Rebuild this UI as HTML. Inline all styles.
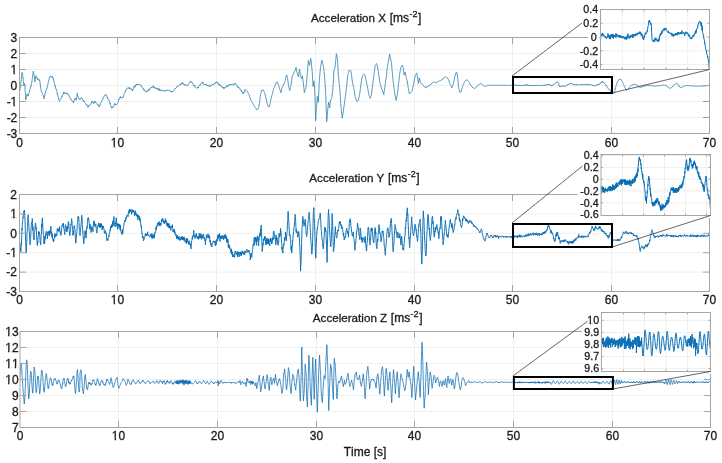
<!DOCTYPE html><html><head><meta charset="utf-8"><style>html,body{margin:0;padding:0;background:#fff}svg{display:block;will-change:transform}.t{stroke:#1a1a1a;stroke-width:0.3px}text{font-kerning:none}</style></head><body><svg width="722" height="463" viewBox="0 0 722 463" font-family="Liberation Sans, sans-serif">
<rect width="722" height="463" fill="#fff"/>
<g transform="translate(0,0)">
<path d="M117.5 37.5V133.5M216.5 37.5V133.5M315.5 37.5V133.5M414.5 37.5V133.5M512.5 37.5V133.5M611.5 37.5V133.5M19.5 53.5H709.5M19.5 69.5H709.5M19.5 85.5H709.5M19.5 101.5H709.5M19.5 117.5H709.5" stroke="#efefef" fill="none"/>
<clipPath id="c0"><rect x="19.5" y="27.5" width="690.0" height="116.0"/></clipPath>
<path clip-path="url(#c0)" d="M19.2 88.2L19.5 89.4 19.9 90.2 20.0 90.3 20.2 88.5 20.6 85.1 20.9 82.3 21.3 79.7 21.6 75.7 22.0 72.4 22.0 72.7 22.3 74.0 22.7 75.3 23.0 76.2 23.0 76.9 23.4 81.6 23.6 84.3 23.7 84.7 24.1 83.7 24.4 83.7 24.6 83.3 24.8 85.5 25.1 89.8 25.5 95.3 25.8 99.9 25.8 99.8 26.2 97.0 26.5 96.1 26.9 94.6 27.0 94.1 27.2 94.0 27.6 95.3 27.9 96.0 28.0 96.2 28.3 96.0 28.6 93.9 29.0 93.1 29.3 92.3 29.6 90.5 29.7 90.6 30.0 89.5 30.4 88.3 30.7 86.6 31.1 86.0 31.1 86.4 31.4 83.4 31.8 82.4 32.1 80.1 32.1 79.6 32.5 78.3 32.8 75.1 33.2 71.5 33.3 71.2 33.5 72.4 33.9 73.7 34.1 75.3 34.2 75.7 34.6 78.8 34.9 81.9 34.9 81.3 35.3 79.5 35.6 76.8 35.8 75.8 36.0 75.6 36.3 76.5 36.7 77.3 37.0 78.5 37.1 78.8 37.4 78.0 37.7 78.8 38.1 79.9 38.3 79.0 38.4 79.7 38.8 79.9 39.1 80.5 39.5 80.2 39.6 79.8 39.8 81.2 40.2 83.8 40.5 87.1 40.8 88.0 40.9 88.6 41.2 90.6 41.6 92.2 41.6 92.3 41.9 92.3 42.3 93.3 42.6 93.6 42.8 94.6 43.0 95.0 43.3 95.8 43.7 97.2 44.0 97.8 44.1 98.7 44.4 97.1 44.7 96.0 45.1 93.7 45.4 93.1 45.7 90.8 45.8 90.6 46.1 90.3 46.5 88.9 46.8 88.3 47.1 88.4 47.2 86.7 47.5 85.3 47.9 84.2 48.2 82.8 48.2 82.3 48.6 81.0 48.9 79.9 49.3 78.3 49.4 77.0 49.6 77.2 50.0 77.0 50.3 76.2 50.7 76.5 50.7 75.9 51.0 76.9 51.4 76.8 51.7 77.0 52.1 76.9 52.4 77.4 52.4 76.6 52.8 77.7 53.1 79.1 53.5 78.8 53.6 80.3 53.8 80.2 54.2 82.9 54.5 83.7 54.9 86.0 54.9 85.8 55.2 85.8 55.6 88.0 55.9 88.9 56.2 89.0 56.3 89.1 56.6 90.7 57.0 91.8 57.3 94.2 57.4 93.8 57.7 95.1 58.0 96.1 58.4 97.5 58.5 98.0 58.7 99.5 59.1 99.8 59.4 101.3 59.5 101.2 59.8 100.5 60.1 100.0 60.5 99.3 60.7 99.0 60.8 98.7 61.2 98.0 61.5 96.8 61.9 96.4 62.2 96.8 62.4 95.4 62.6 94.8 62.9 94.5 63.3 94.1 63.6 92.0 63.7 92.3 64.0 92.4 64.3 92.2 64.7 93.7 64.9 93.5 65.0 93.6 65.4 93.1 65.7 93.6 66.1 93.1 66.4 93.2 66.5 92.7 66.8 92.8 67.1 94.2 67.5 93.6 67.8 94.2 67.9 94.0 68.2 94.3 68.5 94.8 68.9 95.8 69.0 95.6 69.2 96.0 69.6 96.8 69.9 98.0 70.3 98.5 70.6 99.1 70.7 98.8 71.0 98.7 71.3 100.1 71.7 100.5 72.0 100.3 72.3 100.9 72.4 101.1 72.7 101.6 73.1 102.1 73.4 102.0 73.5 103.0 73.8 101.0 74.1 100.9 74.5 99.6 74.8 98.7 74.8 99.1 75.2 99.3 75.5 98.5 75.9 98.7 76.2 100.2 76.2 99.2 76.6 97.9 76.9 96.5 77.3 93.7 77.3 93.1 77.6 95.2 78.0 96.3 78.3 97.5 78.5 98.2 78.7 98.0 79.0 98.2 79.4 99.2 79.7 99.3 79.8 99.1 80.1 99.7 80.4 99.0 80.8 98.6 81.1 97.5 81.1 97.6 81.5 97.7 81.8 98.1 82.2 99.0 82.3 98.7 82.5 99.5 82.9 100.0 83.2 101.2 83.5 100.1 83.6 101.2 83.9 101.2 84.3 101.7 84.6 101.5 84.8 102.2 85.0 102.9 85.3 103.1 85.7 103.7 86.0 104.0 86.4 105.2 86.5 104.8 86.7 104.4 87.1 105.8 87.4 106.0 87.6 105.9 87.8 107.0 88.1 107.4 88.5 106.3 88.8 105.4 89.0 105.3 89.2 106.0 89.5 105.2 89.9 104.8 90.2 104.4 90.6 104.1 90.6 104.4 90.9 103.8 91.3 103.2 91.6 102.1 92.0 102.3 92.3 101.2 92.3 102.1 92.7 101.5 93.0 102.5 93.4 103.1 93.4 102.6 93.7 103.7 94.1 103.2 94.4 102.0 94.8 102.2 94.8 102.0 95.1 101.0 95.5 102.5 95.8 102.7 96.2 103.0 96.4 102.7 96.5 103.1 96.9 103.5 97.2 104.5 97.6 104.5 97.9 104.7 98.1 105.5 98.3 104.8 98.6 105.3 99.0 105.1 99.3 107.1 99.4 107.0 99.7 106.3 100.0 105.2 100.4 103.9 100.6 103.3 100.7 102.9 101.1 102.2 101.4 101.6 101.8 101.5 102.1 100.4 102.3 99.8 102.5 99.2 102.8 98.5 103.2 98.8 103.5 97.6 103.9 96.7 103.9 96.4 104.2 95.7 104.6 95.7 104.9 95.7 105.3 94.6 105.6 94.3 105.6 94.3 106.0 95.1 106.3 95.0 106.7 96.2 107.0 96.6 107.2 97.8 107.4 97.2 107.7 98.3 108.1 99.3 108.4 99.0 108.8 99.4 108.9 100.0 109.1 100.5 109.5 101.0 109.8 102.7 110.1 104.1 110.2 103.4 110.5 104.8 110.9 105.7 111.2 107.6 111.4 107.6 111.6 107.5 111.9 108.2 112.3 106.9 112.6 107.5 113.0 107.3 113.1 106.6 113.3 106.4 113.7 106.5 114.0 105.0 114.4 104.3 114.7 103.4 114.7 104.0 115.1 104.9 115.4 104.8 115.8 104.1 116.1 104.3 116.4 104.6 116.5 104.9 116.8 104.2 117.2 104.0 117.5 103.6 117.7 103.1 117.9 102.7 118.2 101.5 118.6 100.1 118.9 99.3 118.9 99.9 119.3 98.9 119.6 98.3 120.0 97.2 120.3 97.8 120.5 96.5 120.7 96.8 121.0 98.0 121.4 98.1 121.7 97.9 122.1 97.4 122.2 98.0 122.4 97.5 122.8 97.4 123.1 97.4 123.5 95.8 123.8 94.6 123.9 94.4 124.2 94.1 124.5 93.2 124.9 91.9 125.2 91.6 125.5 90.2 125.6 91.2 125.9 90.6 126.3 90.1 126.6 88.9 127.0 88.8 127.2 88.2 127.3 88.1 127.7 88.1 128.0 87.7 128.4 87.6 128.7 88.6 128.8 88.2 129.1 88.3 129.4 88.7 129.8 87.5 130.0 87.9 130.1 88.4 130.5 88.7 130.8 88.6 131.2 89.4 131.3 89.2 131.5 88.7 131.9 89.3 132.2 90.4 132.5 90.6 132.6 89.4 132.9 90.1 133.3 88.9 133.6 88.4 134.0 86.9 134.2 86.4 134.3 86.0 134.7 87.3 135.0 85.8 135.4 86.3 135.7 85.0 136.1 85.1 136.4 84.0 136.6 84.4 136.8 85.0 137.1 84.0 137.5 85.1 137.8 84.7 138.2 84.1 138.5 84.4 138.9 84.4 139.2 84.6 139.6 84.3 139.9 84.2 140.0 84.4 140.3 84.5 140.6 84.8 141.0 85.7 141.3 86.6 141.6 85.9 141.7 86.6 142.0 86.8 142.4 87.2 142.7 88.5 143.1 88.4 143.4 89.8 143.8 89.3 144.1 90.4 144.1 90.1 144.5 90.1 144.8 91.0 145.2 90.8 145.5 91.4 145.9 91.4 146.2 91.1 146.6 91.8 146.6 91.9 146.9 92.1 147.3 91.0 147.6 91.1 148.0 90.1 148.3 90.8 148.7 89.8 149.0 89.2 149.1 89.9 149.4 90.2 149.7 88.6 150.1 88.5 150.4 88.3 150.8 87.8 151.1 88.1 151.5 87.2 151.6 87.1 151.8 87.6 152.2 86.8 152.5 87.2 152.9 86.3 153.2 86.1 153.3 85.8 153.6 87.6 153.9 86.9 154.3 87.5 154.6 87.6 154.9 88.0 155.0 87.9 155.3 88.9 155.7 87.8 156.0 87.7 156.4 88.1 156.7 88.1 157.1 89.2 157.4 89.4 157.4 88.6 157.8 88.6 158.1 89.2 158.5 90.2 158.8 88.4 159.2 90.1 159.5 89.6 159.9 90.7 159.9 89.7 160.2 90.2 160.6 89.7 160.9 90.0 161.3 91.1 161.6 90.9 162.0 90.5 162.3 90.3 162.4 89.9 162.7 90.6 163.0 90.7 163.4 90.7 163.7 90.7 164.1 90.2 164.4 90.7 164.8 90.7 164.9 91.3 165.1 91.5 165.5 90.6 165.8 90.2 166.2 90.5 166.5 90.1 166.9 90.0 167.2 90.2 167.4 89.8 167.6 90.5 167.9 90.3 168.3 90.5 168.6 90.4 169.0 90.2 169.3 90.2 169.7 90.6 169.9 90.5 170.0 91.0 170.4 91.2 170.7 90.9 171.1 91.9 171.4 91.6 171.5 92.1 171.8 92.1 172.1 91.1 172.5 91.8 172.8 91.6 173.2 91.2 173.2 91.0 173.5 90.7 173.9 90.0 174.2 89.8 174.6 89.2 174.9 89.1 174.9 88.5 175.3 88.8 175.6 88.4 176.0 87.9 176.3 87.4 176.7 87.5 177.0 86.2 177.4 86.8 177.4 86.7 177.7 86.4 178.1 86.2 178.4 85.5 178.8 85.3 179.1 85.5 179.5 85.1 179.8 84.7 179.9 83.9 180.2 84.7 180.5 84.9 180.9 84.6 181.2 84.1 181.6 83.2 181.9 84.2 182.3 83.6 182.4 82.4 182.6 83.9 183.0 83.2 183.3 83.4 183.7 83.8 184.0 84.8 184.4 84.2 184.7 84.6 184.8 85.4 185.1 85.4 185.4 84.8 185.8 84.9 186.1 84.6 186.5 85.0 186.8 85.7 187.2 85.8 187.3 85.8 187.5 85.9 187.9 84.6 188.2 84.4 188.6 84.2 188.9 83.7 189.0 83.7 189.3 83.2 189.6 82.5 190.0 82.5 190.3 81.5 190.7 80.9 190.7 81.9 191.0 81.9 191.4 82.4 191.7 81.9 192.1 82.8 192.3 83.0 192.4 83.0 192.8 82.9 193.1 84.3 193.5 85.4 193.8 85.6 194.0 85.5 194.2 85.9 194.5 86.5 194.9 85.2 195.2 86.7 195.6 87.2 195.9 87.6 196.3 88.3 196.5 88.3 196.6 87.9 197.0 87.8 197.3 87.9 197.7 87.3 198.0 87.4 198.1 87.8 198.4 88.0 198.7 86.5 199.1 86.0 199.4 85.6 199.8 85.6 199.8 84.9 200.1 85.3 200.5 83.8 200.8 83.8 201.2 83.5 201.5 83.6 201.9 83.3 202.2 81.8 202.3 82.0 202.6 82.8 202.9 82.7 203.3 82.7 203.6 84.2 204.0 84.3 204.0 84.3 204.3 84.0 204.7 84.8 205.0 84.3 205.4 85.0 205.6 84.2 205.7 84.3 206.1 85.0 206.4 84.8 206.8 85.7 207.1 85.7 207.3 85.3 207.5 85.8 207.8 85.6 208.2 86.2 208.5 85.5 208.9 85.5 209.2 86.3 209.6 86.8 209.8 86.6 209.9 85.7 210.3 85.7 210.6 86.2 211.0 85.3 211.3 84.8 211.7 85.2 212.0 85.2 212.3 84.5 212.4 84.1 212.7 84.0 213.1 84.8 213.4 84.0 213.8 84.1 214.1 84.0 214.5 84.0 214.8 83.4 214.8 83.8 215.2 82.8 215.5 82.7 215.9 82.0 216.2 82.6 216.4 81.9 216.6 81.7 216.9 82.2 217.3 82.7 217.6 83.4 218.0 82.7 218.1 83.1 218.3 83.6 218.7 85.1 219.0 84.6 219.4 84.4 219.7 85.0 220.1 85.8 220.4 85.0 220.6 85.1 220.8 86.0 221.1 86.0 221.5 86.4 221.8 86.2 222.2 87.7 222.2 87.7 222.5 87.4 222.9 87.8 223.2 87.0 223.6 88.5 223.9 88.5 223.9 88.8 224.3 88.6 224.6 87.9 225.0 87.1 225.3 87.8 225.6 87.1 225.7 87.2 226.0 86.8 226.4 86.7 226.7 85.6 227.1 87.0 227.4 86.3 227.8 86.4 228.1 86.6 228.1 85.7 228.5 84.8 228.8 85.1 229.2 84.8 229.5 85.0 229.9 85.2 230.2 84.1 230.5 85.1 230.6 84.2 230.9 85.0 231.3 84.8 231.6 84.6 232.0 84.7 232.3 84.4 232.7 84.4 233.0 83.8 233.0 84.6 233.4 85.3 233.7 85.1 234.1 84.7 234.4 84.2 234.8 83.4 235.0 84.2 235.1 83.6 235.5 84.0 235.8 84.2 236.2 84.7 236.4 84.7 236.5 85.0 236.9 85.0 237.2 85.8 237.6 87.4 237.9 86.7 238.0 86.8 238.3 87.3 238.6 87.7 239.0 87.2 239.3 87.8 239.7 88.6 239.7 88.4 240.0 88.9 240.4 90.1 240.7 89.8 241.1 90.7 241.4 91.0 241.4 92.0 241.8 90.9 242.1 92.0 242.5 92.5 242.8 93.6 243.0 93.8 243.2 94.0 243.5 92.3 243.9 92.9 244.2 92.0 244.6 91.4 244.7 91.8 244.9 89.8 245.0 89.3 245.3 89.7 245.6 89.8 246.0 90.2 246.3 90.6 246.7 90.8 246.9 91.2 247.0 91.0 247.4 91.5 247.7 92.2 248.1 92.8 248.4 93.4 248.8 94.3 248.9 94.4 249.1 94.8 249.5 96.3 249.8 97.2 250.2 98.3 250.5 99.3 250.8 100.4 250.9 100.3 251.2 101.0 251.6 101.4 251.9 102.0 252.3 102.5 252.6 102.7 252.8 103.2 253.0 103.5 253.3 104.3 253.7 104.8 254.0 105.9 254.4 106.4 254.7 106.9 254.7 106.8 255.1 107.5 255.4 108.1 255.8 108.5 256.1 109.2 256.5 109.6 256.7 110.1 256.8 109.7 257.2 109.4 257.5 109.2 257.9 109.0 258.2 108.0 258.6 107.7 258.6 107.6 258.9 106.2 259.3 103.9 259.6 102.2 259.6 102.1 260.0 99.1 260.3 96.3 260.6 94.4 260.7 93.7 261.0 92.3 261.4 90.9 261.5 90.2 261.7 90.1 262.1 89.9 262.4 90.1 262.8 90.3 263.1 90.3 263.5 90.2 263.5 90.0 263.8 91.1 264.2 91.7 264.5 92.5 264.8 93.4 264.9 93.8 265.2 95.1 265.6 96.8 265.9 98.1 266.3 99.8 266.4 100.2 266.6 101.1 267.0 102.8 267.3 103.8 267.7 104.9 267.9 106.1 268.0 106.2 268.4 106.6 268.7 106.6 269.1 106.7 269.3 107.1 269.4 106.6 269.8 104.9 270.1 103.3 270.3 102.3 270.5 101.6 270.8 99.8 271.2 98.5 271.5 97.2 271.8 95.5 271.9 95.4 272.2 94.2 272.6 93.2 272.9 91.6 273.3 90.4 273.6 89.3 273.8 88.7 274.0 88.1 274.3 87.4 274.7 86.4 275.0 85.6 275.4 84.7 275.7 83.6 275.7 83.8 276.1 83.4 276.4 82.6 276.8 82.3 277.1 81.9 277.1 81.7 277.5 82.6 277.8 83.2 278.2 84.3 278.5 85.1 278.5 85.2 278.9 86.1 279.2 87.5 279.6 88.6 279.9 89.8 280.0 90.4 280.3 90.6 280.6 91.8 281.0 92.4 281.0 92.7 281.3 90.9 281.7 89.0 282.0 87.7 282.0 87.7 282.4 86.9 282.7 86.3 283.1 85.5 283.4 84.6 283.5 84.9 283.8 84.3 284.1 83.5 284.5 82.7 284.8 82.1 284.9 81.7 285.2 80.3 285.5 78.6 285.8 77.1 285.9 76.7 286.2 76.4 286.6 75.4 286.8 74.8 286.9 75.7 287.3 77.2 287.6 78.8 287.8 79.8 288.0 81.4 288.3 84.2 288.7 86.8 288.8 87.7 289.0 88.5 289.4 89.3 289.7 90.5 289.7 90.6 290.1 89.1 290.4 87.6 290.8 86.2 291.1 84.7 291.1 84.5 291.5 81.8 291.8 79.2 292.1 77.0 292.2 76.9 292.5 76.0 292.9 75.1 293.2 74.4 293.6 73.1 293.6 73.2 293.9 72.5 294.3 72.1 294.6 71.5 295.0 70.3 295.2 70.0 295.3 69.8 295.7 68.5 296.0 67.3 296.0 67.5 296.4 69.3 296.7 71.1 297.1 72.7 297.1 73.2 297.4 73.5 297.8 75.0 298.1 75.7 298.5 77.0 298.5 76.9 298.8 74.2 299.2 71.6 299.5 69.0 299.5 69.3 299.9 70.9 300.2 72.9 300.4 74.1 300.6 74.8 300.9 76.4 301.3 78.3 301.4 78.9 301.6 78.3 302.0 77.3 302.3 76.3 302.4 75.9 302.7 77.9 303.0 80.4 303.3 82.8 303.4 82.8 303.7 86.6 304.1 89.8 304.3 92.6 304.4 92.1 304.8 91.2 305.1 90.2 305.3 89.5 305.5 89.2 305.8 87.6 306.2 86.4 306.3 85.8 306.5 82.6 306.9 78.4 307.2 74.3 307.6 70.0 307.6 69.2 307.9 65.9 308.3 61.8 308.4 60.4 308.6 60.9 309.0 62.8 309.3 64.1 309.6 65.2 309.7 64.7 310.0 62.8 310.4 60.5 310.7 58.4 310.7 58.3 311.1 60.9 311.4 64.1 311.8 67.5 312.1 70.0 312.1 70.4 312.5 76.1 312.8 82.3 313.1 86.6 313.2 86.1 313.5 84.1 313.9 82.2 314.0 80.9 314.2 83.5 314.6 88.9 314.9 94.8 315.0 96.4 315.3 106.7 315.6 120.7 315.6 120.8 316.0 114.6 316.3 109.1 316.4 108.2 316.7 104.6 317.0 100.4 317.3 96.4 317.4 96.2 317.7 98.6 318.1 101.0 318.3 102.4 318.4 100.1 318.8 92.5 319.1 84.9 319.3 81.0 319.5 78.8 319.8 74.7 320.2 70.9 320.5 67.4 320.5 66.9 320.9 65.1 321.2 63.3 321.6 61.6 321.8 60.1 321.9 60.8 322.3 61.6 322.6 62.9 322.8 63.6 323.0 64.5 323.3 66.2 323.7 68.7 323.8 69.3 324.0 71.5 324.4 74.9 324.7 78.6 324.7 78.7 325.1 84.2 325.4 89.2 325.7 94.3 325.8 95.7 326.1 105.5 326.5 115.4 326.7 121.7 326.8 120.2 327.2 116.2 327.5 111.5 327.7 110.0 327.9 108.3 328.2 105.6 328.6 102.8 328.6 102.1 328.9 103.8 329.3 106.1 329.6 108.1 329.6 107.9 330.0 105.5 330.3 102.8 330.6 100.1 330.7 100.2 331.0 99.7 331.4 98.7 331.7 97.9 331.9 97.3 332.1 96.2 332.4 93.1 332.8 89.9 332.9 88.7 333.1 84.9 333.5 78.6 333.8 72.2 333.9 71.1 334.2 70.1 334.5 69.2 334.8 68.4 334.9 68.2 335.2 65.2 335.6 62.1 335.6 61.4 335.9 58.6 336.3 55.1 336.4 53.7 336.6 54.5 337.0 56.6 337.3 58.1 337.4 58.4 337.7 63.1 338.0 69.1 338.3 75.0 338.4 75.0 338.7 78.7 339.1 81.9 339.3 84.4 339.4 85.6 339.8 89.6 340.1 94.1 340.3 96.6 340.5 98.8 340.8 103.4 341.2 108.3 341.3 110.3 341.5 112.0 341.9 114.7 342.2 117.7 342.2 118.2 342.6 116.1 342.9 113.8 343.2 112.0 343.3 111.7 343.6 109.0 344.0 106.5 344.3 104.1 344.6 102.1 344.7 101.6 345.0 99.0 345.4 96.7 345.7 93.6 346.1 91.1 346.1 90.5 346.4 88.0 346.8 84.8 347.1 81.3 347.5 78.0 347.7 75.7 347.8 75.3 348.2 74.0 348.5 72.5 348.9 70.8 349.0 70.1 349.2 70.2 349.6 70.5 349.9 70.5 350.3 70.7 350.6 70.7 351.0 70.9 351.0 71.4 351.3 73.3 351.7 76.3 352.0 79.1 352.4 81.8 352.4 81.7 352.7 83.4 353.1 84.9 353.4 86.4 353.8 87.7 353.9 88.6 354.1 89.8 354.5 92.1 354.8 94.4 355.2 96.7 355.3 97.5 355.5 97.9 355.9 99.0 356.2 99.9 356.6 100.8 356.8 101.5 356.9 101.2 357.3 101.0 357.6 100.9 358.0 100.3 358.3 100.4 358.4 100.2 358.7 98.9 359.0 96.9 359.4 95.3 359.7 93.7 359.7 93.6 360.1 91.2 360.4 88.3 360.8 85.5 361.1 82.7 361.1 82.8 361.5 80.8 361.8 79.0 362.2 77.2 362.3 76.0 362.5 75.5 362.9 75.2 363.2 74.7 363.6 74.3 363.9 74.2 363.9 74.1 364.3 74.2 364.6 74.8 364.9 75.2 365.0 75.4 365.3 76.8 365.7 78.4 366.0 79.9 366.2 80.9 366.4 81.7 366.7 83.4 367.1 85.2 367.4 86.9 367.4 86.9 367.8 88.5 368.1 90.7 368.5 92.8 368.8 94.4 368.8 94.7 369.2 95.6 369.5 96.5 369.9 97.8 370.1 98.4 370.2 98.1 370.6 97.4 370.9 96.5 371.3 95.5 371.3 95.1 371.6 92.8 372.0 90.1 372.3 87.2 372.6 84.8 372.7 84.8 373.0 81.8 373.4 79.0 373.7 76.7 374.0 74.0 374.1 73.5 374.4 71.0 374.8 68.5 375.1 65.7 375.2 65.4 375.5 64.9 375.8 64.4 376.2 64.2 376.5 63.9 376.5 63.6 376.9 64.6 377.2 65.5 377.5 66.7 377.6 66.5 377.9 69.1 378.3 71.3 378.6 73.6 378.7 74.1 379.0 76.3 379.3 79.0 379.7 81.5 379.8 82.7 380.0 83.3 380.4 84.6 380.7 85.8 381.0 86.9 381.1 86.9 381.4 88.0 381.8 89.0 382.1 89.8 382.4 90.3 382.5 90.6 382.8 91.6 383.2 93.1 383.5 93.7 383.7 94.6 383.9 93.7 384.2 91.5 384.6 89.1 384.9 86.7 384.9 86.6 385.3 84.1 385.6 81.6 386.0 79.0 386.3 76.9 386.3 76.8 386.7 73.3 387.0 70.6 387.4 67.4 387.6 65.3 387.7 65.0 388.1 63.1 388.4 61.5 388.8 59.3 388.8 59.6 389.1 57.1 389.5 54.8 389.6 54.0 389.8 54.7 390.2 56.6 390.5 58.4 390.5 58.7 390.9 60.1 391.2 61.9 391.5 63.1 391.6 64.1 391.9 68.3 392.3 72.1 392.6 76.1 392.7 76.7 393.0 79.5 393.3 82.8 393.7 85.5 394.0 88.6 394.0 88.7 394.4 90.7 394.7 93.5 395.0 95.2 395.1 95.6 395.4 97.1 395.8 98.7 396.1 100.1 396.2 100.3 396.5 98.8 396.8 96.9 397.2 95.4 397.3 94.3 397.5 92.9 397.9 90.0 398.2 87.2 398.5 84.5 398.6 84.0 398.9 80.5 399.3 77.3 399.5 75.1 399.6 74.6 400.0 72.1 400.3 70.2 400.7 68.4 400.8 67.2 401.0 67.0 401.4 66.8 401.7 66.1 402.1 65.5 402.4 65.1 402.4 65.4 402.8 66.7 403.1 67.7 403.2 68.1 403.5 70.2 403.8 72.7 404.1 74.9 404.2 75.1 404.5 74.0 404.9 72.6 405.1 72.0 405.2 72.6 405.6 74.2 405.9 75.7 406.1 76.9 406.3 77.7 406.6 79.3 407.0 80.2 407.3 82.2 407.3 81.9 407.7 84.3 408.0 86.5 408.2 87.8 408.4 88.4 408.7 90.3 409.1 92.7 409.2 93.4 409.4 93.0 409.8 93.5 410.1 92.9 410.5 92.9 410.6 92.4 410.8 92.4 411.2 92.0 411.5 91.6 411.9 90.9 412.1 90.4 412.2 90.2 412.6 88.4 412.9 86.9 413.3 85.7 413.5 84.6 413.6 84.0 414.0 81.9 414.3 80.1 414.5 79.1 414.7 78.1 415.0 76.9 415.4 75.2 415.4 75.0 415.7 74.7 416.1 73.9 416.4 73.6 416.8 72.9 416.8 73.1 417.1 75.3 417.5 77.1 417.6 78.0 417.8 79.6 418.2 82.2 418.3 83.6 418.5 83.0 418.9 81.0 419.2 78.7 419.3 77.8 419.6 79.0 419.9 80.2 420.3 81.8 420.3 81.9 420.6 82.5 421.0 83.2 421.3 83.7 421.3 83.7 421.7 83.8 422.0 84.2 422.4 84.3 422.6 84.7 422.7 84.7 423.1 85.3 423.4 85.8 423.8 85.9 424.1 86.5 424.2 86.5 424.5 87.0 424.8 87.3 425.2 87.4 425.5 87.5 425.7 87.9 425.9 87.3 426.2 87.5 426.6 87.0 426.9 86.4 427.1 87.1 427.3 86.8 427.6 86.3 428.0 86.3 428.3 86.0 428.7 85.9 429.0 85.5 429.0 85.6 429.4 85.5 429.7 85.3 430.1 85.2 430.4 84.7 430.4 85.1 430.8 84.3 431.1 84.1 431.5 83.4 431.8 83.1 432.2 83.2 432.3 82.6 432.5 82.8 432.9 82.5 433.2 82.1 433.6 82.0 433.9 81.7 433.9 81.7 434.3 82.1 434.6 82.3 435.0 82.3 435.3 82.4 435.7 82.7 435.8 82.8 436.0 82.9 436.4 82.9 436.7 82.5 437.1 82.2 437.4 82.0 437.8 81.7 437.8 81.7 438.1 81.5 438.5 81.4 438.8 81.2 439.2 81.2 439.5 80.9 439.7 80.8 439.9 80.6 440.2 80.9 440.6 80.5 440.9 80.5 441.3 80.2 441.6 80.1 441.7 79.8 442.0 79.7 442.3 79.6 442.7 78.7 443.0 78.7 443.4 78.4 443.6 78.0 443.7 78.0 444.1 77.9 444.4 77.4 444.8 77.4 445.1 77.0 445.5 76.9 445.6 76.9 445.8 77.0 446.2 77.3 446.5 77.5 446.9 77.4 447.2 78.1 447.5 78.1 447.6 78.1 447.9 78.6 448.3 79.3 448.6 80.1 449.0 80.7 449.1 80.6 449.3 81.6 449.7 83.0 450.0 83.2 450.4 84.7 450.4 84.8 450.7 85.3 451.1 86.3 451.4 86.6 451.8 87.6 451.8 87.9 452.1 86.8 452.5 85.9 452.8 85.1 453.2 84.2 453.3 84.0 453.5 82.8 453.9 81.4 454.2 79.3 454.6 77.8 454.7 76.9 454.9 75.9 455.3 75.1 455.6 73.8 455.9 73.0 456.0 73.2 456.3 72.5 456.7 72.1 456.8 72.3 457.0 73.2 457.4 75.9 457.7 78.1 457.8 78.8 458.1 81.2 458.4 84.9 458.8 88.4 458.8 88.6 459.1 89.7 459.5 91.0 459.8 92.0 459.8 92.4 460.2 92.0 460.5 91.6 460.9 91.6 461.1 91.6 461.2 91.4 461.6 90.0 461.9 88.7 462.3 87.5 462.5 86.4 462.6 86.2 463.0 85.6 463.3 84.6 463.7 83.8 464.0 83.1 464.0 82.9 464.4 82.2 464.7 81.8 465.0 80.9 465.1 80.8 465.4 80.7 465.8 80.4 466.1 80.0 466.5 80.0 466.6 79.8 466.8 79.7 467.2 80.3 467.5 80.5 467.9 80.7 467.9 80.6 468.2 81.2 468.6 81.7 468.9 82.2 469.3 82.6 469.3 82.9 469.6 83.2 470.0 84.0 470.3 84.9 470.7 85.2 470.9 85.6 471.0 86.0 471.4 86.1 471.7 86.5 472.1 86.9 472.4 87.4 472.8 87.3 472.8 87.5 473.1 87.6 473.5 87.8 473.8 88.0 474.2 88.2 474.5 88.5 474.7 88.5 474.9 88.5 475.2 88.2 475.6 87.7 475.9 87.5 476.3 87.4 476.6 86.8 476.7 86.6 477.0 86.4 477.3 85.9 477.7 85.7 478.0 85.4 478.3 84.8 478.4 84.9 478.7 84.9 479.1 84.4 479.4 84.4 479.8 84.0 480.1 83.9 480.5 83.7 480.8 83.8 480.8 83.5 481.2 83.7 481.5 83.9 481.9 84.2 482.2 84.5 482.5 84.6 482.6 84.8 482.9 84.9 483.3 85.3 483.6 85.4 484.0 85.7 484.1 85.6 484.3 85.8 484.7 86.0 485.0 86.2 485.4 86.1 485.7 86.6 485.8 86.5 486.1 86.4 486.4 86.1 486.8 85.9 487.1 85.7 487.5 85.3 487.5 85.3 487.8 85.4 488.2 85.4 488.5 85.3 488.9 85.3 489.2 85.2 489.6 85.3 489.9 85.4 490.0 85.1 490.3 85.4 490.6 85.4 491.0 85.3 491.3 85.4 491.7 85.2 492.0 85.2 492.4 85.2 492.7 85.3 493.1 85.4 493.3 85.4 493.4 85.4 493.8 85.2 494.1 85.4 494.5 85.2 494.8 85.3 495.2 85.3 495.5 85.2 495.9 85.1 496.2 85.2 496.6 85.2 496.6 85.3 496.9 85.3 497.3 85.1 497.6 85.2 498.0 85.2 498.3 85.3 498.7 85.0 499.0 85.4 499.4 85.2 499.7 85.2 499.9 85.3 500.1 85.4 500.4 85.3 500.8 85.4 501.1 85.3 501.5 85.4 501.8 85.4 502.2 85.2 502.5 85.4 502.9 85.3 503.2 85.3 503.3 85.2 503.6 85.2 503.9 85.3 504.3 85.1 504.6 85.4 505.0 85.3 505.3 85.3 505.7 85.1 506.0 85.3 506.4 85.4 506.7 85.3 507.1 85.4 507.4 85.1 507.8 85.5 508.1 85.3 508.2 85.5 508.5 85.2 508.8 85.5 509.2 85.3 509.5 85.4 509.9 85.2 510.2 85.2 510.6 85.5 510.9 85.2 511.3 85.2 511.6 85.2 512.0 85.1 512.3 85.5 512.7 85.6 513.0 85.0 513.4 84.7 513.4 85.4 513.7 85.4 514.1 85.3 514.4 85.3 514.6 84.8 514.8 85.0 515.1 84.7 515.5 84.8 515.8 85.4 515.9 85.0 516.2 85.8 516.5 85.4 516.9 85.3 517.1 85.7 517.2 86.0 517.6 85.7 517.8 85.4 517.9 85.7 518.3 85.8 518.4 85.2 518.6 85.1 519.0 85.5 519.3 85.2 519.3 84.9 519.7 85.2 520.0 85.2 520.3 85.5 520.4 85.5 520.7 85.8 521.1 85.7 521.4 85.1 521.5 85.6 521.8 85.7 522.1 85.5 522.5 85.6 522.8 85.2 522.8 85.1 523.2 85.6 523.5 85.0 523.9 84.8 524.0 85.5 524.2 85.1 524.6 85.2 524.9 84.9 525.3 84.9 525.3 84.9 525.6 85.1 526.0 85.2 526.3 84.6 526.6 85.3 526.7 84.8 527.0 84.9 527.4 85.3 527.7 85.2 527.8 84.8 528.1 85.7 528.4 85.0 528.8 85.4 529.1 85.4 529.1 85.7 529.5 85.3 529.8 85.7 530.2 85.2 530.3 85.7 530.5 85.3 530.9 85.4 531.2 86.0 531.6 85.6 531.6 85.5 531.9 86.1 532.3 85.6 532.6 85.3 532.8 85.7 533.0 85.2 533.3 85.8 533.7 85.9 534.0 85.5 534.1 85.4 534.4 85.6 534.7 85.6 535.1 85.3 535.3 85.7 535.4 85.1 535.8 85.4 536.1 85.4 536.5 85.4 536.6 85.6 536.8 85.2 537.2 85.6 537.5 85.4 537.9 85.3 537.9 85.1 538.2 85.1 538.6 85.5 538.9 85.2 539.1 85.4 539.3 85.7 539.6 85.6 540.0 85.8 540.3 85.3 540.4 85.1 540.7 85.6 541.0 85.4 541.4 85.6 541.6 85.3 541.7 85.6 542.1 85.5 542.4 85.4 542.8 85.3 542.9 85.3 543.1 85.2 543.5 85.2 543.8 85.3 544.1 84.9 544.2 85.5 544.5 85.0 544.9 85.2 545.2 84.9 545.4 84.8 545.6 85.4 545.9 84.8 546.3 84.5 546.6 84.6 546.6 84.7 547.0 85.3 547.3 84.8 547.7 84.9 547.9 84.4 548.0 84.7 548.4 84.7 548.5 85.0 548.7 84.4 549.1 84.8 549.2 84.8 549.4 84.5 549.8 84.9 549.8 84.8 550.1 84.4 550.4 85.3 550.5 85.3 550.8 85.3 551.0 85.2 551.2 85.9 551.5 85.9 551.7 86.1 551.9 86.1 552.2 85.3 552.3 85.5 552.6 85.0 552.9 84.7 552.9 84.7 553.3 84.6 553.6 84.8 553.6 84.6 554.0 84.5 554.2 84.4 554.3 84.5 554.7 84.1 554.8 84.1 555.0 83.9 555.4 83.2 555.4 83.2 555.7 82.7 556.1 82.8 556.1 82.6 556.4 82.2 556.8 81.8 556.9 82.3 557.1 81.8 557.5 81.9 557.7 82.0 557.8 82.1 558.2 82.7 558.5 82.6 558.6 83.1 558.9 83.9 559.2 86.1 559.3 86.1 559.6 86.8 559.9 86.4 559.9 86.5 560.3 86.7 560.5 86.8 560.6 86.2 561.0 86.3 561.2 86.0 561.3 86.3 561.7 86.1 562.0 85.9 562.0 85.8 562.4 85.9 562.7 85.9 563.0 86.2 563.1 86.5 563.4 85.7 563.8 86.2 564.0 86.2 564.1 86.4 564.5 86.1 564.8 86.4 564.9 86.2 565.2 86.5 565.5 86.1 565.8 85.8 565.9 85.9 566.2 85.4 566.6 84.8 566.6 85.3 566.9 85.1 567.3 84.8 567.4 84.9 567.6 84.9 568.0 84.2 568.3 84.2 568.3 84.8 568.7 84.6 569.0 84.0 569.3 83.8 569.4 83.9 569.7 83.8 570.1 83.4 570.3 83.7 570.4 83.4 570.8 83.3 571.1 83.8 571.2 83.3 571.5 83.6 571.8 83.9 572.1 84.0 572.2 83.8 572.5 84.0 572.9 83.9 573.1 84.7 573.2 84.4 573.6 84.1 573.9 84.5 574.1 84.7 574.3 84.7 574.6 85.1 575.0 85.0 575.0 84.6 575.3 84.7 575.7 84.4 576.0 84.8 576.2 84.7 576.4 85.4 576.7 84.8 577.1 84.2 577.4 84.6 577.5 84.8 577.8 84.5 578.1 84.7 578.5 84.9 578.7 85.1 578.8 85.0 579.2 84.8 579.5 85.2 579.9 84.8 580.0 84.8 580.2 84.6 580.6 84.7 580.9 85.0 581.3 84.4 581.3 84.8 581.6 85.0 582.0 84.7 582.3 84.8 582.5 84.4 582.7 85.0 583.0 85.0 583.4 84.7 583.7 84.2 583.8 84.4 584.1 84.9 584.4 85.0 584.8 84.6 585.0 84.9 585.1 84.4 585.5 84.5 585.8 84.5 586.2 84.6 586.3 84.2 586.5 84.8 586.9 84.9 587.2 84.3 587.5 84.3 587.6 84.7 587.9 84.5 588.3 84.1 588.6 84.9 588.8 84.7 589.0 84.6 589.3 85.2 589.7 84.7 590.0 84.4 590.0 84.6 590.4 84.4 590.7 84.5 591.1 84.8 591.3 84.6 591.4 84.6 591.8 85.2 592.1 85.1 592.2 85.1 592.5 85.1 592.8 85.3 593.2 85.7 593.2 85.3 593.5 85.9 593.9 85.3 594.2 85.6 594.2 85.3 594.6 85.7 594.9 85.9 595.1 86.2 595.3 85.6 595.6 85.6 595.9 85.4 596.0 85.3 596.3 85.0 596.7 85.2 596.9 84.6 597.0 85.0 597.4 84.9 597.7 84.7 598.1 84.5 598.2 84.4 598.4 85.1 598.8 84.2 599.1 84.8 599.2 84.5 599.5 84.1 599.8 83.5 600.1 83.8 600.2 83.9 600.5 83.0 600.9 82.8 601.0 83.0 601.2 82.7 601.6 82.8 601.7 82.0 601.9 82.2 602.3 81.5 602.3 82.3 602.6 81.8 603.0 81.6 603.0 82.1 603.3 82.3 603.7 83.0 603.9 82.5 604.0 82.7 604.4 83.1 604.5 83.5 604.7 83.4 605.1 84.1 605.1 84.0 605.4 84.3 605.8 84.9 606.0 85.2 606.1 85.1 606.5 86.2 606.8 86.1 607.0 87.1 607.2 87.2 607.5 87.4 607.9 87.7 608.0 88.0 608.2 88.5 608.6 89.1 608.9 89.4 608.9 89.6 609.3 89.5 609.6 90.0 609.8 89.7 610.0 90.5 610.3 90.7 610.4 90.6 610.7 91.6 610.9 92.0 611.0 91.8 611.3 92.9 611.4 92.6 611.6 92.6 611.7 92.8 612.1 92.7 612.4 93.0 612.8 93.2 612.8 93.3 613.1 93.0 613.5 92.7 613.8 92.1 614.2 92.1 614.4 91.5 614.5 91.4 614.9 90.3 615.2 89.0 615.6 87.6 615.9 86.4 616.1 85.7 616.3 85.3 616.6 84.4 617.0 83.1 617.3 82.2 617.7 81.2 617.8 80.9 618.0 80.6 618.4 80.4 618.7 79.9 619.1 79.6 619.4 79.2 619.4 79.4 619.8 79.0 620.1 79.5 620.5 79.4 620.8 79.5 621.1 79.5 621.2 79.5 621.5 80.3 621.9 80.9 622.2 81.6 622.6 82.0 622.7 82.6 622.9 82.9 623.3 83.7 623.6 84.5 624.0 85.4 624.3 86.2 624.4 86.6 624.7 87.1 625.0 87.8 625.4 88.3 625.7 89.2 626.1 89.8 626.1 90.0 626.4 90.1 626.8 89.9 627.1 89.7 627.5 89.5 627.7 89.4 627.8 89.3 628.2 89.1 628.5 88.5 628.9 88.2 629.2 87.6 629.4 87.5 629.6 87.5 629.9 86.9 630.3 86.5 630.6 86.1 631.0 86.0 631.3 85.4 631.7 85.1 631.9 84.8 632.0 84.7 632.4 84.9 632.7 85.0 633.1 84.4 633.4 84.6 633.8 84.4 634.1 84.1 634.4 84.1 634.5 84.1 634.8 84.2 635.2 84.7 635.5 84.3 635.9 84.7 636.2 84.9 636.5 84.9 636.6 85.0 636.9 85.4 637.3 85.6 637.6 85.9 638.0 86.2 638.3 86.2 638.5 86.8 638.7 86.9 639.0 86.9 639.4 87.0 639.7 86.8 640.1 87.1 640.4 87.1 640.8 87.3 641.0 87.6 641.1 87.3 641.5 87.2 641.8 86.8 642.2 86.9 642.5 86.7 642.7 86.5 642.9 86.5 643.2 86.7 643.6 86.2 643.9 86.1 644.3 86.0 644.6 86.1 645.0 86.1 645.2 85.8 645.3 85.7 645.7 85.7 646.0 85.8 646.4 85.6 646.7 85.8 647.1 85.8 647.4 85.6 647.8 85.6 648.1 85.6 648.5 85.6 648.5 85.3 648.8 85.6 649.2 85.5 649.5 85.5 649.9 85.6 650.2 85.6 650.6 85.5 650.9 85.5 651.3 85.6 651.6 85.9 651.8 86.0 652.0 85.9 652.3 86.0 652.7 85.8 653.0 85.9 653.4 86.0 653.7 85.8 654.1 85.9 654.4 86.1 654.8 86.0 655.1 86.0 655.2 86.2 655.5 86.1 655.8 86.2 656.2 86.0 656.5 85.9 656.9 86.0 657.2 85.9 657.6 85.8 657.9 85.8 658.3 85.9 658.5 85.9 658.6 85.9 659.0 85.5 659.3 85.6 659.7 85.6 660.0 85.6 660.4 85.5 660.7 85.4 661.1 85.5 661.4 85.4 661.8 85.2 661.8 85.5 662.1 85.4 662.5 85.1 662.8 85.3 663.2 85.0 663.5 85.2 663.9 85.0 664.2 84.9 664.3 84.9 664.6 85.0 664.9 85.3 665.3 85.4 665.6 85.6 666.0 85.7 666.3 85.5 666.7 86.1 666.8 85.9 667.0 86.3 667.4 86.7 667.7 86.9 668.1 87.1 668.4 87.4 668.5 87.4 668.8 87.5 669.1 87.7 669.5 87.8 669.8 88.3 670.1 88.3 670.2 88.4 670.5 88.1 670.9 87.9 671.2 87.7 671.6 87.6 671.8 87.5 671.9 87.3 672.3 86.9 672.6 86.5 673.0 86.5 673.3 85.9 673.4 85.8 673.7 85.7 674.0 85.4 674.4 84.9 674.7 84.5 675.1 84.5 675.1 84.2 675.4 84.0 675.8 83.8 676.1 83.5 676.5 83.3 676.8 83.3 676.8 83.4 677.2 83.5 677.5 83.6 677.9 83.8 678.1 84.1 678.2 84.2 678.6 85.2 678.9 86.0 679.3 87.0 679.3 86.7 679.6 86.8 680.0 87.1 680.3 87.0 680.7 87.7 680.9 87.9 681.0 88.0 681.4 87.8 681.7 87.5 682.1 87.3 682.4 87.1 682.6 87.1 682.8 86.7 683.1 86.6 683.5 86.3 683.8 86.5 684.2 86.3 684.2 86.2 684.5 85.9 684.9 86.0 685.2 85.8 685.6 85.8 685.9 85.7 686.3 85.6 686.6 85.4 686.7 85.6 687.0 85.5 687.3 85.5 687.7 85.5 688.0 85.5 688.4 85.7 688.7 85.6 689.1 85.7 689.4 85.7 689.8 85.6 690.1 85.9 690.1 85.7 690.5 85.9 690.8 85.9 691.2 85.7 691.5 85.8 691.9 85.9 692.2 85.9 692.6 85.9 692.9 86.2 693.3 86.1 693.4 86.2 693.6 86.1 694.0 86.2 694.3 86.1 694.7 86.2 695.0 86.3 695.4 86.2 695.7 86.2 696.1 86.1 696.4 86.3 696.7 86.3 696.8 86.3 697.1 86.2 697.5 86.3 697.8 86.5 698.2 86.2 698.5 86.2 698.9 86.2 699.2 85.9 699.6 86.2 699.9 86.0 700.0 86.3 700.3 86.1 700.6 86.0 701.0 86.0 701.3 86.1 701.7 86.0 702.0 86.0 702.4 85.8 702.7 86.0 703.1 86.1 703.4 86.2 703.4 86.0 703.8 86.0 704.1 86.1 704.5 86.0 704.8 86.1 705.2 86.0 705.5 85.8 705.9 85.9 706.2 85.8 706.6 85.8 706.7 85.8 706.9 85.6 707.3 85.4 707.6 85.5 708.0 85.3 708.3 85.5 708.3 85.5 708.7 85.3 709.0 85.7 709.4 85.7 709.7 85.7 710.1 85.9 710.3 86.0 710.4 85.6 710.8 85.9 711.1 85.8 711.5 85.8 711.8 85.9 712.0 85.7" stroke="#2f80ae" stroke-width="0.8" fill="none" stroke-linejoin="round"/>
<rect x="19.5" y="37.5" width="690.0" height="96.0" stroke="#a5a5a5" fill="none"/>
<path d="M117.5 133.5v-6.5M117.5 37.5v6.5M216.5 133.5v-6.5M216.5 37.5v6.5M315.5 133.5v-6.5M315.5 37.5v6.5M414.5 133.5v-6.5M414.5 37.5v6.5M512.5 133.5v-6.5M512.5 37.5v6.5M611.5 133.5v-6.5M611.5 37.5v6.5M19.5 53.5h6.5M709.5 53.5h-6.5M19.5 69.5h6.5M709.5 69.5h-6.5M19.5 85.5h6.5M709.5 85.5h-6.5M19.5 101.5h6.5M709.5 101.5h-6.5M19.5 117.5h6.5M709.5 117.5h-6.5" stroke="#a5a5a5" fill="none"/>
<text class="t" x="17.3" y="41.8" font-size="12" text-anchor="end" fill="#1a1a1a">3</text>
<text class="t" x="17.3" y="57.8" font-size="12" text-anchor="end" fill="#1a1a1a">2</text>
<text class="t" x="17.3" y="73.8" font-size="12" text-anchor="end" fill="#1a1a1a">1</text>
<text class="t" x="17.3" y="89.8" font-size="12" text-anchor="end" fill="#1a1a1a">0</text>
<text class="t" x="17.3" y="105.8" font-size="12" text-anchor="end" fill="#1a1a1a">-1</text>
<text class="t" x="17.3" y="121.8" font-size="12" text-anchor="end" fill="#1a1a1a">-2</text>
<text class="t" x="17.3" y="137.8" font-size="12" text-anchor="end" fill="#1a1a1a">-3</text>
<text class="t" x="19.5" y="146.5" font-size="12" text-anchor="middle" fill="#1a1a1a">0</text>
<text class="t" x="117.5" y="146.5" font-size="12" text-anchor="middle" fill="#1a1a1a">10</text>
<text class="t" x="216.5" y="146.5" font-size="12" text-anchor="middle" fill="#1a1a1a">20</text>
<text class="t" x="315.5" y="146.5" font-size="12" text-anchor="middle" fill="#1a1a1a">30</text>
<text class="t" x="414.5" y="146.5" font-size="12" text-anchor="middle" fill="#1a1a1a">40</text>
<text class="t" x="512.5" y="146.5" font-size="12" text-anchor="middle" fill="#1a1a1a">50</text>
<text class="t" x="611.5" y="146.5" font-size="12" text-anchor="middle" fill="#1a1a1a">60</text>
<text class="t" x="709.5" y="146.5" font-size="12" text-anchor="middle" fill="#1a1a1a">70</text>
<text class="t" x="311.0" y="21.8" font-size="11.65" fill="#1a1a1a">Acceleration X <tspan dx="0.4" font-size="12">[ms</tspan><tspan dx="0.4" dy="-4.6" font-size="9">-2</tspan><tspan dx="0.6" dy="4.6" font-size="12">]</tspan></text>
<g transform="translate(0,0)">
<rect x="513" y="77" width="99" height="16" stroke="#000" stroke-width="2" fill="none"/>
<rect x="600.5" y="9.5" width="110.0" height="62.5" fill="#fff"/>
<text x="598.2" y="13.3" font-size="10.7" text-anchor="end" fill="#fff" stroke="#fff" stroke-width="6">0.4</text>
<text class="t" x="598.2" y="13.3" font-size="10.7" text-anchor="end" fill="#1a1a1a">0.4</text>
<text x="598.2" y="27.05" font-size="10.7" text-anchor="end" fill="#fff" stroke="#fff" stroke-width="6">0.2</text>
<text class="t" x="598.2" y="27.05" font-size="10.7" text-anchor="end" fill="#1a1a1a">0.2</text>
<text x="596.8000000000001" y="40.8" font-size="10.7" text-anchor="end" fill="#fff" stroke="#fff" stroke-width="6">0</text>
<text class="t" x="596.8000000000001" y="40.8" font-size="10.7" text-anchor="end" fill="#1a1a1a">0</text>
<text x="598.2" y="54.55" font-size="10.7" text-anchor="end" fill="#fff" stroke="#fff" stroke-width="6">-0.2</text>
<text class="t" x="598.2" y="54.55" font-size="10.7" text-anchor="end" fill="#1a1a1a">-0.2</text>
<text x="598.2" y="68.3" font-size="10.7" text-anchor="end" fill="#fff" stroke="#fff" stroke-width="6">-0.4</text>
<text class="t" x="598.2" y="68.3" font-size="10.7" text-anchor="end" fill="#1a1a1a">-0.4</text>
<path d="M622.3 9.5V69.5M644.1 9.5V69.5M665.9 9.5V69.5M687.7 9.5V69.5M600.5 23.25H709.5M600.5 37.0H709.5M600.5 50.75H709.5M600.5 64.5H709.5" stroke="#efefef" fill="none"/>
<clipPath id="ci0"><rect x="600.5" y="9.5" width="109.0" height="60.0"/></clipPath>
<path clip-path="url(#ci0)" d="M600.4 35.7L600.7 35.2 601.0 35.0 601.3 35.4 601.5 33.8 601.6 34.2 601.9 35.9 602.2 35.1 602.5 35.5 602.8 32.9 602.8 34.1 603.1 34.5 603.4 35.3 603.7 34.7 604.0 36.5 604.2 35.6 604.3 35.7 604.6 36.0 604.9 37.1 605.2 36.1 605.5 38.1 605.6 37.5 605.8 37.3 606.1 37.5 606.3 38.3 606.4 38.7 606.7 38.1 607.0 36.8 607.0 37.3 607.3 36.3 607.6 37.3 607.9 35.7 608.0 33.4 608.2 37.3 608.5 36.3 608.8 35.2 609.1 36.5 609.1 35.8 609.4 39.1 609.7 37.4 610.0 35.2 610.3 37.6 610.4 36.6 610.6 39.1 610.9 35.7 611.2 34.2 611.5 36.6 611.8 36.0 611.8 35.9 612.1 33.9 612.4 36.7 612.7 38.0 613.0 34.0 613.2 37.4 613.3 35.4 613.6 38.5 613.9 36.4 614.2 35.6 614.5 36.9 614.6 36.2 614.8 35.0 615.1 36.3 615.4 34.9 615.7 33.5 616.0 37.6 616.0 35.0 616.3 34.8 616.6 35.9 616.9 33.8 617.2 34.1 617.4 35.1 617.5 35.1 617.8 35.9 618.1 37.2 618.4 35.6 618.7 36.8 618.7 37.0 619.0 35.2 619.3 36.7 619.6 35.5 619.9 37.8 620.1 37.3 620.2 36.8 620.5 35.3 620.8 37.0 621.1 36.1 621.4 37.8 621.5 36.9 621.7 36.1 622.0 38.1 622.3 37.8 622.6 36.4 622.9 38.3 622.9 36.7 623.2 36.8 623.5 37.3 623.8 36.5 624.1 36.9 624.3 37.3 624.4 39.1 624.7 39.1 625.0 37.1 625.3 39.1 625.6 37.3 625.7 37.7 625.9 38.2 626.2 37.5 626.5 39.8 626.8 37.4 627.0 35.7 627.1 38.5 627.4 36.5 627.7 36.6 628.0 33.6 628.3 37.9 628.4 37.7 628.6 37.6 628.9 37.8 629.2 38.5 629.5 36.6 629.8 37.7 629.8 35.8 630.1 36.2 630.4 37.7 630.7 36.9 631.0 34.9 631.2 36.7 631.3 36.1 631.6 35.4 631.9 36.7 632.2 35.7 632.5 34.4 632.6 34.8 632.8 38.0 633.1 34.3 633.4 36.1 633.7 36.4 633.9 36.4 634.0 34.3 634.3 35.1 634.6 35.5 634.9 36.1 635.2 34.3 635.3 33.7 635.5 36.0 635.8 36.0 636.1 35.0 636.4 33.8 636.7 34.7 636.7 34.4 637.0 35.1 637.3 32.8 637.6 34.2 637.9 33.9 638.1 32.8 638.2 34.2 638.5 33.8 638.8 33.1 639.1 33.9 639.4 31.7 639.5 33.1 639.7 33.6 640.0 33.3 640.2 33.9 640.3 31.9 640.6 31.9 640.9 33.8 640.9 34.0 641.2 35.8 641.5 34.7 641.6 33.5 641.8 35.4 642.1 34.5 642.2 34.3 642.4 38.2 642.7 36.8 642.9 37.7 643.0 37.6 643.3 39.4 643.6 38.8 643.6 39.8 643.9 37.0 644.2 35.7 644.3 37.6 644.5 37.1 644.8 35.1 645.0 33.8 645.1 33.7 645.4 32.6 645.7 34.3 645.7 33.5 646.0 33.2 646.3 33.0 646.4 33.6 646.6 32.8 646.9 32.5 647.1 30.5 647.2 31.5 647.5 31.3 647.8 27.0 647.8 27.2 648.1 26.5 648.4 24.7 648.5 23.8 648.7 21.3 649.0 22.4 649.3 20.1 649.4 20.0 649.6 21.4 649.9 21.0 650.2 22.4 650.3 24.7 650.5 23.1 650.8 23.9 651.1 23.3 651.2 24.0 651.4 26.1 651.7 32.8 652.0 38.5 652.0 39.9 652.3 40.6 652.6 40.1 652.7 39.9 652.9 40.0 653.2 41.6 653.4 41.2 653.5 42.0 653.8 41.8 654.1 40.2 654.1 41.1 654.4 38.8 654.7 41.7 655.0 40.3 655.0 38.9 655.3 38.1 655.6 39.6 655.9 37.7 656.1 38.8 656.2 40.2 656.5 39.9 656.8 39.6 657.1 41.2 657.3 39.6 657.4 40.8 657.7 40.3 658.0 40.2 658.2 41.6 658.3 40.2 658.6 42.0 658.9 38.9 659.2 40.3 659.2 37.4 659.5 38.1 659.8 35.5 660.0 34.4 660.1 35.7 660.4 35.6 660.7 33.2 661.0 34.7 661.0 32.9 661.3 33.3 661.6 33.1 661.9 32.9 662.0 30.6 662.2 33.4 662.5 32.1 662.8 30.8 663.1 29.9 663.1 29.3 663.4 29.2 663.7 30.6 664.0 29.4 664.2 28.4 664.3 28.9 664.6 30.5 664.9 28.4 665.1 27.9 665.2 29.7 665.5 29.3 665.8 29.4 666.1 29.2 666.1 28.4 666.4 29.2 666.7 30.2 667.0 30.9 667.2 31.8 667.3 32.1 667.6 32.1 667.9 32.5 668.2 31.8 668.3 30.9 668.5 32.5 668.8 32.3 669.1 32.8 669.3 33.3 669.4 32.5 669.7 32.6 670.0 33.5 670.3 33.7 670.6 33.0 670.7 34.0 670.9 33.4 671.2 32.8 671.5 33.8 671.8 35.6 672.0 33.4 672.1 35.0 672.4 35.4 672.7 35.8 673.0 33.9 673.3 36.6 673.4 35.1 673.6 34.7 673.9 34.6 674.2 35.3 674.5 34.7 674.8 34.4 674.8 35.7 675.1 33.8 675.4 33.4 675.7 34.9 676.0 34.7 676.2 35.0 676.3 33.0 676.6 34.9 676.9 34.2 677.2 35.3 677.5 32.5 677.6 33.8 677.8 33.3 678.1 32.1 678.4 32.8 678.7 34.4 679.0 32.9 679.0 32.7 679.3 34.0 679.6 34.0 679.9 33.9 680.2 32.2 680.3 32.8 680.5 33.8 680.8 32.3 681.1 32.2 681.4 33.6 681.7 34.3 681.7 31.8 682.0 30.6 682.3 31.7 682.6 32.1 682.9 33.0 683.1 33.7 683.2 33.0 683.5 32.6 683.8 33.5 684.1 32.6 684.4 33.5 684.5 33.0 684.7 35.9 685.0 34.2 685.3 32.6 685.6 32.4 685.9 32.8 685.9 31.7 686.2 32.6 686.5 32.7 686.8 34.2 687.1 33.1 687.3 32.9 687.4 32.4 687.7 32.8 688.0 34.0 688.2 34.1 688.3 35.3 688.6 34.3 688.9 36.4 689.2 36.2 689.3 36.3 689.5 34.7 689.8 35.7 690.1 37.9 690.4 38.9 690.4 37.9 690.7 38.6 691.0 37.7 691.3 38.0 691.4 37.8 691.6 39.1 691.9 38.1 692.2 37.1 692.4 36.7 692.5 37.4 692.8 36.6 693.1 35.0 693.4 36.7 693.5 35.2 693.7 34.8 694.0 35.8 694.3 35.1 694.6 33.8 694.9 34.1 694.9 32.6 695.2 32.6 695.5 30.8 695.8 33.6 696.0 30.5 696.1 32.5 696.4 30.1 696.7 28.9 696.9 28.6 697.0 28.9 697.3 28.2 697.6 28.1 697.9 25.8 697.9 26.1 698.2 23.9 698.5 24.1 698.7 22.7 698.8 22.1 699.1 21.8 699.4 21.2 699.4 21.3 699.7 22.0 700.0 21.7 700.1 21.9 700.3 23.5 700.6 21.9 700.9 23.5 701.1 26.0 701.2 22.4 701.5 25.1 701.8 27.2 701.8 25.2 702.1 30.4 702.4 27.2 702.5 31.4 702.7 32.6 703.0 33.7 703.3 34.4 703.4 36.0 703.6 35.6 703.9 39.0 704.2 39.1 704.5 41.8 704.5 43.5 704.8 42.6 705.1 44.8 705.4 46.8 705.6 46.9 705.7 49.2 706.0 50.2 706.3 50.2 706.6 53.2 706.6 52.9 706.9 53.8 707.2 55.4 707.5 55.6 707.6 57.5 707.8 56.7 708.1 59.4 708.3 59.4 708.4 60.9 708.7 62.1 708.8 63.5 709.0 64.4 709.2 69.4 709.3 69.5 709.5 69.5" stroke="#0b6fb5" stroke-width="1" fill="none" stroke-linejoin="round"/>
<rect x="600.5" y="9.5" width="109.0" height="60.0" stroke="#a5a5a5" fill="none"/>
<path d="M622.3 69.5v-2M622.3 9.5v2M644.1 69.5v-2M644.1 9.5v2M665.9 69.5v-2M665.9 9.5v2M687.7 69.5v-2M687.7 9.5v2M600.5 23.25h2M709.5 23.25h-2M600.5 37.0h2M709.5 37.0h-2M600.5 50.75h2M709.5 50.75h-2M600.5 64.5h2M709.5 64.5h-2" stroke="#a5a5a5" fill="none"/>
<path d="M512 76L582 23M612 93L709.5 69.5" stroke="#222" stroke-width="0.7" fill="none"/>
</g></g>
<g transform="translate(0,0)">
<path d="M117.5 194.5V291.5M216.5 194.5V291.5M315.5 194.5V291.5M414.5 194.5V291.5M512.5 194.5V291.5M611.5 194.5V291.5M19.5 213.9H709.5M19.5 233.3H709.5M19.5 252.7H709.5M19.5 272.1H709.5" stroke="#efefef" fill="none"/>
<clipPath id="c1"><rect x="19.5" y="184.5" width="690.0" height="117.0"/></clipPath>
<path clip-path="url(#c1)" d="M19.6 243.2L19.9 244.8 20.2 246.7 20.3 247.4 20.5 247.6 20.8 251.2 20.9 251.8 21.1 246.0 21.4 242.2 21.5 245.2 21.7 236.0 22.0 228.5 22.0 230.2 22.3 224.5 22.6 222.1 22.7 220.6 22.9 217.1 23.2 217.9 23.4 213.4 23.5 213.5 23.8 211.0 24.0 211.6 24.1 211.1 24.4 211.8 24.5 210.1 24.7 215.8 25.0 219.2 25.1 222.7 25.3 230.7 25.6 240.0 25.7 242.7 25.9 246.9 26.2 252.9 26.2 252.5 26.5 246.1 26.8 242.0 26.8 241.4 27.1 231.3 27.4 229.2 27.4 226.5 27.7 222.4 27.9 219.0 28.0 216.2 28.3 214.7 28.3 220.1 28.6 222.0 28.9 223.5 28.9 226.1 29.2 231.2 29.5 234.1 29.5 234.1 29.8 240.4 30.0 244.8 30.1 243.6 30.4 240.9 30.6 239.3 30.7 237.5 31.0 228.5 31.1 228.5 31.3 225.4 31.6 222.2 31.7 222.3 31.9 221.7 32.2 220.8 32.3 218.6 32.5 223.5 32.8 230.5 32.8 226.4 33.1 230.6 33.4 236.9 33.4 237.5 33.7 239.0 34.0 238.2 34.0 239.9 34.3 234.6 34.5 232.7 34.6 232.1 34.9 229.0 35.1 227.2 35.2 225.0 35.5 222.9 35.6 223.4 35.8 224.5 36.1 229.1 36.2 227.5 36.4 230.7 36.7 238.2 36.8 237.7 37.0 241.6 37.3 245.0 37.3 245.5 37.6 241.9 37.9 243.0 37.9 236.8 38.2 236.6 38.4 236.0 38.5 231.6 38.8 231.4 39.0 231.3 39.1 233.4 39.4 232.2 39.6 234.5 39.7 236.5 40.0 240.2 40.1 241.3 40.3 243.0 40.6 243.5 40.7 244.8 40.9 239.1 41.2 234.7 41.3 234.8 41.5 229.9 41.8 224.0 41.8 227.3 42.1 221.5 42.4 217.9 42.4 221.5 42.7 223.2 42.9 228.4 43.0 229.2 43.3 233.9 43.5 234.7 43.6 235.2 43.9 239.3 44.1 243.9 44.2 239.1 44.5 243.6 44.6 244.1 44.8 239.9 45.1 236.0 45.2 239.3 45.4 234.7 45.7 235.4 45.7 233.8 46.0 232.5 46.3 231.3 46.3 232.5 46.6 234.5 46.9 235.3 46.9 235.5 47.2 235.8 47.4 238.8 47.5 237.5 47.8 232.2 48.0 231.8 48.1 233.6 48.4 231.1 48.6 231.8 48.7 231.8 49.0 234.0 49.1 236.0 49.3 235.6 49.6 232.2 49.7 234.8 49.9 230.6 50.2 233.2 50.2 231.9 50.5 229.8 50.8 229.0 50.8 226.2 51.1 230.9 51.4 233.0 51.4 234.1 51.7 231.7 51.9 236.4 52.0 234.3 52.3 238.2 52.5 234.3 52.6 238.5 52.9 239.5 53.1 240.8 53.2 240.5 53.5 239.0 53.6 241.9 53.8 240.7 54.1 238.7 54.2 238.8 54.4 238.2 54.7 234.6 54.7 233.3 55.0 234.2 55.3 237.1 55.3 236.9 55.6 234.8 55.9 234.3 55.9 236.5 56.2 235.6 56.4 235.2 56.5 234.1 56.8 235.5 57.0 232.1 57.1 230.9 57.4 228.6 57.5 229.3 57.7 231.2 58.0 230.1 58.1 228.6 58.3 229.9 58.6 230.9 58.7 229.8 58.9 231.6 59.2 229.0 59.2 230.5 59.5 226.5 59.8 228.8 59.8 231.4 60.1 232.3 60.4 231.7 60.4 232.6 60.7 234.2 60.9 235.4 61.0 234.8 61.3 233.2 61.5 232.2 61.6 229.7 61.9 226.7 62.0 225.2 62.2 225.9 62.5 226.2 62.6 224.2 62.8 224.4 63.1 224.8 63.2 223.0 63.4 224.0 63.7 227.3 63.7 226.7 64.0 229.6 64.3 229.6 64.3 231.4 64.6 233.8 64.8 234.7 64.9 231.2 65.2 228.4 65.4 226.3 65.5 224.7 65.8 226.8 66.0 227.1 66.1 226.4 66.4 231.7 66.5 228.3 66.7 229.7 67.0 231.7 67.1 230.5 67.3 229.2 67.6 226.4 67.7 229.0 67.9 225.8 68.2 223.3 68.2 222.2 68.5 221.5 68.8 224.5 68.8 223.9 69.1 229.6 69.3 230.5 69.4 233.0 69.7 234.2 69.9 235.8 70.0 233.4 70.3 231.2 70.5 231.1 70.6 229.4 70.9 224.3 71.0 224.2 71.2 224.9 71.5 219.2 71.6 218.6 71.8 220.5 72.1 221.3 72.1 225.0 72.4 226.4 72.7 229.6 72.7 232.5 73.0 235.4 73.3 233.4 73.3 234.7 73.6 230.8 73.8 229.4 73.9 228.4 74.2 225.5 74.4 226.7 74.5 226.4 74.8 228.4 75.0 229.4 75.1 232.5 75.4 238.0 75.5 239.8 75.7 243.2 76.0 242.5 76.1 241.5 76.3 237.3 76.6 234.8 76.6 234.0 76.9 231.7 77.2 228.2 77.2 223.9 77.5 222.8 77.8 220.0 77.8 218.9 78.1 216.5 78.3 218.4 78.4 216.4 78.7 217.3 78.9 219.0 79.0 222.3 79.3 227.9 79.4 229.9 79.6 230.5 79.9 233.3 80.0 235.6 80.2 232.4 80.5 230.5 80.6 228.2 80.8 227.0 81.1 224.2 81.1 223.7 81.4 221.1 81.7 215.9 81.7 215.3 82.0 218.4 82.3 222.5 82.3 224.5 82.6 227.0 82.8 232.2 82.9 231.8 83.2 238.1 83.4 239.5 83.5 239.3 83.8 243.7 83.9 242.0 84.1 240.4 84.4 237.0 84.5 237.8 84.7 235.5 85.0 231.8 85.1 230.6 85.3 234.3 85.6 233.0 85.6 231.6 85.9 236.5 86.2 238.1 86.2 236.0 86.5 229.6 86.7 228.2 86.8 229.2 87.1 226.0 87.3 227.3 87.4 221.5 87.7 221.7 87.9 218.5 88.0 220.1 88.3 217.5 88.4 219.0 88.6 219.3 88.9 220.4 89.0 220.8 89.2 223.3 89.5 225.9 89.6 229.1 89.8 229.0 90.1 226.2 90.1 224.2 90.4 226.7 90.7 227.4 90.7 230.2 91.0 230.4 91.2 232.5 91.3 230.2 91.6 227.5 91.8 227.0 91.9 226.4 92.2 229.1 92.4 229.2 92.5 228.5 92.8 228.2 92.9 231.6 93.1 226.9 93.4 224.5 93.5 225.0 93.7 222.1 94.0 220.7 94.1 223.1 94.3 225.3 94.6 222.2 94.6 224.5 94.9 225.5 95.2 227.0 95.2 226.4 95.5 224.5 95.7 224.9 95.8 223.9 96.1 226.3 96.3 228.5 96.4 229.7 96.7 230.2 96.9 233.0 97.0 230.7 97.3 229.3 97.4 229.3 97.6 227.2 97.9 225.9 98.0 225.8 98.2 226.6 98.5 223.1 98.5 222.8 98.8 224.8 99.1 225.6 99.1 223.7 99.4 226.5 99.7 223.7 99.7 224.8 100.0 227.8 100.0 226.1 100.3 224.5 100.6 227.8 100.9 223.2 101.1 224.5 101.2 226.2 101.5 224.0 101.8 226.0 102.1 227.6 102.1 230.0 102.4 225.9 102.7 227.2 103.0 228.4 103.1 227.2 103.3 225.9 103.6 228.0 103.9 228.5 104.2 230.5 104.2 232.1 104.5 233.3 104.8 232.4 105.1 232.6 105.3 230.5 105.4 232.0 105.7 233.2 106.0 232.7 106.3 234.4 106.3 233.6 106.6 237.8 106.9 240.5 107.2 238.8 107.3 239.0 107.5 238.9 107.8 240.6 108.0 239.0 108.1 238.3 108.4 236.7 108.7 236.7 108.7 235.5 109.0 236.4 109.3 233.2 109.5 233.4 109.6 232.2 109.9 232.1 110.1 229.7 110.2 230.7 110.5 226.6 110.7 228.1 110.8 227.1 111.1 226.4 111.2 225.8 111.4 227.9 111.7 224.6 111.9 227.3 112.0 224.9 112.3 226.6 112.6 221.2 112.6 223.9 112.9 222.5 113.2 225.7 113.3 220.8 113.5 221.0 113.8 218.8 114.0 216.5 114.1 219.7 114.4 224.2 114.6 224.8 114.7 226.1 115.0 225.6 115.2 226.8 115.3 224.5 115.6 223.0 115.7 224.0 115.9 221.0 116.2 218.8 116.3 217.8 116.5 220.5 116.8 226.1 116.8 223.6 117.1 224.3 117.4 226.6 117.6 226.9 117.7 229.3 118.0 223.5 118.3 225.8 118.3 226.3 118.6 224.1 118.9 224.2 119.0 225.9 119.2 227.5 119.5 224.5 119.7 224.2 119.8 228.3 120.1 229.7 120.4 228.0 120.4 225.3 120.7 230.9 121.0 230.5 121.1 232.5 121.3 232.5 121.6 232.8 121.8 232.3 121.9 234.7 122.2 234.3 122.5 229.6 122.5 231.5 122.8 233.3 123.1 230.1 123.2 228.5 123.4 228.5 123.7 226.5 123.9 225.1 124.0 224.0 124.3 222.5 124.6 221.5 124.6 222.1 124.9 219.9 125.2 219.9 125.3 219.8 125.5 221.4 125.8 219.1 126.0 217.5 126.1 219.0 126.4 217.2 126.7 217.3 126.7 215.8 127.0 216.0 127.3 215.5 127.4 215.2 127.6 214.9 127.9 216.8 128.1 216.5 128.2 213.9 128.5 211.6 128.8 210.6 128.8 213.0 129.1 213.4 129.4 213.2 129.5 209.3 129.7 211.8 130.0 209.5 130.2 210.5 130.3 211.2 130.6 210.7 130.9 211.6 130.9 209.4 131.2 211.8 131.5 211.1 131.6 214.2 131.8 212.8 132.1 212.7 132.3 211.7 132.4 209.7 132.7 211.2 133.0 210.1 133.0 211.1 133.3 212.0 133.6 210.4 133.7 211.7 133.9 212.2 134.2 211.9 134.4 214.9 134.5 215.7 134.8 213.5 135.1 213.7 135.1 210.6 135.4 214.5 135.7 213.7 135.8 212.1 136.0 214.9 136.3 215.8 136.5 214.8 136.6 214.5 136.9 214.1 137.2 216.8 137.2 214.6 137.5 216.5 137.8 219.9 137.9 217.0 138.1 217.2 138.4 216.6 138.6 215.2 138.7 216.8 139.0 217.7 139.3 216.2 139.3 217.9 139.6 219.9 139.9 221.2 140.0 217.8 140.2 219.6 140.5 220.4 140.7 224.4 140.8 224.1 141.1 227.1 141.4 227.2 141.4 226.1 141.7 230.9 142.0 233.4 142.1 233.1 142.3 235.7 142.6 237.9 142.8 238.2 142.9 236.3 143.2 236.5 143.5 240.2 143.5 241.0 143.8 239.9 144.1 239.3 144.2 238.5 144.4 238.7 144.7 237.3 144.9 236.7 145.0 234.7 145.3 235.0 145.6 235.3 145.6 233.4 145.9 233.4 146.2 234.2 146.3 235.7 146.5 234.4 146.8 235.7 147.1 233.5 147.4 233.0 147.7 231.7 147.7 232.5 148.0 235.4 148.3 234.5 148.6 234.9 148.9 235.8 149.1 235.6 149.2 235.9 149.5 236.2 149.8 237.2 150.1 236.4 150.4 236.0 150.5 235.8 150.7 234.2 151.0 235.4 151.3 234.8 151.6 237.5 151.9 233.3 152.0 235.1 152.2 238.7 152.5 236.2 152.8 235.2 153.1 236.9 153.1 238.2 153.4 235.0 153.7 236.1 154.0 235.2 154.1 234.1 154.3 238.1 154.6 233.8 154.8 232.6 154.9 232.8 155.2 233.3 155.5 232.1 155.5 232.4 155.8 230.3 156.1 227.1 156.2 229.7 156.4 228.0 156.7 226.9 156.9 225.7 157.0 226.7 157.3 224.9 157.6 225.5 157.6 223.1 157.9 224.5 158.2 224.5 158.3 222.4 158.5 222.8 158.8 222.9 159.0 225.2 159.1 221.5 159.4 225.2 159.7 223.9 159.7 224.9 160.0 226.2 160.3 223.3 160.4 223.9 160.6 223.0 160.9 225.2 161.1 224.0 161.2 223.6 161.5 219.2 161.8 219.5 161.8 221.8 162.1 219.4 162.4 219.2 162.5 220.1 162.7 218.4 163.0 221.0 163.2 220.7 163.3 221.7 163.6 221.1 163.9 223.3 163.9 220.8 164.2 223.0 164.5 223.0 164.6 223.7 164.8 223.2 165.1 223.1 165.3 218.6 165.4 222.5 165.7 221.0 166.0 221.7 166.0 221.5 166.3 220.6 166.6 222.4 166.7 224.0 166.9 225.8 167.2 223.5 167.4 222.8 167.5 225.9 167.8 223.2 168.1 227.2 168.1 225.0 168.4 223.9 168.7 226.3 168.8 227.5 169.0 223.4 169.3 227.7 169.5 225.6 169.6 228.3 169.9 226.8 170.2 225.9 170.2 228.2 170.5 228.5 170.8 230.4 170.9 229.3 171.1 228.2 171.4 226.8 171.6 226.2 171.7 226.7 172.0 226.0 172.3 227.8 172.3 224.7 172.6 228.7 172.9 229.1 173.0 232.1 173.2 230.9 173.5 229.8 173.7 231.7 173.8 229.4 174.1 230.2 174.4 229.2 174.4 233.3 174.7 233.1 175.0 231.6 175.1 233.9 175.3 235.4 175.6 235.3 175.8 235.2 175.9 234.1 176.2 235.6 176.5 237.4 176.5 238.8 176.8 235.9 177.1 235.3 177.2 238.2 177.4 235.5 177.7 238.2 177.9 237.0 178.0 238.1 178.3 239.6 178.6 238.1 178.6 238.5 178.9 236.4 179.2 236.2 179.3 238.8 179.5 239.5 179.8 239.4 180.0 240.6 180.1 237.6 180.4 238.0 180.7 239.8 180.7 238.7 181.0 238.3 181.3 236.9 181.4 238.8 181.6 237.0 181.9 239.4 182.1 236.4 182.2 239.6 182.5 236.7 182.8 240.0 182.8 237.7 183.1 238.7 183.4 240.3 183.5 237.5 183.7 238.7 184.0 238.9 184.2 236.8 184.3 240.0 184.6 240.4 184.9 238.8 185.2 242.3 185.5 241.0 185.7 241.1 185.8 241.8 186.1 239.9 186.4 243.8 186.7 238.2 187.0 241.5 187.1 241.8 187.3 238.3 187.6 238.8 187.9 242.4 188.2 241.4 188.5 242.6 188.5 244.4 188.8 242.7 189.1 242.4 189.4 240.7 189.7 244.4 190.0 243.4 190.3 245.3 190.3 245.5 190.6 244.1 190.9 249.0 191.0 248.3 191.2 246.0 191.5 241.0 191.7 240.7 191.8 240.4 192.1 239.3 192.4 236.5 192.4 239.1 192.7 237.1 193.0 236.6 193.1 235.3 193.3 236.6 193.6 235.0 193.7 230.3 193.9 233.4 194.2 235.2 194.3 236.1 194.5 235.7 194.8 237.1 194.8 237.2 195.1 238.6 195.4 236.2 195.5 235.8 195.7 234.8 196.0 236.1 196.2 234.7 196.3 233.3 196.6 237.0 196.9 236.0 196.9 237.6 197.2 237.9 197.5 238.8 197.6 238.7 197.8 237.0 198.1 237.1 198.3 236.4 198.4 239.3 198.7 236.9 199.0 237.8 199.0 234.3 199.3 233.2 199.6 238.2 199.7 236.7 199.9 238.0 200.2 237.8 200.4 238.2 200.5 237.4 200.8 233.5 201.1 237.0 201.1 234.8 201.4 235.5 201.7 239.3 201.8 238.3 202.0 237.3 202.3 235.7 202.6 237.7 202.6 238.0 202.9 236.3 203.2 234.0 203.3 235.2 203.5 234.7 203.8 237.1 204.0 238.4 204.1 239.1 204.4 237.5 204.7 239.5 204.7 240.5 205.0 239.5 205.3 240.9 205.4 244.6 205.6 240.4 205.9 240.4 206.1 237.8 206.2 237.8 206.5 234.8 206.8 235.8 206.8 238.0 207.1 237.9 207.4 236.2 207.5 235.9 207.7 234.5 208.0 233.9 208.2 234.1 208.3 235.6 208.6 234.6 208.9 238.3 208.9 235.5 209.2 235.6 209.5 238.1 209.6 236.5 209.8 238.3 210.1 242.3 210.3 240.0 210.4 241.5 210.7 243.5 211.0 245.1 211.0 243.4 211.3 247.0 211.6 246.5 211.7 246.1 211.9 246.8 212.2 243.2 212.4 243.1 212.5 243.5 212.8 243.5 213.1 241.3 213.1 241.7 213.4 241.8 213.7 241.7 213.8 240.8 214.0 241.9 214.3 241.0 214.5 241.6 214.6 242.6 214.9 243.1 215.2 243.5 215.2 245.7 215.5 242.4 215.8 240.7 215.9 242.6 216.1 245.0 216.4 241.4 216.6 242.5 216.7 239.7 217.0 238.6 217.3 238.8 217.3 239.2 217.6 241.0 217.9 235.4 218.0 238.9 218.2 234.6 218.5 235.6 218.7 237.5 218.8 237.2 219.1 236.7 219.4 233.7 219.4 236.5 219.7 234.8 220.0 241.4 220.1 237.9 220.3 238.1 220.6 236.2 220.8 237.0 220.9 235.8 221.2 239.0 221.5 237.4 221.5 238.7 221.8 236.4 222.1 236.4 222.2 238.2 222.4 235.7 222.7 235.1 222.9 238.6 223.0 236.9 223.3 237.5 223.6 239.7 223.6 236.6 223.9 238.6 224.2 235.6 224.3 238.1 224.5 237.6 224.8 235.1 225.0 235.5 225.1 234.4 225.4 236.7 225.7 237.8 225.7 234.8 226.0 239.1 226.3 237.3 226.4 238.4 226.6 236.6 226.9 242.6 227.1 238.9 227.2 239.8 227.5 239.6 227.8 242.7 227.8 239.0 228.1 242.8 228.4 247.6 228.5 244.6 228.7 245.3 229.0 247.4 229.2 244.8 229.3 246.1 229.6 248.3 229.9 247.5 229.9 248.7 230.2 248.4 230.5 250.4 230.6 250.4 230.8 252.4 231.1 253.0 231.3 252.1 231.4 248.9 231.7 254.3 232.0 253.9 232.0 251.8 232.3 251.7 232.6 253.3 232.7 256.8 232.9 254.1 233.2 254.5 233.4 255.5 233.5 257.0 233.8 255.6 234.1 255.9 234.1 255.3 234.4 257.4 234.7 255.8 234.8 253.0 235.0 251.1 235.3 251.8 235.5 252.8 235.6 251.4 235.9 254.2 236.2 253.3 236.2 253.3 236.5 254.2 236.8 254.2 237.0 252.5 237.1 253.6 237.4 256.8 237.7 251.3 237.7 252.7 238.0 254.6 238.3 252.9 238.4 252.5 238.6 252.3 238.9 255.4 239.1 256.9 239.2 256.6 239.5 254.6 239.8 255.8 239.8 252.1 240.1 254.0 240.4 251.8 240.5 253.2 240.7 254.3 241.0 254.9 241.2 253.1 241.3 256.1 241.6 253.4 241.9 252.3 241.9 252.9 242.2 250.8 242.5 253.0 242.6 253.5 242.8 252.8 243.1 253.4 243.3 252.4 243.4 253.3 243.7 251.7 244.0 254.6 244.0 253.6 244.3 253.3 244.6 253.7 244.7 254.9 244.9 250.8 245.2 250.8 245.4 252.2 245.5 252.6 245.8 252.6 246.1 252.9 246.1 252.8 246.4 251.4 246.7 250.8 246.8 249.2 247.0 250.0 247.3 251.1 247.5 252.2 247.6 252.2 247.9 251.9 248.2 251.6 248.2 252.2 248.5 250.4 248.8 250.4 248.9 250.9 249.1 250.4 249.4 251.3 249.6 253.8 249.7 253.8 250.0 254.1 250.3 254.9 250.3 260.0 250.6 254.3 250.9 255.6 251.0 255.9 251.2 253.0 251.5 254.5 251.7 257.5 251.8 255.3 252.1 253.4 252.4 251.7 252.4 250.4 252.7 249.4 253.0 244.8 253.1 244.5 253.3 244.3 253.6 245.6 253.8 243.6 253.9 243.9 254.2 237.6 254.5 242.3 254.5 245.1 254.8 241.9 255.1 238.1 255.2 237.0 255.4 239.2 255.7 237.4 255.9 241.2 256.0 239.3 256.3 243.4 256.6 245.3 256.6 238.3 256.9 241.6 257.2 238.1 257.3 235.9 257.5 237.4 257.8 237.5 258.0 240.4 258.1 237.0 258.4 242.8 258.7 245.9 258.7 242.8 259.0 240.3 259.3 237.8 259.4 234.6 259.6 235.6 259.9 233.6 260.1 232.8 260.2 236.4 260.5 231.9 260.8 229.2 260.8 231.6 261.1 225.4 261.2 225.2 261.4 231.1 261.7 235.0 261.7 238.8 262.0 244.2 262.2 251.5 262.3 251.4 262.6 248.0 262.9 243.3 262.9 245.2 263.2 244.0 263.5 239.0 263.6 240.8 263.8 240.8 264.1 238.0 264.3 239.7 264.4 239.8 264.7 236.2 265.0 238.8 265.0 236.9 265.3 241.2 265.6 240.4 265.7 244.7 265.9 243.6 266.2 244.7 266.4 242.2 266.5 238.6 266.8 243.6 267.1 238.1 267.1 241.2 267.4 240.1 267.7 241.5 267.8 243.9 268.0 241.4 268.3 244.0 268.5 238.8 268.6 243.6 268.9 243.1 269.2 244.9 269.2 244.7 269.5 244.8 269.8 245.9 269.9 239.3 270.1 241.9 270.4 238.5 270.7 241.0 270.7 238.2 271.0 241.3 271.3 240.6 271.4 242.8 271.6 243.8 271.9 242.0 272.1 243.2 272.2 238.6 272.5 240.3 272.8 240.4 272.8 237.4 273.1 239.8 273.4 232.1 273.5 231.8 273.7 231.0 274.0 231.6 274.2 232.2 274.3 233.4 274.6 235.8 274.9 239.0 275.2 238.3 275.5 238.4 275.7 239.0 275.8 244.9 276.1 235.0 276.4 237.8 276.5 241.1 276.7 239.7 277.0 237.4 277.3 240.1 277.3 240.5 277.6 243.1 277.9 241.5 278.1 245.4 278.2 244.4 278.5 242.8 278.8 241.1 278.9 237.0 279.1 233.5 279.4 235.8 279.7 237.2 279.7 235.4 280.0 233.5 280.3 235.6 280.5 228.1 280.6 231.7 280.9 230.8 281.2 235.0 281.3 236.3 281.5 242.9 281.8 243.6 282.1 249.5 282.1 246.8 282.4 252.0 282.7 251.2 282.9 253.0 283.0 249.2 283.3 247.7 283.6 247.5 283.8 243.9 283.9 244.7 284.2 242.3 284.5 238.9 284.6 237.2 284.8 240.0 285.1 237.9 285.4 237.6 285.4 232.3 285.7 235.7 286.0 236.0 286.2 239.8 286.3 241.1 286.6 237.1 286.9 233.2 287.0 232.5 287.2 230.3 287.5 222.9 287.8 219.9 287.8 218.7 288.1 211.3 288.3 213.9 288.4 219.2 288.7 220.2 288.8 222.4 289.0 225.7 289.3 230.9 289.4 235.4 289.6 234.1 289.9 235.6 290.2 235.0 290.2 239.7 290.5 239.6 290.8 242.9 291.0 249.9 291.1 250.4 291.4 246.1 291.7 252.9 291.9 251.7 292.0 247.9 292.3 247.2 292.6 240.7 292.7 241.8 292.9 238.5 293.2 234.5 293.5 234.6 293.5 231.7 293.8 228.8 294.1 226.4 294.3 226.3 294.4 224.0 294.7 221.8 295.0 216.4 295.1 214.3 295.3 216.9 295.6 220.2 295.6 220.6 295.9 226.2 296.2 232.3 296.2 229.4 296.5 230.8 296.8 233.0 297.0 232.0 297.1 231.6 297.4 233.5 297.7 237.2 297.8 237.1 298.0 236.5 298.3 234.2 298.6 232.5 298.7 231.5 298.9 232.3 299.2 237.2 299.5 240.1 299.5 242.8 299.8 247.4 300.1 252.9 300.1 254.7 300.4 263.8 300.6 271.2 300.7 267.0 301.0 262.8 301.1 260.6 301.3 252.5 301.6 245.0 301.6 242.4 301.9 233.2 302.0 228.7 302.2 226.5 302.5 219.7 302.7 218.9 302.8 216.4 303.1 218.9 303.3 220.0 303.4 221.2 303.7 224.1 304.0 225.5 304.0 226.3 304.3 224.8 304.6 223.0 304.6 223.3 304.9 220.6 305.2 219.2 305.3 219.6 305.5 222.9 305.8 228.8 305.9 230.4 306.1 233.4 306.4 235.3 306.6 235.5 306.7 236.5 307.0 234.2 307.2 233.6 307.3 230.8 307.6 227.1 307.9 224.2 307.9 222.7 308.2 220.2 308.5 218.7 308.5 218.5 308.8 215.4 309.1 213.3 309.2 212.2 309.4 216.4 309.7 219.1 309.8 219.8 310.0 223.5 310.3 230.9 310.5 232.6 310.6 235.9 310.9 241.7 311.1 242.8 311.2 244.3 311.5 250.7 311.8 253.5 311.8 254.2 312.1 251.4 312.4 248.6 312.4 247.6 312.7 238.2 312.9 232.1 313.0 225.5 313.3 213.5 313.4 212.2 313.6 212.2 313.9 207.6 313.9 211.1 314.2 217.8 314.4 218.8 314.5 223.4 314.8 231.7 314.8 231.8 315.1 242.2 315.3 247.7 315.4 250.8 315.7 257.4 315.8 258.2 316.0 252.8 316.3 244.4 316.3 244.5 316.6 236.6 316.9 231.9 316.9 232.2 317.2 228.4 317.5 229.1 317.6 226.4 317.8 225.4 318.1 224.4 318.2 221.1 318.4 220.8 318.7 219.2 318.9 219.4 319.0 219.4 319.3 218.2 319.5 217.4 319.6 216.7 319.9 216.2 320.2 213.7 320.2 213.0 320.5 218.8 320.8 221.3 320.8 221.4 321.1 228.3 321.4 230.7 321.5 231.6 321.7 235.8 322.0 238.4 322.1 238.3 322.3 240.4 322.6 242.5 322.8 245.7 322.9 244.8 323.2 249.0 323.4 248.2 323.5 245.7 323.8 242.6 324.1 237.1 324.1 237.1 324.4 233.2 324.7 229.4 324.7 227.1 325.0 229.6 325.3 229.0 325.4 227.9 325.6 231.4 325.9 230.3 326.0 233.2 326.2 237.9 326.5 245.5 326.7 249.8 326.8 254.6 327.1 260.8 327.1 262.4 327.4 246.8 327.6 237.9 327.7 235.8 328.0 222.5 328.1 217.8 328.3 213.7 328.6 209.5 328.6 211.4 328.9 216.2 329.1 217.9 329.2 219.4 329.5 229.2 329.6 229.2 329.8 234.2 330.1 238.4 330.2 238.5 330.4 243.4 330.7 246.7 330.9 246.1 331.0 242.4 331.3 239.2 331.5 232.0 331.6 231.2 331.9 223.1 332.2 213.5 332.2 216.3 332.5 221.2 332.8 226.7 332.8 227.0 333.1 241.2 333.4 251.7 333.5 250.9 333.7 250.4 334.0 248.0 334.1 247.7 334.3 245.8 334.6 238.1 334.7 235.5 334.9 234.1 335.2 230.1 335.4 226.6 335.5 231.4 335.8 232.9 336.0 235.1 336.1 236.6 336.4 237.2 336.7 238.1 336.7 238.2 337.0 236.8 337.3 232.1 337.3 232.6 337.6 229.9 337.9 230.2 338.0 230.0 338.2 231.2 338.5 229.3 338.8 228.2 338.8 226.4 339.1 224.4 339.4 222.0 339.6 223.6 339.7 222.1 340.0 221.2 340.3 222.7 340.4 222.0 340.6 223.4 340.9 226.1 341.2 224.7 341.2 225.7 341.5 227.2 341.8 228.5 342.0 226.6 342.1 228.7 342.4 227.6 342.7 229.6 342.8 231.9 343.0 232.2 343.3 234.8 343.6 236.1 343.6 233.4 343.9 236.6 344.2 240.0 344.5 238.7 344.5 238.7 344.8 237.4 345.1 236.6 345.3 237.4 345.4 237.8 345.7 235.8 346.0 231.6 346.1 231.1 346.3 231.2 346.6 228.4 346.9 228.2 346.9 230.6 347.2 231.9 347.5 231.0 347.7 233.3 347.8 232.4 348.1 234.3 348.4 233.5 348.5 237.2 348.7 231.8 349.0 229.4 349.3 223.7 349.3 223.4 349.6 220.5 349.9 221.9 350.1 218.7 350.2 219.3 350.5 219.7 350.8 225.1 350.9 226.0 351.1 226.8 351.4 229.9 351.7 232.5 351.7 233.2 352.0 233.5 352.3 236.2 352.6 235.1 352.6 235.0 352.9 234.2 353.2 231.9 353.4 233.3 353.5 236.9 353.8 238.7 354.1 239.0 354.2 241.4 354.4 241.7 354.7 245.6 355.0 250.3 355.0 249.0 355.3 244.2 355.6 244.0 355.8 243.1 355.9 239.9 356.2 237.9 356.5 232.8 356.6 231.4 356.8 231.6 357.1 228.8 357.4 225.1 357.4 223.1 357.7 224.3 358.0 225.3 358.2 227.3 358.3 227.8 358.6 229.0 358.9 234.9 359.0 234.9 359.2 235.6 359.5 235.4 359.8 239.6 360.0 238.0 360.1 231.3 360.2 227.9 360.4 229.4 360.7 230.8 360.8 232.4 361.0 234.7 361.3 236.6 361.5 240.0 361.6 237.5 361.9 240.5 362.1 242.6 362.2 240.8 362.5 241.2 362.8 239.6 362.8 237.4 363.1 239.6 363.4 238.2 363.4 238.5 363.7 238.8 364.0 239.5 364.1 241.1 364.3 241.8 364.6 242.5 364.7 242.1 364.9 236.4 365.2 236.9 365.4 236.8 365.5 243.1 365.8 245.0 366.0 246.5 366.1 246.1 366.4 250.9 366.7 251.0 366.7 249.6 367.0 242.9 367.3 241.0 367.3 241.1 367.6 236.3 367.9 230.8 367.9 228.6 368.2 227.4 368.5 228.2 368.6 227.5 368.8 230.4 369.1 235.4 369.2 235.4 369.4 237.8 369.7 242.3 369.9 243.6 370.0 245.1 370.3 239.5 370.5 239.5 370.6 239.9 370.9 233.4 371.2 228.4 371.2 231.4 371.5 229.9 371.8 227.8 371.8 230.2 372.1 228.7 372.4 229.9 372.5 231.5 372.7 235.4 373.0 239.1 373.1 240.8 373.3 240.5 373.6 242.7 373.8 243.0 373.9 241.7 374.2 236.8 374.4 234.2 374.5 233.3 374.8 229.4 375.1 228.7 375.1 227.6 375.4 229.0 375.7 234.4 375.7 232.3 376.0 239.9 376.3 244.8 376.4 246.7 376.6 248.0 376.9 248.5 377.0 248.7 377.2 243.4 377.5 238.9 377.7 239.9 377.8 241.2 378.1 235.5 378.3 233.6 378.4 230.2 378.7 229.9 379.0 224.6 379.0 225.5 379.3 228.6 379.6 228.1 379.6 231.8 379.9 233.6 380.2 232.9 380.3 233.0 380.5 234.8 380.8 238.3 380.9 241.9 381.1 241.2 381.4 240.2 381.5 239.7 381.7 237.1 382.0 234.4 382.2 231.0 382.3 231.8 382.6 232.5 382.8 232.3 382.9 230.8 383.2 232.7 383.5 236.5 383.5 237.3 383.8 237.4 384.1 243.2 384.1 243.2 384.4 247.4 384.7 248.6 384.8 250.6 385.0 250.8 385.3 255.3 385.4 253.5 385.6 250.0 385.9 246.2 386.1 245.5 386.2 243.8 386.5 238.2 386.7 237.2 386.8 233.6 387.1 231.7 387.4 228.5 387.4 228.3 387.7 228.8 388.0 227.8 388.0 229.2 388.3 231.3 388.6 232.8 388.7 232.4 388.9 237.4 389.2 236.9 389.3 236.4 389.5 236.1 389.8 232.3 390.0 231.1 390.1 228.8 390.4 223.4 390.6 221.1 390.7 221.8 391.0 219.6 391.3 218.3 391.3 219.3 391.6 223.3 391.9 228.8 391.9 229.7 392.2 234.1 392.5 240.6 392.6 241.5 392.8 246.7 393.1 250.1 393.2 251.8 393.4 246.5 393.7 245.4 393.8 244.9 394.0 242.0 394.3 235.4 394.5 231.9 394.6 232.9 394.9 227.8 395.1 224.5 395.2 225.6 395.5 226.6 395.8 228.6 395.8 228.7 396.1 230.3 396.4 233.2 396.4 233.4 396.7 233.5 397.0 236.1 397.1 237.8 397.3 233.8 397.6 233.9 397.7 232.0 397.9 232.2 398.2 234.3 398.4 235.5 398.5 236.7 398.8 237.2 399.0 238.2 399.1 236.5 399.4 237.3 399.7 235.4 399.7 233.6 400.0 236.1 400.3 237.8 400.3 237.6 400.6 240.5 400.9 244.9 401.0 240.9 401.2 241.8 401.5 238.1 401.6 236.1 401.8 238.4 402.1 241.3 402.3 242.6 402.4 245.8 402.7 245.4 402.9 249.5 403.0 248.2 403.3 249.5 403.6 250.4 403.6 249.5 403.9 246.9 404.2 244.6 404.2 242.5 404.5 240.0 404.8 236.0 404.9 235.8 405.1 235.0 405.4 226.9 405.5 228.8 405.7 227.8 406.0 220.6 406.1 220.2 406.3 221.2 406.6 216.6 406.8 212.8 406.9 213.6 407.2 209.1 407.3 207.8 407.5 212.1 407.8 215.4 407.8 214.5 408.1 221.7 408.4 228.8 408.4 228.0 408.7 235.1 409.0 238.7 409.1 237.6 409.3 243.1 409.6 246.7 409.7 247.7 409.9 243.7 410.2 237.3 410.4 237.7 410.5 233.0 410.8 230.4 411.0 226.3 411.1 224.1 411.4 223.3 411.7 216.8 411.7 219.0 412.0 223.3 412.3 224.8 412.3 226.4 412.6 229.2 412.9 231.7 412.9 234.0 413.2 234.1 413.5 236.0 413.6 234.7 413.8 234.3 414.1 233.2 414.2 232.4 414.4 229.3 414.7 226.8 414.9 227.2 415.0 224.2 415.3 225.9 415.5 226.4 415.6 226.4 415.9 229.2 416.2 230.5 416.2 229.3 416.5 234.7 416.8 236.5 416.8 236.0 417.1 237.9 417.4 241.4 417.5 241.5 417.7 239.4 418.0 237.3 418.1 233.2 418.3 232.5 418.6 229.7 418.8 224.7 418.9 225.5 419.2 223.4 419.4 222.7 419.5 221.2 419.8 221.0 420.1 220.1 420.1 219.0 420.4 225.3 420.7 230.4 420.7 229.9 421.0 239.5 421.3 254.0 421.4 253.9 421.6 258.8 421.9 264.1 421.9 260.6 422.2 253.1 422.3 249.9 422.5 241.3 422.8 226.6 422.8 225.5 423.1 216.4 423.3 210.9 423.4 211.7 423.7 218.1 424.0 218.1 424.0 220.5 424.3 230.4 424.6 238.6 424.6 238.1 424.9 243.5 425.2 249.5 425.2 250.8 425.5 252.9 425.8 253.9 425.9 256.1 426.1 252.0 426.4 248.0 426.5 242.3 426.7 239.1 427.0 231.8 427.2 228.7 427.3 226.2 427.6 219.9 427.8 215.0 427.9 214.4 428.2 215.9 428.5 219.6 428.5 218.4 428.8 224.0 429.1 229.4 429.1 228.0 429.4 229.1 429.7 236.1 429.8 236.6 430.0 237.6 430.3 240.5 430.4 240.0 430.6 237.7 430.9 235.2 431.1 233.3 431.2 231.0 431.5 225.2 431.7 222.4 431.8 220.5 432.1 217.2 432.4 217.3 432.4 216.2 432.7 218.6 433.0 223.9 433.0 221.5 433.3 225.6 433.6 230.3 433.7 230.9 433.9 233.4 434.2 237.1 434.3 236.6 434.5 236.3 434.8 230.9 435.0 232.1 435.1 227.8 435.4 227.4 435.6 230.6 435.7 228.4 436.0 228.2 436.3 228.7 436.3 226.8 436.6 227.7 436.9 224.5 436.9 227.2 437.2 227.6 437.5 229.3 437.6 229.8 437.8 229.1 438.1 232.6 438.2 231.8 438.4 232.0 438.7 234.0 438.8 238.7 439.0 236.0 439.3 232.8 439.5 230.7 439.6 229.6 439.9 229.7 440.1 227.5 440.2 228.4 440.5 222.3 440.8 216.5 440.8 219.7 441.1 217.3 441.4 216.5 441.4 219.0 441.7 222.8 442.0 227.7 442.3 231.7 442.5 234.2 442.6 236.2 442.9 240.7 443.1 244.7 443.2 243.4 443.5 240.8 443.7 240.4 443.8 238.2 444.1 234.5 444.2 234.8 444.4 231.6 444.7 229.7 444.8 228.4 445.0 225.8 445.3 222.0 445.3 220.4 445.6 223.6 445.9 225.1 445.9 226.7 446.2 229.2 446.5 232.3 446.5 234.3 446.8 235.9 447.0 235.7 447.1 236.6 447.4 236.4 447.6 234.6 447.7 236.7 448.0 237.7 448.1 237.5 448.3 235.0 448.6 231.6 448.7 231.2 448.9 229.2 449.2 227.1 449.3 227.0 449.5 224.6 449.8 223.8 449.8 223.9 450.1 220.1 450.4 219.3 450.4 219.9 450.7 222.2 451.0 222.9 451.0 223.4 451.3 224.9 451.5 227.6 451.6 226.3 451.9 223.5 452.1 223.3 452.2 223.5 452.5 228.5 452.6 227.8 452.8 230.1 453.1 232.5 453.2 232.5 453.4 231.4 453.7 231.1 453.8 229.9 454.0 229.2 454.3 227.5 454.3 225.9 454.6 226.2 454.9 224.0 454.9 224.1 455.2 220.0 455.4 219.6 455.5 219.5 455.8 217.7 456.0 219.4 456.1 218.1 456.4 215.4 456.6 214.9 456.7 214.8 457.0 214.1 457.1 213.2 457.3 212.9 457.6 212.4 457.7 209.6 457.9 211.2 458.2 212.5 458.3 213.0 458.5 214.4 458.8 215.2 458.8 214.0 459.1 216.4 459.4 219.5 459.4 218.7 459.7 220.4 459.9 221.4 460.0 219.6 460.3 222.8 460.5 223.6 460.6 224.7 460.9 225.8 461.1 226.5 461.2 226.2 461.5 227.6 461.6 227.4 461.8 225.9 462.1 225.2 462.2 224.4 462.4 221.0 462.7 218.8 462.7 220.7 463.0 218.0 463.3 217.6 463.3 217.6 463.6 215.9 463.9 215.9 463.9 216.5 464.2 216.6 464.4 217.8 464.5 217.9 464.8 218.5 465.0 217.8 465.1 218.0 465.4 218.4 465.6 218.1 465.7 220.8 466.0 219.1 466.1 220.6 466.3 220.9 466.6 219.2 466.7 220.8 466.9 221.4 467.2 220.5 467.4 221.3 467.5 220.2 467.8 222.5 468.1 222.7 468.1 223.0 468.4 223.5 468.7 222.2 468.8 222.7 469.0 221.9 469.3 220.7 469.5 221.8 469.6 221.8 469.9 220.8 470.2 222.4 470.2 221.8 470.5 221.6 470.8 220.7 470.9 221.1 471.1 221.7 471.4 222.0 471.6 222.5 471.7 221.8 472.0 224.0 472.3 223.4 472.3 222.9 472.6 223.8 472.9 224.1 473.0 224.8 473.2 224.4 473.5 225.2 473.7 224.9 473.8 226.4 474.1 226.0 474.4 226.9 474.4 225.6 474.7 226.6 475.0 226.2 475.1 226.9 475.3 227.2 475.6 226.5 475.8 226.9 475.9 227.0 476.2 227.1 476.5 227.8 476.5 227.7 476.8 227.8 477.1 228.8 477.2 229.0 477.4 228.4 477.7 229.1 477.9 229.5 478.0 229.5 478.3 229.6 478.6 230.6 478.6 230.6 478.9 231.1 479.2 231.3 479.3 232.5 479.5 232.6 479.8 231.9 480.0 232.2 480.1 232.5 480.4 230.7 480.7 230.4 480.7 230.2 481.0 229.6 481.3 229.5 481.4 228.8 481.6 229.9 481.9 230.1 482.1 232.6 482.2 232.8 482.5 234.2 482.8 235.2 482.8 235.6 483.1 236.9 483.4 238.0 483.5 238.3 483.7 238.1 484.0 239.6 484.2 239.8 484.3 239.6 484.6 239.9 484.9 240.9 484.9 241.2 485.2 238.9 485.5 239.1 485.6 238.6 485.8 236.9 486.1 235.7 486.3 235.1 486.4 235.3 486.7 234.1 487.0 233.2 487.0 233.9 487.3 233.1 487.6 234.4 487.7 234.9 487.9 235.1 488.2 236.2 488.4 236.7 488.5 237.0 488.8 237.4 489.1 237.5 489.1 237.8 489.4 237.6 489.7 237.9 489.8 237.9 490.0 237.0 490.3 235.9 490.5 235.5 490.6 235.6 490.9 236.0 491.2 235.3 491.2 235.1 491.5 235.0 491.8 236.1 492.0 235.9 492.1 236.1 492.4 236.8 492.7 238.0 492.7 237.1 493.0 237.7 493.3 237.4 493.4 236.8 493.6 236.8 493.9 235.9 494.1 235.4 494.2 235.7 494.5 235.4 494.8 236.0 494.8 235.9 495.1 236.4 495.4 236.9 495.5 235.1 495.7 236.9 496.0 236.3 496.2 237.3 496.3 236.6 496.6 236.8 496.9 237.1 496.9 235.7 497.2 236.4 497.5 236.2 497.6 235.4 497.8 236.7 498.1 236.7 498.3 236.6 498.4 236.6 498.7 238.5 499.0 237.0 499.0 236.4 499.3 236.7 499.6 236.8 499.9 236.7 500.2 236.8 500.4 236.3 500.5 237.0 500.8 236.4 501.1 235.9 501.4 236.0 501.7 236.1 501.8 236.6 502.0 236.5 502.3 236.2 502.6 236.4 502.9 236.6 503.2 237.4 503.2 236.2 503.5 236.8 503.8 237.0 504.1 236.3 504.4 236.8 504.6 236.9 504.7 236.5 505.0 237.0 505.3 237.1 505.6 237.1 505.9 236.4 506.0 236.6 506.2 237.6 506.5 236.1 506.8 236.8 507.1 237.1 507.4 236.9 507.4 237.1 507.7 236.8 508.0 237.0 508.3 237.2 508.6 236.4 508.8 236.6 508.9 236.5 509.2 236.4 509.5 236.6 509.8 236.2 510.1 237.1 510.2 237.6 510.4 237.6 510.7 237.4 511.0 236.4 511.3 237.5 511.6 236.5 511.6 236.8 511.9 237.6 512.2 235.9 512.5 237.4 512.8 236.9 513.1 236.6 513.4 236.0 513.7 237.0 513.7 236.3 514.0 237.5 514.3 237.6 514.6 235.7 514.9 236.4 515.0 236.5 515.2 235.9 515.5 236.0 515.8 236.9 516.1 236.7 516.4 235.7 516.4 236.5 516.7 237.3 517.0 235.9 517.3 236.1 517.6 238.0 517.7 237.8 517.9 235.5 518.2 235.7 518.5 237.0 518.8 235.8 519.0 236.4 519.1 236.3 519.4 237.0 519.7 234.7 520.0 234.9 520.3 235.6 520.3 237.3 520.6 236.4 520.9 235.2 521.2 236.8 521.5 236.9 521.7 236.1 521.8 236.1 522.1 236.6 522.4 237.2 522.7 236.4 523.0 236.7 523.0 236.3 523.3 236.0 523.6 235.5 523.9 236.3 524.2 235.9 524.3 235.9 524.5 236.7 524.8 236.4 525.1 236.6 525.4 234.7 525.7 236.3 525.7 235.4 526.0 235.1 526.3 235.0 526.6 236.4 526.9 236.0 527.0 234.8 527.2 234.4 527.5 235.2 527.8 234.7 528.1 236.2 528.3 233.8 528.4 233.5 528.7 234.6 529.0 234.7 529.3 234.6 529.6 235.0 529.7 236.0 529.9 234.1 530.2 233.9 530.5 233.0 530.8 234.4 531.0 234.8 531.1 234.0 531.4 235.0 531.7 234.1 532.0 235.2 532.3 234.2 532.3 233.2 532.6 233.5 532.9 232.8 533.2 232.7 533.5 234.2 533.7 234.6 533.8 235.4 534.1 234.0 534.4 233.9 534.7 233.2 535.0 234.8 535.0 234.4 535.3 233.7 535.6 234.7 535.9 234.6 536.2 232.8 536.3 234.8 536.5 234.3 536.8 233.9 537.1 233.9 537.4 235.5 537.6 235.4 537.7 235.6 538.0 233.4 538.3 233.8 538.6 234.9 538.9 233.4 539.0 233.8 539.2 233.0 539.5 235.7 539.8 235.2 540.1 234.8 540.3 234.6 540.4 234.1 540.7 234.1 541.0 234.8 541.3 233.7 541.6 235.1 541.6 233.8 541.9 233.4 542.2 235.0 542.5 233.8 542.8 234.2 543.0 233.4 543.1 232.0 543.4 233.9 543.7 232.3 544.0 234.0 544.3 231.9 544.3 231.6 544.6 233.0 544.9 232.9 545.2 232.4 545.5 231.2 545.6 232.8 545.8 230.8 546.1 231.2 546.3 230.8 546.4 230.8 546.7 231.1 547.0 229.5 547.0 230.2 547.3 229.2 547.6 226.3 547.6 226.7 547.9 226.7 548.2 225.9 548.3 226.4 548.5 224.9 548.8 226.9 549.0 227.0 549.1 226.7 549.4 226.6 549.6 228.1 549.7 228.0 550.0 229.7 550.3 229.9 550.3 230.6 550.6 230.6 550.9 232.9 551.0 230.1 551.2 231.5 551.5 233.0 551.6 231.7 551.8 233.6 552.1 232.6 552.3 233.8 552.4 233.3 552.7 234.3 553.0 235.3 553.0 235.3 553.3 236.2 553.6 239.1 553.6 237.5 553.9 237.9 554.2 240.3 554.3 240.4 554.5 241.0 554.8 241.8 555.0 239.8 555.1 240.6 555.4 239.5 555.6 238.0 555.7 237.6 556.0 233.9 556.3 234.7 556.3 236.3 556.6 232.6 556.9 232.4 556.9 233.0 557.2 233.4 557.5 234.4 557.6 231.9 557.8 234.2 558.1 236.1 558.3 235.1 558.4 236.6 558.7 239.1 558.9 239.4 559.0 239.0 559.3 237.0 559.6 239.3 559.6 239.7 559.9 240.1 560.1 241.0 560.2 243.4 560.5 241.1 560.8 240.7 561.1 241.8 561.2 241.5 561.4 241.4 561.7 241.4 562.0 241.9 562.1 241.4 562.3 240.3 562.6 241.0 562.9 241.4 563.1 240.7 563.2 241.8 563.5 241.4 563.8 239.9 564.1 240.8 564.1 242.0 564.4 241.6 564.7 240.4 565.0 241.0 565.2 239.8 565.3 239.3 565.6 240.9 565.9 240.9 566.1 241.2 566.2 240.8 566.5 241.3 566.8 240.9 567.1 241.8 567.1 242.2 567.4 241.9 567.7 242.9 567.9 241.1 568.0 242.0 568.3 244.0 568.5 244.4 568.6 243.2 568.9 242.7 569.2 241.7 569.2 242.9 569.5 243.1 569.8 241.4 570.1 242.8 570.1 242.8 570.4 242.7 570.7 241.5 571.0 242.7 571.0 241.1 571.3 243.4 571.6 242.3 571.9 241.3 572.1 243.2 572.2 243.0 572.5 241.5 572.8 243.5 573.1 241.0 573.2 241.9 573.4 242.4 573.7 239.6 574.0 241.8 574.1 241.0 574.3 240.8 574.6 239.8 574.9 240.6 575.0 239.5 575.2 239.3 575.5 239.4 575.8 238.4 575.8 240.5 576.1 238.1 576.4 238.2 576.7 238.2 576.8 238.4 577.0 238.6 577.3 238.2 577.4 237.3 577.6 236.9 577.9 236.8 578.1 237.2 578.2 237.0 578.5 235.9 578.8 234.5 578.8 237.7 579.1 236.9 579.4 236.5 579.4 236.6 579.7 236.2 580.0 236.2 580.1 236.8 580.3 237.0 580.6 236.9 580.8 236.4 580.9 237.2 581.2 237.8 581.4 236.9 581.5 237.2 581.8 235.6 582.1 236.9 582.1 236.9 582.4 236.2 582.7 235.9 583.0 237.6 583.0 236.6 583.3 237.5 583.6 236.7 583.9 237.4 584.1 236.7 584.2 235.8 584.5 236.7 584.8 236.5 585.1 237.1 585.2 236.3 585.4 236.2 585.7 237.1 586.0 237.2 586.1 236.9 586.3 237.0 586.6 236.5 586.9 236.6 587.0 236.6 587.2 236.2 587.5 235.7 587.8 235.6 588.1 237.2 588.1 235.3 588.4 234.8 588.7 234.4 589.0 234.3 589.1 234.4 589.3 233.1 589.6 232.0 589.9 233.2 590.1 231.6 590.2 232.5 590.5 231.6 590.7 231.8 590.8 231.9 591.1 230.1 591.4 228.6 591.4 228.1 591.7 227.8 592.0 227.7 592.1 226.1 592.3 227.4 592.5 227.1 592.6 228.2 592.9 228.5 593.0 229.1 593.2 229.0 593.5 229.8 593.7 229.1 593.8 230.3 594.1 231.1 594.4 229.7 594.5 229.8 594.7 228.1 595.0 229.2 595.0 227.4 595.3 227.9 595.6 226.6 595.7 225.7 595.9 227.7 596.2 227.5 596.3 227.8 596.5 228.2 596.8 228.2 597.1 228.3 597.1 228.9 597.4 228.7 597.7 229.5 597.8 229.0 598.0 228.1 598.3 228.2 598.5 228.2 598.6 228.5 598.9 229.1 599.1 226.8 599.2 228.1 599.5 226.2 599.8 226.8 599.8 227.3 600.1 226.4 600.4 227.1 600.5 228.7 600.7 228.9 601.0 229.1 601.3 228.8 601.4 231.1 601.6 229.6 601.9 229.3 602.2 231.5 602.5 230.9 602.5 230.2 602.8 231.7 603.1 231.2 603.4 231.9 603.4 231.6 603.7 231.0 604.0 232.8 604.3 232.4 604.3 231.6 604.6 232.1 604.9 233.8 605.1 233.0 605.2 233.4 605.5 234.2 605.8 234.1 606.1 233.1 606.1 234.7 606.4 235.1 606.7 235.2 607.0 235.9 607.0 235.0 607.3 235.7 607.6 236.6 607.8 235.4 607.9 237.2 608.2 237.9 608.4 237.6 608.5 238.3 608.8 237.1 609.1 235.4 609.1 236.9 609.4 235.3 609.6 234.7 609.7 234.4 610.0 234.6 610.3 233.4 610.3 232.5 610.6 233.1 610.8 233.1 610.9 232.4 611.2 234.2 611.4 234.9 611.5 235.8 611.8 238.3 611.9 239.5 612.1 240.1 612.4 240.0 612.7 240.2 612.7 240.3 613.0 240.5 613.3 239.7 613.6 240.3 613.9 240.2 614.2 240.1 614.3 239.9 614.5 239.9 614.8 240.1 615.1 239.6 615.4 240.7 615.7 240.4 615.9 240.5 616.0 240.7 616.3 240.8 616.6 240.0 616.9 240.2 617.2 239.3 617.5 238.9 617.5 239.1 617.8 240.9 618.1 239.0 618.4 240.2 618.7 240.6 619.0 239.5 619.1 240.6 619.3 240.6 619.6 239.9 619.9 240.6 620.2 239.5 620.5 238.6 620.7 239.2 620.8 238.4 621.1 237.3 621.4 236.7 621.7 238.1 622.0 235.9 622.3 235.7 622.3 235.3 622.6 235.0 622.9 234.0 623.2 233.2 623.5 232.0 623.6 231.8 623.8 232.0 624.1 232.5 624.4 233.4 624.7 232.8 624.7 233.2 625.0 232.5 625.3 232.3 625.6 231.7 625.9 232.5 626.2 231.3 626.3 232.4 626.5 233.6 626.8 233.0 627.1 233.6 627.4 232.9 627.7 232.5 627.9 233.1 628.0 233.1 628.3 233.9 628.6 234.2 628.9 232.6 629.2 232.7 629.5 232.8 629.5 232.7 629.8 232.3 630.1 233.1 630.4 233.3 630.7 233.4 631.0 232.7 631.1 233.3 631.3 232.5 631.6 234.1 631.9 233.2 632.2 233.8 632.5 233.8 632.7 233.8 632.8 233.6 633.1 233.4 633.4 235.5 633.7 234.8 634.0 235.0 634.2 236.1 634.3 234.9 634.6 235.4 634.9 235.3 635.2 236.1 635.5 235.8 635.8 235.9 635.8 235.6 636.1 236.1 636.4 236.8 636.7 235.2 637.0 236.5 637.0 236.5 637.3 237.3 637.6 237.1 637.9 239.3 637.9 238.5 638.2 240.1 638.5 241.1 638.7 241.2 638.8 242.6 639.1 243.6 639.4 245.9 639.5 246.7 639.7 248.3 640.0 250.2 640.1 250.8 640.3 251.3 640.6 249.2 640.8 247.8 640.9 247.7 641.2 247.0 641.5 246.5 641.7 245.7 641.8 245.8 642.1 247.7 642.4 247.3 642.7 247.5 642.7 247.6 643.0 247.8 643.3 248.9 643.6 248.6 643.8 249.1 643.9 246.6 644.2 248.0 644.5 248.0 644.8 248.1 644.9 246.9 645.1 245.6 645.4 246.3 645.7 245.2 645.9 244.3 646.0 245.1 646.3 246.2 646.6 246.5 646.9 246.4 647.0 245.5 647.2 247.1 647.5 244.7 647.8 244.8 648.1 243.7 648.1 245.2 648.4 244.2 648.7 243.9 649.0 243.0 649.1 242.9 649.3 242.2 649.6 240.1 649.9 241.1 649.9 240.5 650.2 238.0 650.5 236.4 650.7 235.9 650.8 235.7 651.1 233.6 651.3 232.6 651.4 231.7 651.7 230.1 651.9 229.8 652.0 230.3 652.3 230.5 652.6 231.0 652.6 231.6 652.9 232.6 653.2 233.5 653.2 233.8 653.5 234.7 653.8 235.7 653.8 236.0 654.1 235.4 654.4 237.6 654.6 236.6 654.7 237.7 655.0 237.0 655.3 237.4 655.6 236.6 655.8 236.0 655.9 237.1 656.2 236.5 656.5 236.4 656.8 236.3 657.1 236.7 657.3 236.5 657.4 236.2 657.7 235.3 658.0 236.0 658.3 236.4 658.6 237.4 658.9 236.7 658.9 236.5 659.2 237.0 659.5 236.2 659.8 236.1 660.1 236.0 660.4 235.0 660.5 236.3 660.7 236.0 661.0 235.7 661.3 235.3 661.6 236.1 661.9 236.8 662.1 235.7 662.2 235.4 662.5 236.1 662.8 234.9 663.1 234.4 663.4 235.3 663.7 235.0 663.7 235.3 664.0 235.2 664.3 235.9 664.6 235.7 664.9 235.6 665.2 235.8 665.3 236.4 665.5 236.5 665.8 236.4 666.1 236.3 666.4 234.0 666.7 235.2 666.9 235.6 667.0 235.8 667.3 234.8 667.6 236.4 667.9 235.7 668.2 235.1 668.5 235.5 668.5 235.2 668.8 235.1 669.1 236.0 669.4 235.5 669.7 235.1 670.0 235.7 670.1 236.0 670.3 235.4 670.6 236.6 670.9 235.3 671.2 236.8 671.5 236.3 671.7 235.2 671.8 235.8 672.1 236.5 672.4 235.8 672.7 235.3 673.0 236.1 673.3 237.2 673.3 235.2 673.6 236.3 673.9 235.9 674.2 235.8 674.5 235.6 674.8 235.6 674.9 236.3 675.1 236.2 675.4 235.5 675.7 237.0 676.0 235.6 676.3 236.8 676.5 236.6 676.6 237.1 676.9 236.6 677.2 236.9 677.5 236.2 677.8 236.7 678.1 236.3 678.1 237.2 678.4 235.6 678.7 236.6 679.0 236.1 679.3 235.9 679.6 235.4 679.6 236.0 679.9 235.0 680.2 235.1 680.5 236.3 680.8 235.1 681.1 236.8 681.2 235.9 681.4 236.2 681.7 236.0 682.0 236.1 682.3 235.7 682.6 235.6 682.8 235.7 682.9 236.3 683.2 236.3 683.5 236.3 683.8 235.7 684.1 235.4 684.4 234.5 684.4 235.8 684.7 236.0 685.0 235.3 685.3 236.1 685.6 236.4 685.9 235.8 686.0 236.3 686.2 236.0 686.5 234.9 686.8 235.7 687.1 235.7 687.4 236.3 687.6 235.6 687.7 235.8 688.0 235.5 688.3 235.9 688.6 235.9 688.9 236.3 689.2 236.2 689.2 235.8 689.5 235.9 689.8 235.9 690.1 236.0 690.4 236.8 690.7 234.7 690.8 236.0 691.0 236.2 691.3 236.6 691.6 235.3 691.9 236.0 692.2 236.3 692.4 235.5 692.5 234.7 692.8 235.6 693.1 235.2 693.4 236.3 693.7 235.6 694.0 237.0 694.0 236.1 694.3 235.6 694.6 235.7 694.9 235.3 695.2 236.0 695.5 236.6 695.6 235.6 695.8 236.3 696.1 235.3 696.4 236.1 696.7 237.2 697.0 235.3 697.2 236.7 697.3 236.7 697.6 234.9 697.9 235.1 698.2 235.3 698.5 236.3 698.8 235.5 698.8 235.7 699.1 236.2 699.4 235.9 699.7 236.1 700.0 235.8 700.3 236.7 700.4 235.6 700.6 236.9 700.9 235.8 701.2 235.5 701.5 236.2 701.8 236.0 701.9 234.7 702.1 235.9 702.4 235.1 702.7 235.5 703.0 236.4 703.3 235.6 703.5 236.3 703.6 235.8 703.9 237.0 704.2 235.9 704.5 235.2 704.8 235.2 705.1 235.2 705.1 235.8 705.4 235.8 705.7 236.4 706.0 236.0 706.3 236.1 706.6 236.2 706.7 236.0 706.9 236.2 707.2 236.4 707.5 236.3 707.8 235.5 708.1 234.8 708.3 235.3 708.4 235.9 708.7 234.4 709.0 235.5 709.3 236.0 709.6 235.5 709.9 235.2 710.2 236.8 710.5 236.6 710.8 235.7 711.1 236.6 711.4 236.6 711.5 235.3" stroke="#0b6fb5" stroke-width="0.95" fill="none" stroke-linejoin="round"/>
<rect x="19.5" y="194.5" width="690.0" height="97.0" stroke="#a5a5a5" fill="none"/>
<path d="M117.5 291.5v-6.5M117.5 194.5v6.5M216.5 291.5v-6.5M216.5 194.5v6.5M315.5 291.5v-6.5M315.5 194.5v6.5M414.5 291.5v-6.5M414.5 194.5v6.5M512.5 291.5v-6.5M512.5 194.5v6.5M611.5 291.5v-6.5M611.5 194.5v6.5M19.5 213.9h6.5M709.5 213.9h-6.5M19.5 233.3h6.5M709.5 233.3h-6.5M19.5 252.7h6.5M709.5 252.7h-6.5M19.5 272.1h6.5M709.5 272.1h-6.5" stroke="#a5a5a5" fill="none"/>
<text class="t" x="17.0" y="198.8" font-size="12" text-anchor="end" fill="#1a1a1a">2</text>
<text class="t" x="17.0" y="218.20000000000002" font-size="12" text-anchor="end" fill="#1a1a1a">1</text>
<text class="t" x="17.0" y="237.60000000000002" font-size="12" text-anchor="end" fill="#1a1a1a">0</text>
<text class="t" x="17.0" y="257.0" font-size="12" text-anchor="end" fill="#1a1a1a">-1</text>
<text class="t" x="17.0" y="276.40000000000003" font-size="12" text-anchor="end" fill="#1a1a1a">-2</text>
<text class="t" x="17.0" y="295.8" font-size="12" text-anchor="end" fill="#1a1a1a">-3</text>
<text class="t" x="19.5" y="303.8" font-size="12" text-anchor="middle" fill="#1a1a1a">0</text>
<text class="t" x="117.5" y="303.8" font-size="12" text-anchor="middle" fill="#1a1a1a">10</text>
<text class="t" x="216.5" y="303.8" font-size="12" text-anchor="middle" fill="#1a1a1a">20</text>
<text class="t" x="315.5" y="303.8" font-size="12" text-anchor="middle" fill="#1a1a1a">30</text>
<text class="t" x="414.5" y="303.8" font-size="12" text-anchor="middle" fill="#1a1a1a">40</text>
<text class="t" x="512.5" y="303.8" font-size="12" text-anchor="middle" fill="#1a1a1a">50</text>
<text class="t" x="611.5" y="303.8" font-size="12" text-anchor="middle" fill="#1a1a1a">60</text>
<text class="t" x="709.5" y="303.8" font-size="12" text-anchor="middle" fill="#1a1a1a">70</text>
<text class="t" x="309.3" y="182.0" font-size="11.65" fill="#1a1a1a">Acceleration Y <tspan dx="0.4" font-size="12">[ms</tspan><tspan dx="0.4" dy="-4.6" font-size="9">-2</tspan><tspan dx="0.6" dy="4.6" font-size="12">]</tspan></text>
<g transform="translate(0,0)">
<rect x="513" y="224" width="99" height="23" stroke="#000" stroke-width="2" fill="none"/>
<rect x="601.0" y="154.5" width="110.5" height="63.5" fill="#fff"/>
<text x="598.7" y="159.44" font-size="10.7" text-anchor="end" fill="#fff" stroke="#fff" stroke-width="6">0.4</text>
<text class="t" x="598.7" y="159.44" font-size="10.7" text-anchor="end" fill="#1a1a1a">0.4</text>
<text x="598.7" y="171.22" font-size="10.7" text-anchor="end" fill="#fff" stroke="#fff" stroke-width="6">0.2</text>
<text class="t" x="598.7" y="171.22" font-size="10.7" text-anchor="end" fill="#1a1a1a">0.2</text>
<text x="598.7" y="183.0" font-size="10.7" text-anchor="end" fill="#fff" stroke="#fff" stroke-width="6">0</text>
<text class="t" x="598.7" y="183.0" font-size="10.7" text-anchor="end" fill="#1a1a1a">0</text>
<text x="598.7" y="194.78" font-size="10.7" text-anchor="end" fill="#fff" stroke="#fff" stroke-width="6">-0.2</text>
<text class="t" x="598.7" y="194.78" font-size="10.7" text-anchor="end" fill="#1a1a1a">-0.2</text>
<text x="598.7" y="206.56" font-size="10.7" text-anchor="end" fill="#fff" stroke="#fff" stroke-width="6">-0.4</text>
<text class="t" x="598.7" y="206.56" font-size="10.7" text-anchor="end" fill="#1a1a1a">-0.4</text>
<text x="598.7" y="218.34" font-size="10.7" text-anchor="end" fill="#fff" stroke="#fff" stroke-width="6">-0.6</text>
<text class="t" x="598.7" y="218.34" font-size="10.7" text-anchor="end" fill="#1a1a1a">-0.6</text>
<path d="M622.5 154.5V215.5M643.5 154.5V215.5M664.5 154.5V215.5M685.5 154.5V215.5M706.5 154.5V215.5M601.0 155.64H710.5M601.0 167.42H710.5M601.0 179.2H710.5M601.0 190.98H710.5M601.0 202.76H710.5" stroke="#efefef" fill="none"/>
<clipPath id="ci1"><rect x="601.0" y="154.5" width="109.5" height="61.0"/></clipPath>
<path clip-path="url(#ci1)" d="M600.9 190.0L601.0 193.7 601.2 190.1 601.3 188.4 601.5 190.6 601.6 191.1 601.8 190.9 601.9 186.6 602.1 189.8 602.2 186.3 602.3 192.2 602.4 189.5 602.5 188.8 602.7 190.5 602.8 190.3 603.0 187.9 603.1 192.1 603.3 189.3 603.4 187.1 603.6 191.9 603.7 192.1 603.7 191.7 603.9 190.7 604.0 188.6 604.2 191.4 604.3 192.8 604.5 191.3 604.6 192.5 604.8 189.0 604.9 191.7 605.1 191.6 605.1 188.1 605.2 187.8 605.4 189.1 605.5 190.3 605.7 190.8 605.8 189.7 606.0 189.9 606.1 189.8 606.3 190.1 606.4 190.8 606.6 190.6 606.6 189.8 606.7 190.2 606.9 189.1 607.0 190.9 607.2 188.9 607.3 192.1 607.5 189.5 607.6 189.9 607.8 188.4 607.9 188.9 608.0 189.7 608.1 189.4 608.2 188.4 608.4 187.6 608.5 189.4 608.7 189.5 608.8 190.1 609.0 191.1 609.1 188.7 609.3 186.2 609.4 188.9 609.4 186.4 609.6 187.1 609.7 190.5 609.9 189.8 610.0 187.9 610.2 187.8 610.3 188.6 610.5 186.0 610.6 189.3 610.8 187.9 610.8 191.2 610.9 186.8 611.1 189.9 611.2 187.4 611.4 189.9 611.5 187.0 611.7 189.5 611.8 187.8 612.0 187.2 612.1 188.2 612.3 189.1 612.3 189.0 612.4 190.7 612.6 189.5 612.7 184.3 612.9 187.5 613.0 185.1 613.2 187.4 613.3 188.8 613.5 185.8 613.6 186.0 613.7 187.9 613.8 187.2 613.9 190.0 614.1 188.0 614.2 188.2 614.4 190.0 614.5 186.6 614.7 187.2 614.8 185.7 615.0 187.5 615.1 188.5 615.1 189.0 615.3 186.8 615.4 185.6 615.6 185.4 615.7 184.3 615.9 186.4 616.0 188.1 616.2 182.4 616.3 182.6 616.5 187.8 616.5 183.2 616.6 186.0 616.8 183.5 616.9 186.4 617.1 186.2 617.2 185.2 617.4 186.0 617.5 184.7 617.7 185.3 617.8 187.0 618.0 185.8 618.0 183.2 618.1 182.8 618.3 183.5 618.4 183.4 618.6 183.7 618.7 182.5 618.9 184.2 619.0 183.2 619.2 183.5 619.3 182.8 619.4 183.7 619.5 180.9 619.6 185.0 619.8 183.1 619.9 183.2 620.1 183.3 620.2 184.0 620.4 183.4 620.5 182.5 620.7 181.8 620.8 179.6 620.8 182.4 621.0 181.5 621.1 181.4 621.3 185.4 621.4 179.0 621.6 181.7 621.7 183.4 621.9 183.0 622.0 183.3 622.2 179.5 622.2 179.9 622.3 182.3 622.5 180.9 622.6 183.9 622.8 181.7 622.9 181.6 623.1 182.0 623.2 180.9 623.4 181.5 623.5 180.3 623.7 181.3 623.7 180.6 623.8 181.8 624.0 179.3 624.1 179.2 624.3 182.2 624.4 181.9 624.6 180.2 624.7 181.3 624.9 180.1 625.0 184.8 625.1 179.4 625.2 184.4 625.3 180.6 625.5 182.5 625.6 181.5 625.8 181.3 625.9 183.3 626.1 183.2 626.2 181.6 626.4 180.7 626.5 185.2 626.5 184.2 626.7 182.3 626.8 181.6 627.0 182.5 627.1 182.2 627.3 183.9 627.4 180.6 627.6 182.1 627.7 180.9 627.9 184.0 627.9 184.8 628.0 181.9 628.2 182.9 628.3 184.2 628.5 181.7 628.6 180.8 628.8 183.8 628.9 183.0 629.1 182.0 629.2 184.5 629.4 182.7 629.4 179.7 629.5 182.9 629.7 182.3 629.8 185.3 630.0 182.5 630.1 182.3 630.3 183.3 630.4 183.0 630.6 180.6 630.7 182.9 630.8 182.3 630.9 184.8 631.0 186.3 631.2 180.9 631.3 181.1 631.5 181.2 631.6 181.4 631.8 181.3 631.9 182.3 632.1 183.8 632.2 180.1 632.2 179.8 632.4 179.2 632.5 183.4 632.7 183.6 632.8 179.2 633.0 178.9 633.1 181.4 633.3 182.7 633.4 182.4 633.6 181.0 633.6 181.7 633.7 181.0 633.9 179.5 634.0 182.9 634.2 179.9 634.3 178.0 634.5 178.7 634.6 176.9 634.8 179.0 634.9 180.4 635.1 176.6 635.1 180.2 635.2 181.4 635.4 178.5 635.5 175.9 635.7 176.0 635.8 176.5 636.0 174.8 636.1 174.5 636.3 175.7 636.4 175.5 636.5 176.6 636.6 173.6 636.7 177.8 636.9 176.1 637.0 175.4 637.2 172.7 637.2 176.1 637.3 172.3 637.5 174.7 637.6 172.7 637.8 168.8 637.9 168.6 637.9 172.1 638.1 169.3 638.2 166.0 638.4 165.1 638.5 163.6 638.6 161.0 638.7 161.6 638.8 160.0 639.0 159.5 639.1 159.9 639.3 156.9 639.3 158.9 639.4 158.1 639.6 159.2 639.7 159.6 639.9 160.2 640.0 159.2 640.0 159.4 640.2 159.1 640.3 161.0 640.5 160.3 640.6 162.1 640.8 164.4 640.8 163.5 640.9 165.2 641.1 164.6 641.2 168.7 641.4 167.6 641.5 169.7 641.5 169.5 641.7 171.8 641.8 171.4 642.0 171.9 642.1 172.0 642.2 174.5 642.3 173.8 642.4 176.4 642.6 178.1 642.7 174.3 642.9 176.1 642.9 178.1 643.0 179.7 643.2 179.2 643.3 179.8 643.5 180.6 643.6 181.3 643.6 182.6 643.8 182.2 643.9 180.9 644.1 182.7 644.2 184.4 644.3 183.9 644.4 184.9 644.5 186.1 644.7 187.4 644.8 190.6 645.0 190.8 645.0 190.7 645.1 191.9 645.3 194.3 645.4 198.3 645.6 197.5 645.7 200.5 645.7 199.7 645.9 196.9 646.0 200.4 646.2 199.3 646.3 199.2 646.5 200.0 646.5 203.4 646.6 197.8 646.8 197.3 646.9 197.8 647.1 195.5 647.2 191.4 647.2 192.9 647.4 190.6 647.5 189.2 647.7 188.5 647.8 185.1 647.9 184.5 648.0 185.9 648.1 180.4 648.3 180.7 648.4 180.2 648.6 176.7 648.6 177.0 648.7 176.4 648.9 178.5 649.0 177.8 649.2 179.8 649.3 180.4 649.3 179.2 649.5 180.5 649.6 183.1 649.8 184.6 649.9 184.9 650.0 189.0 650.1 188.3 650.2 190.5 650.4 189.4 650.5 193.6 650.7 196.6 650.7 195.6 650.8 193.4 651.0 195.8 651.1 196.3 651.3 197.2 651.4 197.3 651.4 198.3 651.6 198.1 651.7 200.3 651.9 200.5 652.0 202.8 652.0 203.9 652.2 202.4 652.3 204.1 652.5 202.5 652.6 203.4 652.8 203.8 652.9 205.9 653.1 203.7 653.1 206.3 653.2 203.0 653.4 204.3 653.5 205.4 653.7 204.9 653.8 202.7 654.0 202.2 654.1 204.5 654.1 201.9 654.3 204.0 654.4 202.6 654.6 203.1 654.7 205.8 654.9 204.8 655.0 203.8 655.1 201.0 655.2 203.1 655.3 202.6 655.5 202.2 655.6 203.7 655.8 199.8 655.9 202.1 656.1 201.7 656.2 200.4 656.3 203.4 656.4 199.7 656.5 201.2 656.7 201.1 656.8 198.3 657.0 199.1 657.1 199.6 657.3 201.6 657.4 201.7 657.4 201.3 657.6 201.0 657.7 198.3 657.9 201.4 658.0 200.8 658.2 203.0 658.3 203.4 658.4 204.7 658.5 202.9 658.6 203.4 658.8 201.4 658.9 203.1 659.1 201.8 659.2 204.8 659.4 202.5 659.4 203.9 659.5 203.4 659.7 204.3 659.8 206.0 660.0 205.2 660.1 206.7 660.3 205.7 660.3 208.7 660.4 206.6 660.6 209.0 660.7 210.9 660.9 205.7 661.0 207.9 661.0 208.8 661.2 210.2 661.3 207.9 661.5 208.6 661.6 207.0 661.7 208.4 661.8 206.1 661.9 208.5 662.1 203.8 662.2 205.0 662.4 209.4 662.5 207.3 662.7 205.9 662.7 209.6 662.8 208.2 663.0 208.2 663.1 206.3 663.3 207.5 663.4 207.3 663.6 204.6 663.7 207.3 663.7 206.3 663.9 208.1 664.0 208.0 664.2 205.6 664.3 205.6 664.5 206.6 664.6 207.1 664.8 205.8 664.8 206.1 664.9 206.9 665.1 206.5 665.2 207.2 665.4 205.9 665.5 204.3 665.7 203.0 665.8 206.0 666.0 204.4 666.0 204.4 666.1 204.2 666.3 202.3 666.4 203.4 666.6 200.4 666.7 202.7 666.9 201.8 667.0 204.9 667.0 203.1 667.2 202.0 667.3 202.2 667.5 202.5 667.6 200.4 667.8 200.7 667.9 200.2 668.0 203.6 668.1 200.3 668.2 197.3 668.4 200.2 668.5 201.9 668.7 197.1 668.8 202.0 668.8 197.6 669.0 198.5 669.1 196.2 669.3 196.1 669.4 194.5 669.6 194.3 669.7 192.5 669.8 196.2 669.9 193.3 670.0 194.5 670.2 193.9 670.3 192.1 670.5 192.3 670.5 191.9 670.6 191.1 670.8 191.1 670.9 190.5 671.1 188.6 671.2 187.7 671.2 188.1 671.4 189.1 671.5 190.3 671.7 190.1 671.8 188.4 672.0 188.9 672.0 187.9 672.1 189.2 672.3 188.2 672.4 188.6 672.6 187.9 672.7 188.4 672.7 190.9 672.9 187.5 673.0 189.4 673.2 189.1 673.3 191.5 673.4 192.8 673.5 190.3 673.6 187.6 673.8 192.1 673.9 192.4 674.1 189.8 674.1 191.7 674.2 191.8 674.4 188.8 674.5 192.4 674.7 192.0 674.8 191.6 674.8 189.9 675.0 190.2 675.1 190.2 675.3 191.4 675.4 189.4 675.5 192.4 675.6 191.0 675.7 188.0 675.9 192.9 676.0 191.1 676.2 190.3 676.3 191.2 676.5 188.9 676.5 191.5 676.6 188.1 676.8 189.8 676.9 192.6 677.1 192.4 677.2 190.2 677.4 189.3 677.5 191.5 677.7 190.2 677.7 190.5 677.8 190.9 678.0 188.7 678.1 190.9 678.3 187.2 678.4 191.5 678.6 187.6 678.7 188.7 678.8 188.6 678.9 190.2 679.0 190.1 679.2 189.5 679.3 189.6 679.5 189.3 679.6 188.5 679.8 186.0 679.8 185.5 679.9 185.4 680.1 188.1 680.2 187.7 680.4 187.7 680.5 188.0 680.7 187.2 680.8 186.1 680.8 185.5 681.0 184.8 681.1 188.4 681.3 187.8 681.4 184.7 681.6 185.8 681.7 186.5 681.9 187.7 681.9 184.8 682.0 185.5 682.2 186.3 682.3 182.2 682.5 183.0 682.6 183.4 682.8 182.1 682.9 185.1 683.1 183.1 683.1 182.2 683.2 180.2 683.4 181.8 683.5 180.9 683.7 178.8 683.8 178.3 684.0 176.3 684.1 177.6 684.1 178.5 684.3 177.5 684.4 175.7 684.6 174.8 684.7 171.9 684.8 171.4 684.9 172.9 685.0 170.8 685.2 168.0 685.3 168.4 685.5 167.6 685.5 167.2 685.6 165.8 685.8 164.1 685.9 164.3 686.1 165.0 686.2 162.2 686.2 161.2 686.4 161.9 686.5 159.5 686.6 160.9 686.7 160.4 686.8 163.5 687.0 163.9 687.1 166.6 687.2 169.2 687.3 166.3 687.4 166.4 687.6 169.0 687.7 169.2 687.9 170.4 687.9 169.8 688.0 171.0 688.2 169.9 688.3 166.6 688.5 168.5 688.6 168.7 688.8 169.2 688.8 167.0 688.9 165.7 689.1 167.0 689.2 163.7 689.3 163.6 689.4 163.9 689.5 163.2 689.7 161.3 689.8 158.8 690.0 160.4 690.1 157.9 690.1 158.0 690.3 161.9 690.4 161.3 690.6 159.6 690.7 161.1 690.8 161.7 690.9 161.4 691.0 160.4 691.2 164.3 691.3 164.8 691.5 164.6 691.6 164.3 691.6 165.1 691.8 166.2 691.9 164.7 692.1 166.2 692.2 166.5 692.3 168.6 692.4 167.9 692.5 165.4 692.7 165.7 692.8 168.0 693.0 164.0 693.0 165.0 693.1 164.0 693.3 166.0 693.4 164.1 693.6 163.3 693.7 162.1 693.8 163.1 693.9 164.3 694.0 163.8 694.2 161.0 694.3 164.3 694.5 161.7 694.5 160.7 694.6 162.7 694.8 162.3 694.9 163.0 695.1 163.5 695.2 164.7 695.2 164.3 695.4 163.2 695.5 166.4 695.7 165.5 695.8 168.1 696.0 167.7 696.1 168.2 696.2 167.9 696.3 169.5 696.4 167.8 696.6 167.4 696.7 169.4 696.9 166.0 697.0 169.3 697.2 170.4 697.3 170.0 697.3 172.1 697.5 171.8 697.6 171.5 697.8 171.3 697.9 173.6 698.1 171.8 698.2 172.5 698.3 174.3 698.4 174.2 698.5 176.4 698.7 174.1 698.8 172.4 699.0 176.0 699.1 177.2 699.3 175.9 699.3 178.2 699.4 178.7 699.6 176.2 699.7 176.9 699.9 176.5 700.0 179.2 700.2 179.9 700.2 179.8 700.3 177.9 700.5 178.9 700.6 178.5 700.8 178.7 700.9 179.5 701.1 179.6 701.2 181.7 701.2 182.5 701.4 183.0 701.5 182.4 701.7 181.8 701.8 182.8 702.0 183.8 702.1 182.9 702.2 183.4 702.3 183.3 702.4 183.5 702.6 184.7 702.7 183.8 702.9 186.9 703.0 184.2 703.0 186.8 703.2 185.3 703.3 189.8 703.5 189.9 703.6 188.7 703.7 189.9 703.8 189.0 703.9 189.7 704.1 189.7 704.2 191.8 704.4 186.3 704.4 189.2 704.5 186.4 704.7 186.2 704.8 185.6 705.0 183.9 705.0 183.2 705.1 181.9 705.3 181.2 705.4 180.5 705.6 180.9 705.7 176.7 705.7 177.8 705.9 176.5 706.0 176.5 706.2 176.3 706.3 178.3 706.3 179.6 706.5 180.7 706.6 179.7 706.8 183.3 706.9 183.4 706.9 185.6 707.1 188.0 707.2 188.5 707.4 190.2 707.5 190.3 707.6 188.8 707.7 189.1 707.8 192.2 708.0 193.8 708.1 195.4 708.3 194.1 708.3 194.8 708.4 195.5 708.6 197.1 708.7 196.3 708.9 195.6 709.0 198.9 709.0 198.1 709.2 198.7 709.3 197.2 709.5 199.4 709.6 197.9 709.7 198.0 709.8 200.4 709.9 201.4 710.1 203.8 710.2 206.1 710.4 205.5 710.4 208.4 710.5 205.8 710.7 208.2 710.7 206.0" stroke="#0b6fb5" stroke-width="1" fill="none" stroke-linejoin="round"/>
<rect x="601.0" y="154.5" width="109.5" height="61.0" stroke="#a5a5a5" fill="none"/>
<path d="M622.5 215.5v-2M622.5 154.5v2M643.5 215.5v-2M643.5 154.5v2M664.5 215.5v-2M664.5 154.5v2M685.5 215.5v-2M685.5 154.5v2M706.5 215.5v-2M706.5 154.5v2M601.0 155.64h2M710.5 155.64h-2M601.0 167.42h2M710.5 167.42h-2M601.0 179.2h2M710.5 179.2h-2M601.0 190.98h2M710.5 190.98h-2M601.0 202.76h2M710.5 202.76h-2" stroke="#a5a5a5" fill="none"/>
<path d="M512 223L582.5 166M612 247L710.5 215.5" stroke="#222" stroke-width="0.7" fill="none"/>
</g></g>
<g transform="translate(0,0)">
<path d="M118.5 331.5V427.5M217.5 331.5V427.5M316.5 331.5V427.5M414.5 331.5V427.5M513.5 331.5V427.5M612.5 331.5V427.5M20.0 347.5H710.5M20.0 363.5H710.5M20.0 379.5H710.5M20.0 395.5H710.5M20.0 411.5H710.5" stroke="#efefef" fill="none"/>
<clipPath id="c2"><rect x="20.0" y="321.5" width="690.5" height="116.0"/></clipPath>
<path clip-path="url(#c2)" d="M19.7 378.8L20.0 375.4 20.2 373.1 20.3 371.9 20.6 367.7 20.7 366.1 20.9 365.2 21.2 364.7 21.2 364.0 21.5 366.6 21.7 367.3 21.8 369.6 22.1 375.2 22.2 377.4 22.4 380.3 22.7 384.3 22.7 385.0 23.0 388.8 23.2 391.4 23.3 392.6 23.6 395.9 23.7 397.2 23.9 399.2 24.2 403.2 24.2 404.0 24.5 401.8 24.7 400.1 24.8 397.7 25.1 391.8 25.2 390.1 25.4 383.9 25.7 377.1 25.7 377.4 26.0 369.9 26.2 365.1 26.3 363.7 26.6 360.7 26.7 359.8 26.9 360.8 27.2 361.8 27.2 363.0 27.5 370.3 27.7 374.9 27.8 379.2 28.1 387.8 28.2 389.7 28.4 394.0 28.7 398.1 28.7 398.9 29.0 397.1 29.2 396.1 29.3 393.8 29.6 388.1 29.7 386.0 29.9 381.8 30.2 378.2 30.2 377.1 30.5 373.8 30.7 371.0 30.8 371.7 31.1 372.1 31.2 372.7 31.4 375.8 31.7 379.7 31.7 381.0 32.0 385.9 32.2 388.0 32.3 389.9 32.6 392.7 32.7 393.2 32.9 391.1 33.2 388.5 33.2 387.7 33.5 380.0 33.7 375.5 33.8 373.6 34.1 368.8 34.2 367.0 34.4 368.3 34.7 368.9 34.7 369.2 35.0 373.9 35.2 375.9 35.3 378.9 35.6 384.7 35.7 386.3 35.9 389.7 36.2 392.2 36.2 392.6 36.5 389.9 36.7 389.6 36.8 387.4 37.1 383.8 37.2 382.2 37.4 380.2 37.7 376.7 37.7 377.4 38.0 376.8 38.2 376.2 38.3 376.4 38.6 379.6 38.7 380.2 38.9 384.2 39.2 387.5 39.2 387.5 39.5 391.8 39.7 394.0 39.8 392.6 40.1 391.6 40.2 391.0 40.4 387.3 40.7 383.9 40.7 382.4 41.0 378.4 41.2 375.0 41.3 373.5 41.6 370.1 41.7 370.0 41.9 370.5 42.2 370.7 42.2 371.3 42.5 374.9 42.7 376.2 42.8 377.7 43.1 382.4 43.2 383.6 43.4 387.0 43.7 390.1 43.7 389.8 44.0 391.9 44.2 392.3 44.3 391.0 44.6 388.8 44.7 389.0 44.9 385.5 45.2 382.7 45.2 381.5 45.5 378.6 45.7 377.0 45.8 376.0 46.1 373.8 46.2 373.5 46.4 374.6 46.7 375.1 46.7 376.0 47.0 378.7 47.2 380.3 47.3 381.7 47.6 385.0 47.7 385.1 47.9 387.3 48.2 388.6 48.2 388.0 48.5 387.2 48.7 388.1 48.8 386.2 49.1 384.0 49.2 383.6 49.4 382.1 49.7 382.2 49.7 380.4 50.0 379.2 50.2 378.7 50.3 378.1 50.6 377.6 50.7 377.8 50.9 378.7 51.2 379.1 51.2 380.0 51.5 380.8 51.6 381.9 51.8 383.3 52.1 384.6 52.1 383.9 52.4 384.0 52.6 385.8 52.7 385.4 53.0 383.9 53.1 384.1 53.3 382.6 53.6 381.2 53.6 380.8 53.9 380.2 54.1 379.2 54.2 379.0 54.5 379.2 54.6 378.8 54.8 378.1 55.0 378.9 55.1 379.3 55.4 379.1 55.7 379.9 55.8 380.2 56.0 380.9 56.3 381.9 56.5 382.7 56.6 382.4 56.9 384.2 57.2 383.5 57.3 383.7 57.5 383.7 57.8 382.7 58.0 380.9 58.1 380.7 58.4 380.0 58.7 380.7 58.8 380.2 59.0 380.1 59.3 381.1 59.5 381.9 59.6 381.9 59.9 383.7 60.2 384.2 60.3 384.1 60.5 385.1 60.8 386.9 61.1 388.2 61.1 388.2 61.4 388.6 61.7 388.5 61.8 388.8 62.0 387.6 62.3 385.2 62.6 383.3 62.6 384.3 62.9 381.9 63.2 379.7 63.3 379.5 63.5 379.0 63.8 378.1 64.1 378.5 64.1 378.3 64.4 380.5 64.7 381.9 64.8 382.9 65.0 383.6 65.3 385.6 65.6 386.8 65.6 386.6 65.9 385.3 66.2 385.4 66.3 384.7 66.5 383.1 66.8 381.3 67.1 379.2 67.1 379.0 67.4 379.0 67.7 379.0 67.9 378.1 68.0 378.4 68.3 380.1 68.6 382.5 68.6 381.3 68.9 383.1 69.2 383.4 69.4 384.2 69.5 383.7 69.8 382.7 70.1 383.0 70.1 384.1 70.4 382.5 70.7 382.2 70.9 381.5 71.0 381.3 71.3 380.9 71.6 380.4 71.6 381.1 71.9 379.8 72.2 379.5 72.4 379.1 72.5 378.4 72.8 377.3 73.1 377.5 73.2 376.3 73.4 377.2 73.7 376.4 73.8 375.8 74.0 377.6 74.3 380.1 74.3 380.8 74.6 385.6 74.8 387.4 74.9 388.7 75.2 391.9 75.4 393.6 75.5 392.6 75.8 389.9 76.0 388.5 76.1 387.0 76.4 382.1 76.6 380.6 76.7 378.1 77.0 372.7 77.1 371.2 77.3 371.1 77.5 369.5 77.6 370.5 77.9 375.7 78.1 375.9 78.2 379.2 78.5 384.9 78.6 386.8 78.8 388.3 79.1 391.9 79.2 392.1 79.4 389.9 79.7 388.4 79.8 387.8 80.0 373.6 80.0 373.5 80.3 371.7 80.6 370.7 80.8 369.7 80.9 370.3 81.2 371.6 81.4 371.6 81.5 374.8 81.8 379.0 81.9 379.5 82.1 383.0 82.4 387.3 82.6 390.0 82.7 390.9 83.0 391.2 83.3 393.3 83.4 393.9 83.6 391.4 83.9 389.6 84.2 387.5 84.2 385.8 84.5 381.2 84.7 377.2 84.8 377.6 85.1 375.4 85.3 374.4 85.4 375.7 85.7 378.4 85.9 379.8 86.0 381.6 86.3 383.7 86.6 388.1 86.7 388.1 86.9 389.0 87.2 388.7 87.5 388.9 87.6 389.7 87.8 388.0 88.1 386.1 88.3 384.4 88.4 384.3 88.7 383.7 89.0 382.1 89.1 383.7 89.3 382.3 89.6 383.2 89.8 383.7 89.9 382.9 90.2 383.6 90.5 384.7 90.6 383.8 90.8 384.8 91.1 384.9 91.3 385.2 91.4 385.2 91.7 384.0 92.0 383.2 92.1 383.6 92.3 382.5 92.6 381.5 92.9 379.9 92.9 380.4 93.2 380.7 93.5 380.3 93.6 379.9 93.8 379.9 94.1 380.5 94.4 381.5 94.4 382.2 94.7 382.6 95.0 384.2 95.1 383.8 95.3 384.9 95.6 384.4 95.9 385.5 95.9 384.7 96.2 384.5 96.5 383.4 96.6 382.3 96.8 381.5 97.1 380.3 97.4 378.6 97.4 379.0 97.7 379.5 98.0 380.7 98.2 381.2 98.3 381.0 98.6 382.3 98.9 383.6 98.9 383.4 99.2 384.4 99.5 385.8 99.7 385.9 99.8 385.3 100.1 384.3 100.4 384.7 100.4 383.6 100.7 383.0 101.0 381.6 101.3 380.9 101.6 380.6 101.6 380.4 101.9 381.3 102.2 381.5 102.5 381.1 102.7 380.9 102.8 382.8 103.1 382.6 103.4 384.3 103.7 384.1 103.8 383.9 104.0 384.8 104.3 384.7 104.6 385.1 104.9 384.9 105.0 385.7 105.2 385.3 105.5 383.8 105.8 384.3 106.1 382.5 106.1 382.8 106.4 380.8 106.7 379.7 107.0 380.7 107.2 379.7 107.3 379.8 107.6 379.0 107.9 380.5 108.2 381.2 108.4 381.3 108.5 381.9 108.8 382.2 109.1 383.5 109.4 383.9 109.5 384.5 109.7 384.2 110.0 382.8 110.3 382.3 110.3 381.8 110.6 379.9 110.9 378.3 111.0 377.6 111.2 378.7 111.5 379.7 111.8 381.5 112.1 383.3 112.1 382.9 112.4 384.2 112.7 385.2 113.0 387.1 113.3 387.6 113.3 387.3 113.6 386.9 113.9 386.3 114.2 385.3 114.4 385.0 114.5 384.3 114.8 383.0 115.1 381.7 115.4 380.4 115.6 380.0 115.7 379.9 116.0 379.2 116.3 378.8 116.6 378.4 116.9 377.7 117.1 377.1 117.2 378.7 117.5 381.2 117.8 383.3 117.8 384.0 118.1 385.4 118.4 387.2 118.6 388.1 118.7 388.4 119.0 387.4 119.3 387.2 119.6 386.3 119.7 386.1 119.9 385.8 120.2 385.2 120.5 384.4 120.8 383.3 121.1 382.8 121.2 382.4 121.4 382.2 121.7 381.7 122.0 381.4 122.3 380.8 122.6 379.9 122.9 379.3 123.1 378.7 123.2 379.6 123.5 379.5 123.8 380.1 124.1 379.8 124.4 380.1 124.6 380.4 124.7 380.5 125.0 381.5 125.3 382.1 125.6 383.7 125.9 384.4 126.1 385.3 126.2 384.8 126.5 383.9 126.8 384.0 127.1 383.7 127.3 382.8 127.4 382.0 127.7 380.7 128.0 379.4 128.0 379.0 128.3 380.6 128.6 380.9 128.9 381.0 129.2 381.2 129.5 382.4 129.8 383.5 130.1 383.7 130.4 384.3 130.7 384.3 130.8 384.7 131.0 383.6 131.3 384.1 131.6 383.1 131.9 381.7 132.2 381.1 132.5 381.2 132.8 380.5 133.1 379.8 133.2 380.0 133.4 380.8 133.7 380.9 134.0 380.8 134.3 381.8 134.6 382.1 134.9 382.8 135.2 383.7 135.5 384.1 135.6 384.0 135.8 383.9 136.1 383.1 136.4 383.0 136.7 382.3 137.0 382.0 137.3 381.2 137.6 381.0 137.9 380.3 138.0 380.1 138.2 380.3 138.5 380.9 138.8 380.8 139.1 382.6 139.4 382.1 139.7 382.8 140.0 383.1 140.3 383.6 140.5 384.0 140.6 383.5 140.9 383.1 141.2 382.4 141.5 382.1 141.8 381.6 142.1 382.1 142.4 380.7 142.7 380.4 142.9 380.5 143.0 381.1 143.3 380.5 143.6 381.0 143.9 381.8 144.2 382.3 144.5 382.2 144.8 382.4 145.1 383.1 145.3 383.8 145.4 383.4 145.7 383.4 146.0 382.8 146.3 382.5 146.6 382.4 146.9 381.9 147.2 381.7 147.5 381.1 147.8 380.9 148.1 380.9 148.1 380.8 148.4 380.9 148.7 381.7 149.0 381.9 149.3 382.1 149.6 382.1 149.9 382.9 150.2 383.7 150.5 383.0 150.5 382.7 150.8 382.7 151.1 382.4 151.4 382.1 151.7 381.8 152.0 382.2 152.3 381.9 152.6 381.8 152.9 381.4 152.9 381.0 153.2 381.8 153.5 381.6 153.8 382.0 154.1 382.0 154.4 383.0 154.7 383.3 155.0 383.1 155.0 383.1 155.3 382.9 155.6 382.7 155.9 382.6 156.2 382.0 156.5 381.8 156.8 380.9 157.1 381.1 157.1 380.7 157.4 382.1 157.7 382.3 158.0 382.5 158.3 383.0 158.6 383.6 158.8 383.5 158.9 382.6 159.2 382.6 159.5 381.5 159.8 381.6 160.1 380.6 160.4 380.9 160.5 381.0 160.7 380.5 161.0 381.2 161.3 381.9 161.6 382.0 161.9 382.3 162.2 381.3 162.5 382.8 162.6 383.7 162.8 383.1 163.1 381.6 163.4 381.8 163.7 381.7 164.0 380.6 164.0 381.6 164.3 381.2 164.6 381.9 164.9 382.6 165.2 384.4 165.5 383.4 165.7 383.6 165.8 384.2 166.1 383.0 166.4 382.9 166.7 381.0 167.0 382.0 167.3 381.3 167.5 380.4 167.6 382.2 167.9 381.6 168.2 382.1 168.5 381.8 168.8 382.1 169.1 383.1 169.2 382.6 169.4 383.5 169.7 383.3 170.0 382.0 170.3 381.0 170.6 381.3 170.9 380.5 170.9 381.2 171.2 381.6 171.5 381.7 171.8 382.4 172.1 383.4 172.4 384.2 172.7 383.2 173.0 384.3 173.0 383.7 173.3 382.9 173.6 383.9 173.9 383.1 174.2 382.6 174.5 382.3 174.8 381.7 175.1 380.8 175.1 382.6 175.4 382.3 175.7 382.1 176.0 383.0 176.0 383.5 176.2 383.5 176.3 383.8 176.5 382.3 176.6 382.1 176.8 380.5 176.9 383.3 177.0 381.0 177.2 383.7 177.2 383.8 177.5 383.0 177.5 383.9 177.8 381.3 177.8 380.8 178.0 380.9 178.1 381.1 178.2 383.6 178.4 383.7 178.5 384.3 178.7 381.0 178.8 382.4 179.0 380.4 179.0 381.3 179.2 383.0 179.3 382.5 179.5 382.8 179.6 383.8 179.8 383.5 179.9 383.5 180.0 379.9 180.2 381.9 180.2 381.3 180.5 381.7 180.5 382.7 180.8 381.7 180.8 380.5 181.0 381.2 181.1 381.5 181.2 383.2 181.4 381.3 181.5 381.1 181.7 381.1 181.8 382.6 182.0 382.2 182.0 382.4 182.2 380.0 182.3 380.7 182.5 379.6 182.6 382.5 182.8 381.6 182.9 380.6 183.0 384.1 183.2 382.0 183.2 381.8 183.5 381.2 183.5 380.2 183.8 383.5 183.8 382.0 184.0 385.4 184.1 383.1 184.2 380.5 184.4 381.8 184.5 382.4 184.7 381.4 184.8 382.7 185.0 383.4 185.0 382.9 185.2 380.7 185.3 383.4 185.5 380.6 185.6 381.4 185.8 380.1 185.9 381.6 186.0 383.9 186.2 382.9 186.2 382.9 186.5 380.7 186.5 381.9 186.8 381.8 186.8 381.1 187.0 382.0 187.1 381.5 187.2 384.3 187.4 382.0 187.5 382.2 187.7 383.1 187.8 381.3 188.0 380.4 188.0 381.1 188.2 382.3 188.3 384.3 188.5 382.9 188.6 382.0 188.8 382.6 188.9 382.8 189.0 380.9 189.2 383.6 189.2 383.2 189.5 383.4 189.5 380.7 189.8 382.3 189.8 383.1 190.0 381.0 190.1 383.7 190.2 381.9 190.4 381.1 190.5 382.3 190.7 382.4 191.0 382.9 191.3 382.9 191.6 383.5 191.9 383.5 192.2 383.9 192.5 383.9 192.6 384.1 192.8 384.0 193.1 383.5 193.4 383.2 193.7 382.8 194.0 382.5 194.3 382.3 194.6 381.9 194.9 381.6 195.2 381.0 195.4 380.7 195.5 380.7 195.8 381.4 196.1 381.8 196.4 382.0 196.7 383.2 197.0 382.9 197.3 383.8 197.5 384.0 197.6 383.7 197.9 383.8 198.2 382.9 198.5 382.3 198.8 382.5 199.1 381.5 199.4 381.0 199.5 381.0 199.7 381.2 200.0 381.7 200.3 382.1 200.6 382.1 200.9 382.8 201.2 383.6 201.5 383.3 201.6 383.6 201.8 383.4 202.1 383.1 202.4 382.4 202.7 381.9 203.0 381.5 203.3 381.5 203.6 381.1 203.7 380.4 203.9 380.7 204.2 381.4 204.5 381.8 204.8 382.6 205.1 383.0 205.4 383.8 205.7 384.0 205.8 383.9 206.0 383.6 206.3 382.6 206.6 381.9 206.9 381.6 207.2 381.3 207.2 380.9 207.5 381.9 207.8 382.3 208.1 382.5 208.4 383.1 208.7 383.5 209.0 384.0 209.2 384.4 209.3 384.0 209.6 383.9 209.9 383.4 210.2 383.0 210.5 381.9 210.8 381.5 211.1 381.6 211.3 381.0 211.4 381.2 211.7 381.5 212.0 381.7 212.3 382.3 212.6 382.5 212.9 382.9 213.2 383.5 213.4 383.3 213.5 383.7 213.8 382.8 214.1 383.5 214.4 382.4 214.7 382.6 215.0 382.4 215.3 382.0 215.5 382.0 215.6 381.9 215.9 381.8 216.2 382.5 216.5 382.9 216.8 382.8 216.9 382.5 217.1 382.3 217.4 382.1 217.6 381.9 217.7 381.3 217.9 380.6 218.0 383.5 218.2 385.9 218.3 384.8 218.6 381.2 218.6 381.4 218.9 381.9 219.2 382.6 219.5 383.4 219.6 383.9 219.8 383.4 220.1 382.6 220.4 382.2 220.7 381.0 221.0 380.6 221.0 380.4 221.3 381.2 221.6 381.3 221.9 381.9 222.2 382.4 222.5 382.1 222.8 383.3 223.1 383.3 223.1 383.1 223.4 382.6 223.7 382.8 224.0 382.3 224.0 382.7 224.3 382.5 224.6 382.7 224.9 382.0 225.2 382.1 225.3 382.1 225.5 382.5 225.8 382.4 226.1 382.9 226.4 382.7 226.6 382.9 226.7 383.0 227.0 382.8 227.3 382.3 227.6 382.2 227.9 382.2 227.9 382.0 228.2 382.2 228.5 382.2 228.8 382.8 229.1 383.1 229.2 382.8 229.4 382.6 229.7 382.9 230.0 382.5 230.3 382.2 230.5 382.0 230.6 382.2 230.9 383.0 231.2 382.5 231.5 383.4 231.8 382.9 231.8 382.8 232.1 383.0 232.4 382.5 232.7 382.5 233.0 382.1 233.1 382.0 233.3 382.2 233.6 382.5 233.9 382.4 234.2 382.3 234.4 382.8 234.5 382.8 234.8 382.9 235.1 383.0 235.4 382.8 235.7 383.7 235.7 383.3 236.0 383.3 236.3 383.2 236.6 383.0 236.9 382.6 237.0 382.6 237.2 382.4 237.5 382.2 237.8 381.9 238.1 381.4 238.2 381.5 238.4 381.8 238.7 382.3 239.0 382.7 239.1 383.0 239.3 382.2 239.6 381.6 239.9 380.7 240.0 380.4 240.2 381.5 240.5 383.1 240.8 384.6 240.8 384.7 241.1 383.8 241.4 383.2 241.7 382.6 241.7 382.9 242.0 382.2 242.3 381.7 242.6 381.6 242.6 381.3 242.9 382.2 243.2 382.8 243.5 383.3 243.8 383.7 243.9 384.2 244.1 383.9 244.4 382.8 244.7 382.6 245.0 382.2 245.2 382.3 245.3 382.4 245.6 383.3 245.9 384.6 246.0 386.5 246.2 383.9 246.5 382.5 246.6 383.3 246.8 379.3 247.1 378.2 247.3 380.0 247.4 380.3 247.7 379.4 248.0 381.9 248.2 381.9 248.3 382.3 248.6 381.9 248.9 382.6 249.0 382.4 249.2 382.8 249.5 382.0 249.8 382.9 249.9 381.9 250.1 380.7 250.4 383.1 250.7 384.7 250.8 383.8 251.0 383.9 251.3 382.4 251.6 382.4 251.6 381.1 251.9 383.0 252.2 381.6 252.5 384.2 252.5 381.9 252.8 381.1 253.1 383.0 253.4 382.2 253.4 382.5 253.7 383.4 254.0 383.6 254.2 383.3 254.3 384.4 254.6 384.9 254.9 385.5 255.1 385.9 255.2 384.6 255.5 384.0 255.8 383.2 256.0 382.6 256.1 383.7 256.4 385.9 256.7 388.6 256.8 388.7 257.0 387.8 257.3 385.8 257.6 384.5 257.9 382.6 258.1 381.6 258.2 381.2 258.5 379.6 258.8 378.4 259.1 375.9 259.4 375.1 259.4 375.9 259.7 379.7 260.0 383.0 260.3 386.8 260.6 390.8 260.7 391.9 260.9 390.5 261.2 388.9 261.5 387.2 261.8 385.0 262.0 384.1 262.1 383.1 262.4 381.0 262.7 379.2 263.0 377.3 263.3 376.2 263.3 375.9 263.6 378.0 263.9 380.7 264.2 381.6 264.2 382.6 264.5 385.2 264.8 387.6 265.0 388.9 265.1 388.0 265.4 385.9 265.7 384.4 266.0 382.5 266.3 381.2 266.3 380.8 266.6 378.8 266.9 375.8 267.2 374.8 267.2 374.7 267.5 376.9 267.8 379.3 268.1 381.9 268.2 383.1 268.4 384.5 268.7 386.0 269.0 388.4 269.3 390.5 269.3 390.0 269.6 385.8 269.9 381.2 270.0 380.6 270.2 379.1 270.5 378.5 270.8 377.3 270.9 377.0 271.1 378.7 271.4 381.7 271.7 383.7 271.8 384.6 272.0 384.0 272.3 382.8 272.6 381.6 272.8 380.7 272.9 380.0 273.2 379.2 273.5 378.4 273.7 378.1 273.8 378.9 274.1 380.8 274.4 381.9 274.6 383.3 274.7 381.9 275.0 379.0 275.3 377.0 275.5 374.5 275.6 376.6 275.9 378.1 276.2 379.9 276.4 380.4 276.5 382.2 276.8 382.9 277.1 384.4 277.3 385.8 277.4 385.1 277.7 384.0 278.0 383.6 278.3 382.4 278.3 382.7 278.6 381.3 278.9 380.4 279.2 378.7 279.2 379.5 279.5 379.5 279.8 380.3 280.1 379.8 280.1 380.8 280.4 382.2 280.7 384.1 281.0 385.3 281.0 385.9 281.3 388.6 281.6 390.8 281.9 393.4 281.9 393.5 282.2 392.4 282.5 390.2 282.8 388.6 282.9 388.3 283.1 383.7 283.4 378.9 283.7 373.9 283.8 373.9 284.0 372.3 284.3 370.8 284.6 368.8 284.7 369.1 284.9 371.5 285.2 374.9 285.5 378.6 285.6 378.7 285.8 381.8 286.1 385.6 286.4 389.4 286.5 389.9 286.7 388.5 287.0 386.1 287.3 383.2 287.4 382.1 287.6 379.0 287.9 375.0 288.2 370.0 288.4 367.6 288.5 368.6 288.8 369.8 289.1 371.0 289.3 371.7 289.4 375.0 289.7 378.8 290.0 383.9 290.2 386.2 290.3 387.4 290.6 389.7 290.9 392.3 291.1 393.6 291.2 392.1 291.5 387.9 291.8 383.3 292.0 381.5 292.1 379.8 292.4 378.2 292.7 376.6 292.9 374.3 293.0 375.1 293.3 376.1 293.6 376.6 293.9 376.7 293.9 378.2 294.2 380.2 294.5 382.4 294.8 385.0 294.8 384.7 295.1 387.0 295.4 388.3 295.7 390.2 295.7 389.4 296.0 386.6 296.3 383.4 296.6 380.7 296.6 380.8 296.9 377.7 297.2 374.8 297.5 372.1 297.5 371.7 297.8 370.3 298.1 369.8 298.4 369.0 298.5 369.3 298.7 373.5 299.0 378.0 299.3 382.1 299.4 382.9 299.6 387.6 299.9 394.4 300.2 400.1 300.3 401.2 300.5 394.1 300.8 385.8 301.1 377.2 301.2 375.6 301.4 363.2 301.7 348.5 301.8 347.1 302.0 356.9 302.3 366.4 302.5 371.7 302.6 376.3 302.9 385.9 303.2 395.4 303.4 400.8 303.5 399.3 303.8 395.8 304.1 392.3 304.3 389.7 304.4 386.7 304.7 378.6 305.0 370.5 305.2 364.3 305.3 365.5 305.6 368.6 305.9 371.5 306.2 373.4 306.2 376.7 306.5 390.3 306.7 399.0 306.8 400.6 307.1 403.1 307.4 406.9 307.5 407.0 307.7 396.5 308.0 386.4 308.2 380.5 308.3 375.3 308.6 365.0 308.9 355.2 308.9 355.4 309.2 360.5 309.5 366.6 309.7 368.1 309.8 373.6 310.1 382.7 310.4 390.1 310.4 390.8 310.7 395.5 311.0 399.9 311.3 405.2 311.3 403.5 311.6 393.5 311.9 384.0 312.0 380.4 312.2 375.2 312.5 364.9 312.8 357.5 312.8 359.2 313.1 367.1 313.4 375.4 313.5 377.0 313.7 384.0 314.0 392.8 314.2 399.3 314.3 395.6 314.6 384.9 314.9 373.5 315.0 371.7 315.2 366.7 315.5 362.2 315.7 359.1 315.8 363.5 316.1 374.4 316.4 386.1 316.4 386.7 316.7 393.9 317.0 403.1 317.3 410.8 317.4 412.1 317.6 404.5 317.9 395.0 318.1 390.2 318.2 386.2 318.5 378.1 318.8 370.6 318.8 370.2 319.1 363.7 319.4 357.7 319.6 355.2 319.7 358.9 320.0 363.7 320.3 369.4 320.5 371.6 320.6 375.2 320.9 383.8 321.2 391.2 321.4 395.3 321.5 396.4 321.8 398.8 322.1 401.3 322.3 402.5 322.4 401.2 322.7 395.6 323.0 390.4 323.2 386.3 323.3 385.4 323.6 381.7 323.9 378.4 324.2 375.6 324.2 375.8 324.5 376.7 324.8 377.7 325.1 378.8 325.1 377.7 325.4 371.7 325.7 365.5 326.0 361.2 326.0 360.1 326.3 354.3 326.6 349.4 326.9 344.7 326.9 345.8 327.2 353.5 327.5 360.4 327.8 368.2 327.8 368.3 328.1 382.5 328.4 396.4 328.7 409.9 328.7 410.5 329.0 402.8 329.3 394.8 329.6 386.8 329.7 386.5 329.9 379.9 330.2 372.6 330.5 365.5 330.6 364.3 330.8 365.1 331.1 366.4 331.4 368.1 331.5 368.0 331.7 373.2 332.0 378.4 332.3 384.3 332.4 386.4 332.6 389.7 332.9 393.4 333.2 398.0 333.3 399.5 333.5 390.8 333.8 377.3 334.1 364.1 334.3 358.4 334.4 360.0 334.7 361.8 335.0 364.0 335.2 364.0 335.3 367.1 335.6 372.4 335.9 378.4 336.1 380.1 336.2 383.5 336.5 390.4 336.8 396.0 337.0 398.9 337.1 397.2 337.4 392.7 337.7 387.8 337.9 384.5 338.0 383.9 338.3 383.2 338.6 381.7 338.8 381.1 338.9 381.2 339.2 381.5 339.5 382.7 339.8 382.6 339.8 382.6 340.1 381.0 340.4 380.0 340.7 379.0 340.7 378.6 341.0 377.7 341.3 376.8 341.6 376.0 341.6 376.1 341.9 378.0 342.2 380.9 342.5 382.9 342.5 383.4 342.8 383.6 343.1 385.7 343.4 386.2 343.4 386.7 343.7 384.5 344.0 383.1 344.3 380.9 344.4 380.3 344.6 381.7 344.9 383.2 345.2 384.4 345.3 383.9 345.5 383.7 345.8 383.2 346.1 382.8 346.2 382.8 346.4 381.0 346.7 379.0 347.0 377.7 347.1 377.1 347.3 376.6 347.6 374.9 347.9 374.1 348.0 373.3 348.2 375.3 348.5 377.7 348.8 380.2 348.9 380.6 349.1 382.0 349.4 383.6 349.7 385.6 349.9 386.6 350.0 386.6 350.3 384.5 350.6 383.5 350.8 382.8 350.9 382.6 351.2 381.5 351.5 380.8 351.7 380.1 351.8 381.4 352.1 382.6 352.4 383.2 352.6 384.7 352.7 385.3 353.0 386.4 353.3 388.6 353.5 389.9 353.6 388.6 353.9 385.3 354.2 381.1 354.5 379.3 354.5 378.8 354.8 376.8 355.1 374.8 355.4 373.6 355.4 373.3 355.7 373.2 356.0 372.4 356.3 372.3 356.3 372.0 356.6 375.0 356.9 376.8 357.2 379.0 357.2 378.7 357.5 379.2 357.8 379.0 358.1 379.2 358.4 379.5 358.7 379.0 358.7 378.9 359.0 377.9 359.3 376.4 359.6 375.2 359.6 375.9 359.9 378.3 360.2 380.8 360.5 383.0 360.5 382.7 360.8 384.2 361.1 385.6 361.4 386.3 361.4 386.4 361.7 384.4 362.0 382.8 362.3 381.5 362.3 381.0 362.6 378.3 362.9 376.3 363.2 373.8 363.3 373.9 363.5 375.9 363.8 379.0 364.1 382.3 364.2 382.3 364.4 387.7 364.7 392.2 365.0 397.9 365.1 398.8 365.3 395.7 365.6 391.9 365.9 387.7 366.0 386.7 366.2 383.0 366.5 377.4 366.8 373.3 366.9 371.2 367.1 370.3 367.4 368.6 367.7 366.7 367.9 366.4 368.0 367.8 368.3 371.6 368.6 374.3 368.8 375.7 368.9 378.0 369.2 382.2 369.5 386.1 369.7 388.8 369.8 387.0 370.1 385.7 370.4 383.7 370.6 382.7 370.7 382.3 371.0 380.8 371.3 380.1 371.5 379.3 371.6 379.2 371.9 379.7 372.2 379.5 372.4 379.4 372.5 379.7 372.8 379.5 373.1 380.0 373.4 379.0 373.4 379.5 373.7 380.1 374.0 381.1 374.3 380.9 374.3 381.2 374.6 381.6 374.9 382.0 375.2 382.4 375.2 382.8 375.5 385.2 375.8 386.7 376.1 388.2 376.1 388.0 376.4 384.2 376.7 380.7 377.0 377.2 377.0 377.4 377.3 376.3 377.6 374.3 377.9 373.7 377.9 374.0 378.2 376.1 378.5 379.4 378.8 382.5 378.9 383.1 379.1 386.2 379.4 389.5 379.7 393.3 379.8 394.1 380.0 390.8 380.3 387.7 380.6 383.6 380.7 382.4 380.9 379.2 381.2 375.2 381.5 371.0 381.6 370.1 381.8 369.1 382.1 368.3 382.4 366.9 382.5 366.7 382.7 368.4 383.0 372.1 383.3 376.0 383.5 377.3 383.6 381.0 383.9 386.9 384.2 392.7 384.4 396.1 384.5 393.6 384.8 388.6 385.1 384.7 385.3 382.7 385.4 380.6 385.7 375.6 386.0 370.4 386.2 368.3 386.3 369.0 386.6 371.8 386.9 374.0 387.1 375.7 387.2 377.4 387.5 382.2 387.8 386.6 388.0 390.4 388.1 389.2 388.4 385.8 388.7 383.1 389.0 380.8 389.0 380.3 389.3 377.4 389.6 373.8 389.9 371.9 389.9 372.6 390.2 377.1 390.5 382.5 390.8 386.2 390.8 386.7 391.1 392.7 391.4 398.2 391.7 402.7 391.7 402.8 392.0 396.2 392.3 389.1 392.6 383.3 392.6 382.7 392.9 378.6 393.2 373.6 393.5 370.3 393.6 369.7 393.8 372.9 394.1 375.2 394.4 379.1 394.5 379.5 394.7 383.9 395.0 387.2 395.3 393.1 395.4 393.9 395.6 389.4 395.9 385.9 396.2 381.9 396.3 381.3 396.5 378.4 396.8 375.7 397.1 372.6 397.2 371.8 397.4 374.2 397.7 378.1 398.0 381.8 398.1 382.3 398.3 386.2 398.6 390.4 398.9 395.4 399.1 397.8 399.2 395.0 399.5 390.9 399.8 386.8 400.0 384.8 400.1 382.5 400.4 378.8 400.7 375.7 400.9 373.8 401.0 374.2 401.3 375.3 401.6 376.8 401.8 377.2 401.9 377.3 402.2 379.0 402.5 380.3 402.7 381.1 402.8 381.1 403.1 382.3 403.4 383.8 403.7 384.5 403.7 385.1 404.0 387.2 404.3 388.8 404.6 390.6 404.6 390.0 404.9 389.9 405.2 389.1 405.5 389.0 405.5 387.8 405.8 384.7 406.1 382.1 406.4 378.9 406.4 378.6 406.7 375.8 407.0 372.9 407.3 369.5 407.3 370.1 407.6 372.3 407.9 374.8 408.2 377.3 408.2 377.2 408.5 375.8 408.8 373.8 409.1 371.8 409.2 371.8 409.4 374.3 409.7 376.6 410.0 379.2 410.1 379.0 410.3 380.7 410.6 383.1 410.9 384.2 411.0 385.1 411.2 388.2 411.5 392.1 411.8 396.0 411.9 397.6 412.1 393.2 412.4 387.8 412.7 382.1 412.8 381.3 413.0 377.6 413.3 372.8 413.6 368.1 413.7 366.3 413.9 370.0 414.2 376.2 414.5 381.9 414.7 383.8 414.8 387.6 415.1 392.3 415.4 396.9 415.6 399.8 415.7 397.3 416.0 393.9 416.3 392.2 416.5 390.2 416.6 388.0 416.9 384.8 417.2 381.5 417.4 378.7 417.5 378.3 417.8 376.4 418.1 373.8 418.3 371.7 418.4 373.0 418.7 376.3 419.0 380.2 419.3 382.7 419.3 383.8 419.6 388.5 419.9 394.2 420.2 397.5 420.2 395.4 420.5 387.1 420.8 379.3 421.1 372.2 421.1 370.1 421.4 360.7 421.7 351.4 422.0 342.3 422.0 342.6 422.3 348.6 422.6 354.9 422.7 356.8 422.9 365.4 423.2 379.2 423.5 390.4 423.5 391.8 423.8 399.0 424.1 407.1 424.2 408.2 424.4 405.3 424.7 400.7 425.0 397.2 425.1 395.6 425.3 389.9 425.6 382.7 425.9 377.8 425.9 376.0 426.2 369.8 426.5 364.1 426.6 362.1 426.8 364.7 427.1 367.6 427.4 370.7 427.5 371.6 427.7 377.2 428.0 384.5 428.3 391.7 428.4 394.6 428.6 390.8 428.9 386.7 429.2 382.7 429.4 380.7 429.5 379.0 429.8 376.2 430.1 372.8 430.3 371.9 430.4 373.1 430.7 374.2 431.0 375.7 431.2 377.3 431.3 378.7 431.6 382.7 431.9 386.1 432.1 388.4 432.2 387.8 432.5 385.9 432.8 383.8 433.0 382.4 433.1 381.1 433.4 378.8 433.7 376.8 433.9 375.4 434.0 375.4 434.3 376.0 434.6 376.3 434.9 376.8 434.9 377.2 435.2 379.7 435.5 380.7 435.8 383.0 435.8 382.2 436.1 381.5 436.4 380.2 436.7 379.3 436.7 379.3 437.0 378.2 437.3 377.5 437.6 377.1 437.6 377.1 437.9 378.7 438.2 379.7 438.5 380.9 438.5 381.1 438.8 382.6 439.1 384.9 439.4 385.8 439.5 386.5 439.7 384.8 440.0 382.7 440.3 380.9 440.4 381.2 440.6 381.3 440.9 381.5 441.2 382.2 441.3 383.0 441.5 383.5 441.8 385.3 442.1 386.5 442.2 386.3 442.4 385.2 442.7 383.0 443.0 381.3 443.1 380.7 443.3 381.8 443.6 382.2 443.9 383.5 444.2 384.5 444.4 385.0 444.5 383.6 444.8 381.8 445.0 381.0 445.1 380.5 445.4 379.4 445.6 378.7 445.7 380.3 446.0 383.1 446.2 385.0 446.3 385.3 446.6 386.6 446.9 387.5 446.9 386.5 447.2 382.8 447.5 380.0 447.5 379.8 447.8 377.7 448.1 375.9 448.1 376.5 448.4 378.3 448.7 379.9 448.7 379.9 449.0 382.2 449.3 383.5 449.3 383.5 449.6 381.9 449.9 380.2 450.0 379.8 450.2 379.3 450.5 378.8 450.6 378.6 450.8 379.7 451.1 380.8 451.2 381.0 451.4 382.5 451.7 384.1 451.8 385.1 452.0 383.6 452.3 381.9 452.5 380.9 452.6 380.6 452.9 379.6 453.1 379.5 453.2 380.3 453.5 382.5 453.7 383.4 453.8 384.6 454.1 387.5 454.3 389.1 454.4 388.9 454.7 387.2 455.0 386.2 455.0 385.4 455.3 382.4 455.6 380.0 455.6 379.4 455.9 377.1 456.2 375.1 456.2 374.8 456.5 373.6 456.8 372.4 456.8 372.5 457.1 373.2 457.4 373.6 457.5 373.4 457.7 374.9 458.0 376.0 458.1 376.3 458.3 378.3 458.6 380.9 458.7 381.0 458.9 382.5 459.2 384.5 459.3 384.8 459.5 386.3 459.8 388.0 459.9 388.4 460.1 389.1 460.4 389.8 460.6 389.9 460.7 388.7 461.0 387.2 461.2 386.0 461.3 385.0 461.6 382.7 461.8 381.1 461.9 380.4 462.2 379.5 462.4 378.7 462.5 378.4 462.8 377.8 463.1 377.5 463.1 377.6 463.4 378.1 463.7 378.6 463.7 378.9 464.0 379.8 464.3 380.5 464.3 380.4 464.6 381.5 464.9 382.3 464.9 382.5 465.2 384.1 465.5 385.6 465.6 385.6 465.8 385.0 466.1 384.3 466.2 384.3 466.4 383.7 466.7 383.1 466.8 382.9 467.0 382.6 467.3 382.0 467.4 382.1 467.6 381.9 467.9 381.7 468.0 381.9 468.2 381.3 468.5 381.0 468.7 380.7 468.8 381.3 469.1 381.3 469.3 381.8 469.4 382.1 469.7 382.7 469.9 383.1 470.0 382.8 470.3 382.7 470.5 382.7 470.6 382.8 470.9 382.3 471.2 382.2 471.2 382.5 471.5 382.2 471.8 382.0 471.8 381.7 472.1 382.0 472.4 382.2 472.4 382.3 472.7 382.4 473.0 382.7 473.0 382.8 473.3 382.4 473.6 382.1 473.7 382.1 473.9 382.0 474.2 382.0 474.5 381.8 474.8 381.6 474.9 381.9 475.1 381.8 475.4 381.8 475.7 382.2 476.0 382.0 476.2 382.2 476.3 382.2 476.6 382.3 476.9 382.4 477.2 382.6 477.4 382.5 477.5 382.6 477.8 382.5 478.1 382.4 478.4 382.3 478.6 382.5 478.7 382.2 479.0 382.0 479.3 381.9 479.6 381.8 479.9 381.7 479.9 381.6 480.2 382.0 480.5 381.8 480.8 382.1 481.1 382.2 481.1 382.0 481.4 382.5 481.7 382.7 482.0 382.7 482.3 383.3 482.4 383.1 482.6 382.9 482.9 382.7 483.2 382.5 483.5 382.5 483.6 382.4 483.8 382.0 484.1 381.8 484.4 381.5 484.7 381.3 484.9 381.1 485.0 381.2 485.3 381.6 485.6 381.9 485.9 382.0 486.1 381.9 486.2 382.2 486.5 382.4 486.8 382.4 487.1 382.6 487.4 382.7 487.4 382.4 487.7 382.2 488.0 382.5 488.3 382.2 488.6 382.2 488.6 382.1 488.9 382.1 489.2 382.2 489.5 381.8 489.8 381.9 489.9 381.8 490.1 382.0 490.4 382.2 490.7 382.4 491.0 382.4 491.1 382.2 491.3 382.4 491.6 382.4 491.9 382.4 492.2 382.5 492.4 382.2 492.5 382.1 492.8 382.2 493.1 382.3 493.4 382.5 493.6 382.3 493.7 382.5 494.0 382.4 494.3 382.1 494.6 382.3 494.8 382.1 494.9 382.2 495.2 382.0 495.5 382.1 495.8 381.8 496.1 382.0 496.1 381.6 496.4 381.9 496.7 382.0 497.0 382.3 497.3 382.2 497.3 382.1 497.6 382.1 497.9 382.3 498.2 382.3 498.5 382.7 498.6 382.0 498.8 382.4 499.1 382.0 499.4 382.4 499.7 382.1 499.8 382.4 500.0 382.1 500.3 382.3 500.6 382.2 500.9 382.3 501.1 382.2 501.2 381.7 501.5 382.0 501.8 381.8 502.1 382.1 502.3 382.0 502.4 381.9 502.7 382.1 503.0 382.1 503.3 382.0 503.6 382.4 503.6 382.2 503.9 382.2 504.2 382.1 504.5 382.3 504.8 382.4 504.8 382.4 505.1 382.3 505.4 382.3 505.7 382.1 506.0 382.2 506.1 381.9 506.3 382.0 506.6 382.1 506.9 382.3 507.2 382.2 507.3 382.2 507.5 382.1 507.8 382.2 508.1 382.4 508.4 382.6 508.6 382.2 508.7 382.3 509.0 382.3 509.3 382.3 509.6 382.2 509.8 382.3 509.9 382.0 510.2 382.4 510.5 382.0 510.8 382.2 511.1 382.2 511.4 382.3 511.7 382.3 512.0 382.2 512.3 382.2 512.3 382.2 512.6 382.1 512.9 382.1 513.2 382.1 513.5 382.0 513.5 382.1 513.7 382.5 513.8 382.5 513.9 382.5 514.0 382.3 514.1 382.3 514.2 382.3 514.4 381.9 514.4 382.0 514.6 382.8 514.7 382.2 514.8 382.1 515.0 382.7 515.0 382.3 515.1 381.8 515.3 383.0 515.3 382.9 515.5 382.0 515.6 382.8 515.7 383.0 515.9 382.3 515.9 382.5 516.0 382.7 516.2 382.4 516.2 382.4 516.4 382.7 516.5 382.5 516.6 382.4 516.8 382.9 516.8 382.9 517.0 382.7 517.1 382.7 517.1 382.7 517.3 383.1 517.4 382.4 517.5 382.1 517.7 382.9 517.7 382.8 517.9 382.5 518.0 381.8 518.0 381.8 518.2 382.6 518.3 382.5 518.4 382.3 518.6 383.1 518.6 382.8 518.8 382.2 518.9 382.4 518.9 382.4 519.1 382.5 519.2 382.0 519.3 381.6 519.5 382.7 519.5 382.5 519.7 382.0 519.8 382.8 519.9 382.9 520.0 383.1 520.1 382.7 520.2 382.4 520.4 381.8 520.4 381.9 520.6 382.6 520.7 382.6 520.8 382.6 520.9 382.8 521.0 382.6 521.1 382.4 521.3 381.9 521.3 382.0 521.5 382.4 521.6 382.1 521.7 382.0 521.9 383.1 521.9 382.7 522.0 382.1 522.2 382.2 522.2 382.3 522.4 382.5 522.5 382.0 522.6 381.9 522.8 382.3 522.8 382.3 522.9 382.4 523.1 382.3 523.1 382.3 523.3 382.3 523.4 382.8 523.5 383.0 523.7 382.6 523.7 382.3 523.9 381.9 524.0 382.3 524.0 382.3 524.2 382.7 524.3 382.3 524.4 382.1 524.6 382.4 524.6 382.4 524.8 382.5 524.9 382.6 524.9 382.6 525.1 382.3 525.2 382.3 525.3 382.2 525.5 381.9 525.5 382.1 525.7 382.5 525.8 382.2 525.9 382.1 526.0 383.0 526.1 382.7 526.2 382.4 526.4 382.2 526.4 382.4 526.6 382.8 526.7 382.5 526.8 382.4 526.9 382.5 527.0 382.5 527.1 382.5 527.3 382.2 527.3 382.2 527.5 382.1 527.6 382.1 527.7 382.1 527.9 382.8 527.9 382.5 528.0 382.1 528.2 382.2 528.2 382.2 528.4 382.3 528.5 382.6 528.6 382.7 528.8 383.2 528.8 382.7 528.9 382.1 529.1 382.8 529.1 382.7 529.3 382.4 529.4 382.4 529.5 382.4 529.7 382.7 529.7 382.4 529.8 381.9 530.0 382.7 530.0 382.7 530.2 382.6 530.3 382.2 530.4 382.0 530.6 383.1 530.6 383.0 530.8 382.8 530.9 382.9 530.9 382.9 531.1 381.9 531.2 382.1 531.3 382.3 531.5 382.2 531.5 382.4 531.7 382.7 531.8 383.0 531.8 383.0 532.0 381.7 532.1 382.1 532.2 382.4 532.4 382.4 532.4 382.5 532.6 382.8 532.7 382.4 532.8 382.3 532.9 381.9 533.0 382.2 533.1 382.4 533.3 382.0 533.3 382.0 533.5 382.1 533.6 382.4 533.7 382.4 533.8 382.2 533.9 382.4 534.0 382.5 534.2 381.8 534.2 382.1 534.4 383.3 534.5 383.1 534.6 383.0 534.8 382.8 534.8 382.3 534.9 381.9 535.1 381.6 535.1 381.7 535.3 382.1 535.4 382.3 535.5 382.4 535.7 383.3 535.7 383.2 535.8 383.1 536.0 382.2 536.0 382.3 536.2 382.8 536.3 382.9 536.4 383.0 536.6 382.4 536.6 382.6 536.8 382.9 536.9 382.6 536.9 382.5 537.1 382.1 537.2 382.0 537.3 382.0 537.5 382.4 537.5 382.5 537.7 382.8 537.8 382.0 537.8 382.0 538.0 381.8 538.1 382.3 538.2 382.6 538.4 381.3 538.4 381.8 538.6 383.2 538.7 382.4 538.7 382.3 538.9 382.7 539.0 382.9 539.1 383.1 539.3 381.9 539.3 381.9 539.5 382.0 539.6 383.2 539.7 383.3 539.8 382.4 539.9 382.4 540.0 382.3 540.2 382.5 540.2 382.6 540.4 382.8 540.5 382.9 540.6 383.0 540.7 382.5 540.8 382.4 540.9 382.4 541.1 382.3 541.1 382.4 541.3 382.6 541.4 382.9 541.5 383.0 541.7 382.5 541.7 382.8 541.8 383.3 542.0 382.1 542.0 382.1 542.2 382.6 542.3 383.0 542.4 383.2 542.6 382.9 542.6 382.8 542.7 382.7 542.9 382.1 542.9 382.1 543.1 382.1 543.2 382.3 543.3 382.4 543.5 382.6 543.5 382.5 543.7 382.4 543.8 381.8 543.8 381.8 544.0 382.1 544.1 382.4 544.2 382.5 544.4 382.8 544.4 382.5 544.6 381.8 544.7 382.3 544.7 382.3 544.9 381.8 545.0 382.0 545.1 382.2 545.3 383.8 545.3 383.5 545.5 382.5 545.6 382.3 545.7 382.3 545.8 382.2 545.9 382.1 546.0 382.0 546.2 381.6 546.2 381.8 546.4 382.4 546.5 382.4 546.6 382.5 546.7 383.0 546.8 382.3 546.9 381.7 547.1 382.6 547.1 382.7 547.3 382.9 547.4 381.8 547.5 381.6 547.7 382.7 547.7 382.2 547.8 381.8 548.0 382.6 548.0 382.7 548.2 383.1 548.3 382.5 548.4 382.3 548.6 382.5 548.6 382.3 548.7 382.2 548.9 382.5 548.9 382.6 549.1 383.0 549.2 382.5 549.3 382.4 549.5 382.3 549.5 382.4 549.6 382.6 549.8 382.7 549.8 382.7 550.0 381.8 550.1 382.3 550.2 382.5 550.4 382.8 550.4 382.9 550.6 383.1 550.7 383.6 550.7 383.6 550.9 383.9 551.0 384.1 551.1 384.2 551.3 384.1 551.3 384.2 551.5 384.2 551.6 384.1 551.6 384.1 551.8 383.7 551.9 383.4 552.0 383.2 552.2 382.8 552.2 382.6 552.4 382.2 552.5 381.7 552.6 381.6 552.7 381.2 552.8 381.0 552.9 380.9 553.1 380.8 553.1 380.8 553.3 380.8 553.4 381.0 553.5 381.0 553.6 381.1 553.7 381.3 553.8 381.4 554.0 381.8 554.0 381.9 554.2 382.3 554.3 382.6 554.4 382.6 554.6 382.9 554.6 383.0 554.7 383.2 554.9 383.3 554.9 383.3 555.1 383.4 555.2 383.3 555.3 383.3 555.5 383.3 555.5 383.3 555.6 383.2 555.8 383.1 555.8 383.0 556.0 382.8 556.1 382.6 556.2 382.5 556.4 382.4 556.4 382.2 556.6 382.0 556.7 381.7 556.7 381.7 556.9 381.4 557.0 381.3 557.1 381.2 557.3 381.0 557.3 381.0 557.5 381.1 557.6 381.2 557.6 381.2 557.8 381.5 557.9 381.6 558.0 381.7 558.2 382.2 558.2 382.3 558.4 382.7 558.5 383.1 558.5 383.1 558.7 383.6 558.8 383.8 558.9 384.0 559.1 384.1 559.1 384.1 559.3 384.2 559.4 384.1 559.5 384.1 559.6 384.0 559.7 383.7 559.8 383.5 560.0 383.1 560.0 383.1 560.2 382.8 560.3 382.3 560.4 382.2 560.5 381.8 560.6 381.7 560.7 381.5 560.9 381.3 560.9 381.3 561.1 381.3 561.2 381.3 561.3 381.3 561.5 381.4 561.5 381.5 561.6 381.5 561.8 381.8 561.8 381.8 562.0 382.0 562.1 382.2 562.2 382.3 562.4 382.5 562.4 382.6 562.5 382.8 562.7 383.0 562.7 383.0 562.9 383.1 563.0 383.2 563.1 383.2 563.3 383.3 563.3 383.3 563.5 383.3 563.6 383.3 563.6 383.3 563.8 383.2 563.9 382.9 564.0 382.8 564.2 382.6 564.2 382.5 564.4 382.3 564.5 381.9 564.5 381.9 564.7 381.6 564.8 381.4 564.9 381.2 565.1 381.0 565.1 381.0 565.3 381.0 565.4 381.0 565.5 381.0 565.6 381.1 565.7 381.3 565.8 381.4 566.0 381.8 566.0 381.9 566.2 382.3 566.3 382.6 566.4 382.7 566.5 383.1 566.6 383.3 566.7 383.5 566.9 383.7 566.9 383.7 567.1 383.9 567.2 383.8 567.3 383.8 567.5 383.7 567.5 383.6 567.6 383.5 567.8 383.2 567.8 383.2 568.0 383.0 568.1 382.7 568.2 382.6 568.4 382.3 568.4 382.1 568.5 382.0 568.7 381.8 568.7 381.8 568.9 381.6 569.0 381.6 569.1 381.6 569.3 381.6 569.3 381.6 569.4 381.6 569.6 381.7 569.6 381.7 569.8 381.9 569.9 382.1 570.0 382.2 570.2 382.3 570.2 382.4 570.4 382.6 570.5 382.8 570.5 382.8 570.7 383.1 570.8 383.1 570.9 383.1 571.1 383.3 571.1 383.3 571.3 383.5 571.4 383.5 571.4 383.5 571.6 383.4 571.7 383.3 571.8 383.3 572.0 382.9 572.0 382.9 572.2 382.6 572.3 382.3 572.4 382.2 572.5 382.0 572.6 381.7 572.7 381.6 572.9 381.2 572.9 381.2 573.1 380.9 573.2 381.0 573.3 381.0 573.4 381.0 573.5 381.1 573.6 381.2 573.8 381.5 573.8 381.6 574.0 381.8 574.1 382.2 574.2 382.2 574.4 382.7 574.4 382.8 574.5 383.0 574.7 383.2 574.7 383.2 574.9 383.4 575.0 383.4 575.1 383.5 575.3 383.4 575.3 383.4 575.4 383.4 575.6 383.2 575.6 383.2 575.8 382.9 575.9 382.8 576.0 382.8 576.2 382.5 576.2 382.4 576.4 382.1 576.5 382.2 576.5 382.2 576.7 382.0 576.8 381.9 576.9 381.8 577.1 381.7 577.1 381.7 577.3 381.7 577.4 381.7 577.4 381.7 577.6 381.8 577.7 381.9 577.8 381.9 578.0 382.1 578.0 382.1 578.2 382.3 578.3 382.5 578.3 382.6 578.5 382.8 578.6 382.9 578.7 383.0 578.9 383.3 578.9 383.3 579.1 383.4 579.2 383.6 579.3 383.6 579.4 383.5 579.5 383.4 579.6 383.4 579.8 383.3 579.8 383.2 580.0 383.0 580.1 382.7 580.2 382.6 580.3 382.3 580.4 382.1 580.5 381.8 580.7 381.6 580.7 381.5 580.9 381.4 581.0 381.2 581.1 381.2 581.3 381.2 581.3 381.2 581.4 381.3 581.6 381.4 581.6 381.4 581.8 381.7 581.9 381.9 582.0 382.0 582.2 382.3 582.2 382.4 582.3 382.6 582.5 382.8 582.5 382.8 582.7 383.0 582.8 383.1 582.9 383.1 583.1 383.2 583.1 383.2 583.3 383.2 583.4 383.0 583.4 383.0 583.6 383.1 583.7 382.9 583.8 382.8 584.0 382.7 584.0 382.7 584.2 382.5 584.3 382.3 584.3 382.3 584.5 382.1 584.6 382.1 584.7 382.1 584.9 381.8 584.9 381.8 585.1 381.7 585.2 381.8 585.3 381.8 585.4 381.7 585.5 381.8 585.6 381.9 585.8 382.0 585.8 382.0 586.0 382.1 586.1 382.3 586.2 382.3 586.3 382.6 586.4 382.7 586.5 382.8 586.7 383.1 586.7 383.2 586.9 383.3 587.0 383.4 587.1 383.5 587.3 383.6 587.3 383.5 587.4 383.4 587.6 383.4 587.6 383.4 587.8 383.2 587.9 382.9 588.0 382.8 588.2 382.6 588.2 382.5 588.3 382.4 588.5 382.0 588.5 382.0 588.7 381.7 588.8 381.6 588.9 381.6 589.1 381.6 589.1 381.6 589.2 381.6 589.4 381.6 589.4 381.6 589.6 381.8 589.7 381.9 589.8 381.9 590.0 382.1 590.0 382.2 590.2 382.4 590.3 382.5 590.3 382.5 590.5 382.6 590.6 382.8 590.7 382.9 590.9 382.9 590.9 382.9 591.1 382.9 591.2 382.2 591.2 382.2 591.4 382.7 591.5 382.8 591.6 382.9 591.8 382.6 591.8 382.7 592.0 383.0 592.1 382.1 592.2 382.0 592.3 382.3 592.4 382.1 592.5 382.0 592.7 382.4 592.7 382.5 592.9 382.5 593.0 382.3 593.1 382.2 593.2 381.9 593.3 382.1 593.4 382.4 593.6 382.3 593.6 382.3 593.8 382.7 593.9 382.4 594.0 382.3 594.2 382.9 594.2 382.7 594.3 382.5 594.5 381.6 594.5 381.7 594.7 382.4 594.8 381.9 594.9 381.8 595.1 382.9 595.1 382.9 595.2 383.1 595.4 382.4 595.4 382.4 595.6 382.6 595.7 381.9 595.8 381.6 596.0 381.3 596.0 381.6 596.2 382.1 596.3 382.3 596.3 382.3 596.5 381.7 596.6 382.2 596.7 382.5 596.9 382.6 596.9 382.6 597.1 382.7 597.2 383.2 597.2 383.2 597.4 382.8 597.5 382.4 597.6 382.2 597.8 382.6 597.8 382.6 598.0 382.6 598.1 381.9 598.1 381.9 598.3 383.0 598.4 382.9 598.5 382.9 598.7 382.3 598.7 382.2 598.9 382.0 599.0 383.9 599.1 384.2 599.2 382.8 599.3 382.9 599.4 383.0 599.6 383.3 599.6 383.2 599.8 382.9 599.9 382.5 600.0 382.5 600.1 382.8 600.2 382.7 600.3 382.6 600.5 383.0 600.5 383.1 600.7 383.4 600.8 383.6 600.9 383.6 601.1 383.9 601.1 383.9 601.2 383.9 601.4 383.8 601.4 383.8 601.6 383.7 601.7 383.5 601.8 383.4 602.0 382.9 602.0 382.7 602.1 382.4 602.3 382.0 602.3 381.9 602.5 381.6 602.6 381.4 602.7 381.3 602.9 381.1 602.9 381.1 603.1 381.0 603.2 381.0 603.2 381.0 603.4 381.4 603.5 381.5 603.6 381.6 603.8 381.9 603.8 382.1 604.0 382.3 604.1 382.5 604.1 382.5 604.3 382.9 604.4 383.0 604.5 383.1 604.7 383.3 604.7 383.3 604.9 383.2 605.0 383.3 605.1 383.3 605.2 383.3 605.3 383.2 605.4 383.1 605.6 382.9 605.6 382.9 605.8 382.8 605.9 382.4 606.0 382.4 606.1 382.2 606.2 382.0 606.3 381.9 606.5 381.7 606.5 381.7 606.7 381.5 606.8 381.3 606.9 381.3 607.1 381.3 607.1 381.3 607.2 381.3 607.4 381.6 607.4 381.6 607.6 381.8 607.7 382.2 607.8 382.3 608.0 382.6 608.0 382.8 608.1 383.1 608.3 383.5 608.3 383.6 608.5 383.9 608.6 383.9 608.7 383.9 608.9 384.1 608.9 384.1 609.0 384.0 609.2 383.7 609.2 383.7 609.4 383.3 609.5 383.1 609.6 383.0 609.8 382.4 609.8 382.2 610.0 381.9 610.1 381.6 610.1 381.6 610.3 381.2 610.4 381.1 610.5 381.0 610.7 380.9 610.7 381.0 610.9 381.1 611.0 381.4 611.0 381.5 611.2 381.8 611.3 381.9 611.4 381.9 611.6 382.3 611.6 382.1 611.8 382.7 611.9 382.9 612.0 382.7 612.1 383.1 612.2 383.1 612.3 383.4 612.5 382.1 612.5 382.5 612.8 383.7 612.8 383.7 613.0 384.3 613.1 384.0 613.2 384.0 613.4 383.1 613.5 383.2 613.7 381.8 613.8 381.9 614.0 380.2 614.0 380.4 614.2 380.0 614.3 380.1 614.5 379.9 614.6 380.7 614.8 381.8 614.9 382.6 615.0 382.8 615.2 383.5 615.2 383.9 615.5 384.7 615.5 384.6 615.8 384.2 615.8 383.8 616.0 382.8 616.1 382.1 616.2 380.9 616.4 380.9 616.5 380.1 616.7 379.7 616.8 380.1 617.0 380.7 617.0 380.9 617.2 381.8 617.3 382.5 617.5 383.5 617.6 383.6 617.8 384.2 617.9 384.3 618.0 384.3 618.2 383.4 618.2 383.3 618.5 382.3 618.5 382.1 618.8 381.2 618.8 380.7 619.0 380.1 619.1 380.1 619.2 380.4 619.4 381.0 619.5 381.7 619.7 382.8 619.8 382.7 620.0 383.3 620.0 383.2 620.2 383.8 620.3 383.6 620.5 383.9 620.6 383.2 620.8 382.7 620.9 382.1 621.0 382.1 621.2 380.9 621.2 381.2 621.5 380.6 621.5 380.9 621.8 381.0 621.8 381.5 622.0 381.9 622.1 382.5 622.2 382.8 622.4 382.2 622.5 381.9 622.7 382.4 622.8 382.5 623.0 382.8 623.0 382.7 623.2 383.1 623.3 383.0 623.5 382.7 623.6 382.5 623.8 382.5 623.9 382.3 624.0 382.2 624.2 381.6 624.2 381.8 624.5 381.3 624.5 381.7 624.8 381.8 624.8 381.4 625.0 381.7 625.1 381.7 625.2 381.8 625.4 382.5 625.5 382.4 625.7 382.5 625.8 382.4 626.0 382.7 626.0 382.6 626.2 382.8 626.3 382.5 626.5 382.6 626.6 382.4 626.8 382.1 626.9 382.6 627.0 382.4 627.2 381.9 627.2 381.7 627.5 381.7 627.5 381.7 627.8 381.7 627.8 381.5 628.0 381.7 628.1 382.0 628.2 382.1 628.4 381.8 628.5 382.2 628.7 382.2 628.8 382.2 629.0 382.4 629.0 382.4 629.2 382.7 629.3 382.7 629.5 382.4 629.6 382.3 629.8 382.7 629.9 382.6 630.0 382.3 630.2 382.0 630.2 382.2 630.5 382.2 630.5 381.8 630.8 382.2 630.8 381.9 631.0 382.1 631.1 381.9 631.2 382.0 631.4 382.1 631.5 382.2 631.7 382.6 631.8 382.2 632.0 382.4 632.0 382.6 632.2 382.5 632.3 382.9 632.5 382.2 632.6 383.0 632.8 382.3 632.9 382.4 633.0 382.5 633.2 382.1 633.2 381.7 633.5 381.8 633.5 381.8 633.8 381.9 633.8 382.0 634.0 382.0 634.1 382.2 634.2 381.8 634.4 382.3 634.5 381.9 634.7 382.5 634.8 382.2 635.0 382.3 635.0 382.9 635.2 382.7 635.3 382.9 635.5 382.4 635.6 382.3 635.8 382.5 635.9 382.1 636.0 382.2 636.2 381.8 636.2 381.8 636.5 381.4 636.5 381.9 636.8 381.5 636.8 381.3 637.0 381.8 637.1 381.8 637.2 381.9 637.4 382.2 637.5 382.1 637.7 382.5 637.8 382.1 638.0 382.5 638.0 382.6 638.2 383.0 638.3 383.1 638.5 382.8 638.6 382.6 638.8 382.8 638.9 382.2 639.0 382.3 639.2 381.9 639.2 381.5 639.5 381.6 639.5 381.5 639.8 381.2 639.8 381.5 640.0 381.9 640.1 382.6 640.2 382.8 640.4 382.7 640.5 382.9 640.7 382.4 640.8 382.9 641.0 382.9 641.0 382.8 641.2 382.2 641.3 382.5 641.5 382.1 641.6 382.2 641.8 381.7 641.9 381.7 642.0 381.6 642.2 381.8 642.2 381.7 642.5 382.1 642.5 382.1 642.8 382.2 642.8 382.2 643.0 382.4 643.1 382.6 643.2 382.9 643.4 382.8 643.5 382.9 643.7 382.8 643.8 382.7 644.0 382.4 644.0 382.1 644.2 382.2 644.3 382.1 644.5 381.6 644.6 382.0 644.8 381.3 644.9 381.7 645.0 381.5 645.2 381.7 645.2 381.9 645.5 382.2 645.5 382.1 645.8 382.3 645.8 382.4 646.0 382.9 646.1 383.3 646.2 383.3 646.4 383.0 646.5 383.1 646.7 382.8 646.8 383.0 647.0 382.0 647.0 382.3 647.2 381.8 647.3 381.4 647.5 381.1 647.6 381.5 647.8 381.3 647.9 381.3 648.0 381.5 648.2 382.0 648.2 381.9 648.5 382.7 648.5 382.4 648.8 382.8 648.8 383.0 649.0 383.0 649.1 383.1 649.2 383.4 649.4 383.2 649.5 382.9 649.7 382.4 649.8 382.1 650.0 381.6 650.0 381.8 650.2 381.4 650.3 381.2 650.5 381.1 650.6 381.6 650.8 381.6 650.9 381.7 651.0 381.8 651.2 382.5 651.2 382.4 651.5 382.8 651.5 382.5 651.8 382.7 651.8 382.7 652.0 382.6 652.1 382.9 652.2 382.9 652.4 382.3 652.5 382.5 652.7 382.0 652.8 381.9 653.0 381.3 653.0 381.8 653.2 381.7 653.3 381.4 653.5 381.9 653.6 381.7 653.8 381.7 653.9 382.0 654.0 381.8 654.2 382.5 654.2 382.2 654.5 383.0 654.5 382.9 654.8 382.5 654.8 382.9 655.0 382.3 655.1 382.6 655.2 382.5 655.4 382.2 655.5 381.9 655.7 381.8 655.8 381.8 656.0 381.7 656.0 382.0 656.2 382.1 656.3 382.1 656.5 381.8 656.6 381.9 656.8 382.2 656.9 382.4 657.0 382.0 657.2 382.4 657.2 382.9 657.5 382.4 657.5 382.5 657.8 382.4 657.8 382.6 658.0 382.4 658.1 382.2 658.2 381.9 658.4 382.1 658.5 382.0 658.7 381.7 658.8 381.8 659.0 382.0 659.0 381.5 659.2 381.6 659.3 381.8 659.5 381.9 659.6 381.6 659.8 382.2 659.9 382.7 660.0 382.5 660.2 382.8 660.2 382.1 660.5 382.6 660.5 382.9 660.8 382.8 660.8 382.3 661.0 382.0 661.1 382.1 661.2 381.7 661.4 381.7 661.5 381.4 661.7 381.7 661.8 381.7 662.0 382.1 662.0 381.9 662.2 381.9 662.3 382.1 662.5 382.1 662.6 382.5 662.8 382.6 662.9 382.9 663.0 383.0 663.2 382.4 663.2 382.9 663.5 382.8 663.5 382.3 663.8 382.7 663.8 382.1 664.0 382.7 664.1 382.8 664.2 383.2 664.4 383.5 664.5 383.8 664.7 383.5 664.8 383.6 665.0 382.9 665.0 383.3 665.2 382.3 665.3 382.2 665.5 381.5 665.6 380.7 665.8 380.7 665.9 380.5 666.0 380.4 666.2 380.8 666.2 380.7 666.5 381.7 666.5 382.1 666.8 382.7 666.8 383.0 667.0 383.8 667.1 384.4 667.2 384.3 667.4 384.5 667.5 383.4 667.7 382.9 667.8 382.9 668.0 381.7 668.0 381.8 668.2 380.4 668.3 380.1 668.5 380.1 668.6 380.3 668.8 379.6 668.9 381.0 669.0 381.2 669.2 382.2 669.2 382.4 669.5 383.8 669.5 383.9 669.8 384.5 669.8 384.3 670.0 384.5 670.1 383.8 670.2 383.6 670.4 382.4 670.5 382.2 670.7 381.1 670.8 380.9 671.0 380.1 671.0 379.7 671.2 380.1 671.3 380.3 671.5 380.6 671.6 381.3 671.8 381.4 671.9 382.9 672.0 383.1 672.2 383.6 672.2 384.2 672.5 384.2 672.5 384.3 672.8 383.7 672.8 383.5 673.0 382.7 673.1 382.0 673.2 381.6 673.4 381.0 673.5 380.2 673.7 380.4 673.8 380.3 674.0 380.5 674.0 381.1 674.2 381.8 674.3 381.7 674.5 382.4 674.6 383.2 674.8 383.2 674.9 383.5 675.0 383.3 675.2 383.5 675.2 383.7 675.5 382.8 675.5 382.7 675.8 382.4 675.8 382.0 676.0 381.6 676.1 381.3 676.2 381.2 676.4 380.7 676.5 380.9 676.7 381.2 676.8 382.0 677.0 382.2 677.0 382.3 677.2 382.7 677.3 382.7 677.5 382.6 677.6 383.6 677.8 383.2 677.9 382.9 678.0 382.6 678.2 382.3 678.2 382.4 678.5 381.7 678.5 381.8 678.8 381.2 678.8 381.4 679.0 381.4 679.1 381.5 679.2 381.6 679.4 381.8 679.5 381.8 679.7 382.6 679.8 382.5 680.0 382.0 680.0 382.4 680.2 382.0 680.3 382.3 680.5 382.6 680.6 382.7 680.8 382.4 680.9 382.5 681.0 382.6 681.2 382.3 681.2 382.2 681.5 382.3 681.5 382.2 681.8 382.1 681.8 382.2 682.0 382.0 682.1 381.8 682.2 381.9 682.4 382.3 682.5 381.8 682.7 382.0 682.8 381.9 683.0 382.3 683.0 382.0 683.2 382.5 683.3 382.6 683.5 382.4 683.6 382.4 683.8 382.3 683.9 382.5 684.0 382.3 684.2 382.3 684.2 382.3 684.5 382.1 684.5 382.3 684.8 382.3 684.8 381.5 685.0 381.7 685.1 381.8 685.2 381.5 685.4 381.7 685.5 381.8 685.7 382.2 685.8 382.2 686.0 382.1 686.0 382.3 686.2 382.4 686.3 382.5 686.5 382.4 686.6 382.4 686.8 382.7 686.9 382.9 687.0 382.8 687.2 382.1 687.2 382.5 687.5 382.1 687.5 382.2 687.8 381.7 687.8 382.0 688.0 381.6 688.1 381.7 688.2 381.7 688.4 381.2 688.5 381.6 688.7 382.2 688.8 381.9 689.0 382.4 689.0 382.3 689.2 382.4 689.3 382.7 689.5 383.0 689.6 383.1 689.8 383.2 689.9 382.6 690.0 383.0 690.2 382.3 690.2 382.5 690.5 382.2 690.5 382.3 690.8 381.9 690.8 382.0 691.0 381.5 691.1 381.7 691.2 381.6 691.4 381.6 691.5 381.4 691.7 382.0 691.8 381.9 692.0 382.4 692.0 382.2 692.2 382.5 692.3 382.7 692.5 382.9 692.6 383.0 692.8 383.2 692.9 382.7 693.0 383.2 693.2 381.9 693.2 382.7 693.5 382.0 693.5 382.6 693.8 381.7 693.8 382.0 694.0 381.5 694.1 381.4 694.2 381.8 694.4 381.8 694.5 381.5 694.7 382.4 694.8 381.8 695.0 382.5 695.0 382.0 695.2 382.3 695.3 382.6 695.5 382.5 695.6 382.8 695.8 382.3 695.9 382.7 696.0 382.5 696.2 382.3 696.2 382.5 696.5 382.2 696.5 382.1 696.8 382.1 696.8 382.0 697.0 381.9 697.1 382.1 697.2 381.8 697.4 382.0 697.5 381.8 697.7 382.1 697.8 382.1 698.0 382.1 698.0 381.9 698.2 382.1 698.3 382.2 698.5 382.6 698.6 382.5 698.8 382.5 698.9 382.6 699.0 382.6 699.2 382.6 699.2 382.2 699.5 382.3 699.5 382.3 699.8 381.9 699.8 382.0 700.0 381.8 700.1 381.9 700.2 382.0 700.4 381.6 700.5 381.8 700.7 381.9 700.8 382.1 701.0 382.1 701.0 382.3 701.2 382.2 701.3 382.3 701.5 382.6 701.6 382.5 701.8 382.5 701.9 382.4 702.0 382.6 702.2 382.6 702.2 382.3 702.5 382.1 702.5 382.0 702.8 382.4 702.8 381.8 703.0 381.7 703.1 382.0 703.2 382.1 703.4 381.7 703.5 381.9 703.7 381.7 703.8 381.9 704.0 382.5 704.0 382.3 704.2 382.3 704.3 382.4 704.5 382.6 704.6 382.5 704.8 382.3 704.9 382.3 705.0 382.9 705.2 382.3 705.2 382.6 705.5 382.1 705.5 382.4 705.8 382.1 705.8 381.9 706.0 382.2 706.1 381.6 706.2 381.7 706.4 381.6 706.5 381.6 706.7 381.9 706.8 381.8 707.0 382.1 707.0 382.6 707.2 382.1 707.3 382.3 707.5 382.5 707.6 382.6 707.8 383.0 707.9 382.9 708.0 382.8 708.2 382.5 708.2 383.0 708.5 382.0 708.5 381.9 708.8 381.9 708.8 381.9 709.0 381.6 709.1 381.4 709.2 381.3 709.4 381.6 709.5 381.5 709.7 381.8 709.8 381.7" stroke="#0f6db2" stroke-width="0.75" fill="none" stroke-linejoin="round"/>
<rect x="20.0" y="331.5" width="690.5" height="96.0" stroke="#a5a5a5" fill="none"/>
<path d="M118.5 427.5v-6.5M118.5 331.5v6.5M217.5 427.5v-6.5M217.5 331.5v6.5M316.5 427.5v-6.5M316.5 331.5v6.5M414.5 427.5v-6.5M414.5 331.5v6.5M513.5 427.5v-6.5M513.5 331.5v6.5M612.5 427.5v-6.5M612.5 331.5v6.5M20.0 347.5h6.5M710.5 347.5h-6.5M20.0 363.5h6.5M710.5 363.5h-6.5M20.0 379.5h6.5M710.5 379.5h-6.5M20.0 395.5h6.5M710.5 395.5h-6.5M20.0 411.5h6.5M710.5 411.5h-6.5" stroke="#a5a5a5" fill="none"/>
<text class="t" x="18.6" y="335.8" font-size="12" text-anchor="end" fill="#1a1a1a">13</text>
<text class="t" x="18.6" y="351.8" font-size="12" text-anchor="end" fill="#1a1a1a">12</text>
<text class="t" x="18.6" y="367.8" font-size="12" text-anchor="end" fill="#1a1a1a">11</text>
<text class="t" x="18.6" y="383.8" font-size="12" text-anchor="end" fill="#1a1a1a">10</text>
<text class="t" x="18.6" y="399.8" font-size="12" text-anchor="end" fill="#1a1a1a">9</text>
<text class="t" x="18.6" y="415.8" font-size="12" text-anchor="end" fill="#1a1a1a">8</text>
<text class="t" x="18.6" y="431.8" font-size="12" text-anchor="end" fill="#1a1a1a">7</text>
<text class="t" x="20.0" y="440.0" font-size="12" text-anchor="middle" fill="#1a1a1a">0</text>
<text class="t" x="118.5" y="440.0" font-size="12" text-anchor="middle" fill="#1a1a1a">10</text>
<text class="t" x="217.5" y="440.0" font-size="12" text-anchor="middle" fill="#1a1a1a">20</text>
<text class="t" x="316.5" y="440.0" font-size="12" text-anchor="middle" fill="#1a1a1a">30</text>
<text class="t" x="414.5" y="440.0" font-size="12" text-anchor="middle" fill="#1a1a1a">40</text>
<text class="t" x="513.5" y="440.0" font-size="12" text-anchor="middle" fill="#1a1a1a">50</text>
<text class="t" x="612.5" y="440.0" font-size="12" text-anchor="middle" fill="#1a1a1a">60</text>
<text class="t" x="710.5" y="440.0" font-size="12" text-anchor="middle" fill="#1a1a1a">70</text>
<text class="t" x="312.8" y="321.5" font-size="11.65" fill="#1a1a1a">Acceleration Z <tspan dx="0.4" font-size="12">[ms</tspan><tspan dx="0.4" dy="-4.6" font-size="9">-2</tspan><tspan dx="0.6" dy="4.6" font-size="12">]</tspan></text>
<g transform="translate(0.9,0)">
<rect x="513" y="377" width="99" height="12" stroke="#000" stroke-width="2" fill="none"/>
<rect x="600.5" y="312.5" width="110.0" height="61.5" fill="#fff"/>
<text x="598.2" y="324.2" font-size="10.7" text-anchor="end" fill="#fff" stroke="#fff" stroke-width="6">10</text>
<text class="t" x="598.2" y="324.2" font-size="10.7" text-anchor="end" fill="#1a1a1a">10</text>
<text x="598.2" y="336.25" font-size="10.7" text-anchor="end" fill="#fff" stroke="#fff" stroke-width="6">9.9</text>
<text class="t" x="598.2" y="336.25" font-size="10.7" text-anchor="end" fill="#1a1a1a">9.9</text>
<text x="598.2" y="348.3" font-size="10.7" text-anchor="end" fill="#fff" stroke="#fff" stroke-width="6">9.8</text>
<text class="t" x="598.2" y="348.3" font-size="10.7" text-anchor="end" fill="#1a1a1a">9.8</text>
<text x="598.2" y="360.35" font-size="10.7" text-anchor="end" fill="#fff" stroke="#fff" stroke-width="6">9.7</text>
<text class="t" x="598.2" y="360.35" font-size="10.7" text-anchor="end" fill="#1a1a1a">9.7</text>
<text x="598.2" y="372.40000000000003" font-size="10.7" text-anchor="end" fill="#fff" stroke="#fff" stroke-width="6">9.6</text>
<text class="t" x="598.2" y="372.40000000000003" font-size="10.7" text-anchor="end" fill="#1a1a1a">9.6</text>
<path d="M622.5 312.5V371.5M643.6 312.5V371.5M664.9 312.5V371.5M686.5 312.5V371.5M600.5 320.4H709.5M600.5 332.45H709.5M600.5 344.5H709.5M600.5 356.55H709.5M600.5 368.6H709.5" stroke="#efefef" fill="none"/>
<clipPath id="ci2"><rect x="600.5" y="312.5" width="109.0" height="59.0"/></clipPath>
<path clip-path="url(#ci2)" d="M600.5 339.6L600.7 343.1 600.9 343.0 601.1 341.5 601.3 341.5 601.5 338.3 601.7 344.9 601.9 339.9 602.1 344.2 602.3 337.8 602.5 346.8 602.7 339.0 602.9 347.0 603.1 341.5 603.3 344.9 603.5 342.3 603.7 344.8 603.9 342.5 604.1 346.3 604.3 344.8 604.5 344.6 604.7 347.5 604.9 339.7 605.1 346.3 605.3 342.9 605.5 337.7 605.7 344.1 605.9 341.8 606.1 347.2 606.3 340.6 606.5 342.3 606.7 343.1 606.9 336.5 607.1 344.5 607.3 339.0 607.5 346.0 607.7 347.9 607.9 342.2 608.1 337.5 608.3 344.1 608.5 343.6 608.7 344.9 608.9 341.9 609.1 338.8 609.3 342.4 609.5 339.4 609.7 347.6 609.9 340.1 610.1 341.1 610.3 343.0 610.5 338.4 610.7 341.6 610.9 342.0 611.1 341.4 611.3 341.6 611.5 346.7 611.7 343.8 611.9 338.2 612.1 341.1 612.3 344.8 612.5 340.2 612.7 342.2 612.9 343.1 613.1 343.9 613.3 341.2 613.5 341.1 613.7 338.7 613.9 343.3 614.1 340.2 614.3 347.1 614.5 342.3 614.7 341.0 614.9 345.3 615.1 342.4 615.3 342.9 615.5 342.9 615.7 340.9 615.9 340.1 616.1 340.1 616.3 345.4 616.5 340.1 616.7 340.5 616.9 341.8 617.1 344.5 617.3 348.6 617.5 339.7 617.7 345.0 617.9 342.6 618.1 342.0 618.3 344.1 618.5 338.5 618.7 344.2 618.9 343.5 619.1 339.1 619.3 347.2 619.5 345.2 619.7 346.1 619.9 338.5 620.1 341.4 620.3 340.9 620.5 344.5 620.7 346.6 620.9 336.9 621.1 342.4 621.3 342.6 621.5 345.2 621.7 341.8 621.9 338.5 622.1 342.4 622.3 339.1 622.5 339.8 622.7 342.5 622.9 341.1 623.1 343.3 623.3 337.9 623.5 348.9 623.7 347.0 623.9 344.9 624.1 338.1 624.3 336.4 624.5 340.0 624.7 342.4 624.9 348.8 625.1 347.2 625.3 340.9 625.5 345.3 625.7 346.5 625.9 342.4 626.1 345.8 626.3 343.4 626.5 339.7 626.7 339.1 626.9 342.0 627.1 345.4 627.3 338.9 627.5 337.5 627.7 343.9 627.9 333.7 628.1 348.0 628.3 341.6 628.5 344.5 628.7 347.7 628.9 338.4 629.1 339.3 629.3 349.3 629.5 342.5 629.7 341.6 629.9 343.2 630.1 345.0 630.3 346.4 630.5 343.0 630.7 341.9 630.9 341.8 631.1 343.7 631.3 346.8 631.5 342.8 631.7 349.1 631.9 339.8 632.1 343.7 632.3 348.0 632.5 345.7 632.7 344.1 632.9 340.2 633.1 340.1 633.3 342.2 633.5 343.6 633.7 342.5 633.9 337.7 634.1 339.7 634.3 343.2 634.5 344.9 634.7 337.5 634.9 341.3 635.1 337.5 635.3 340.6 635.5 352.9 635.7 343.2 635.9 341.3 636.1 340.8 636.3 339.1 636.5 336.2 636.7 342.0 636.9 342.6 637.1 346.9 637.3 337.0 637.5 343.7 637.7 346.3 637.9 336.0 638.1 344.3 638.3 337.5 638.5 344.1 638.7 347.2 638.9 341.7 639.1 342.7 639.3 340.7 639.5 343.2 639.7 346.4 639.9 342.0 640.1 341.5 640.3 343.9 640.5 344.6 640.7 337.6 640.9 343.2 641.1 345.0 641.3 347.5 641.5 351.0 641.7 353.7 641.9 355.8 642.1 355.4 642.3 356.0 642.5 354.8 642.7 352.3 642.9 348.3 643.1 344.9 643.3 340.9 643.5 336.6 643.7 333.2 643.9 330.9 644.1 329.9 644.3 330.3 644.5 331.5 644.7 332.6 644.9 335.0 645.1 337.9 645.3 341.5 645.5 343.9 645.7 346.2 645.9 348.0 646.1 349.2 646.3 349.6 646.5 349.3 646.7 349.0 646.9 348.4 647.1 347.3 647.3 345.3 647.5 343.4 647.7 341.9 647.9 338.9 648.1 337.0 648.3 334.8 648.5 333.1 648.7 331.9 648.9 332.2 649.1 332.9 649.3 335.3 649.5 337.0 649.7 340.5 649.9 344.5 650.1 347.8 650.3 351.4 650.5 354.1 650.7 354.7 650.9 355.8 651.1 354.9 651.3 354.1 651.5 350.9 651.7 347.9 651.9 344.9 652.1 340.7 652.3 337.9 652.5 335.7 652.7 333.9 652.9 333.8 653.1 333.8 653.3 334.7 653.5 335.7 653.7 337.4 653.9 339.3 654.1 341.3 654.3 342.7 654.5 345.3 654.7 347.0 654.9 347.9 655.1 348.5 655.3 349.2 655.5 349.2 655.7 348.7 655.9 348.2 656.1 345.4 656.3 343.8 656.5 341.5 656.7 338.6 656.9 335.9 657.1 333.4 657.3 331.9 657.5 331.6 657.7 332.0 657.9 332.3 658.1 334.8 658.3 337.6 658.5 341.1 658.7 344.3 658.9 347.7 659.1 350.7 659.3 351.9 659.5 353.5 659.7 352.9 659.9 352.0 660.1 350.8 660.3 348.3 660.5 346.5 660.7 344.1 660.9 341.2 661.1 339.2 661.3 337.5 661.5 336.5 661.7 336.2 661.9 336.3 662.1 336.4 662.3 337.2 662.5 338.4 662.7 340.4 662.9 341.5 663.1 343.9 663.3 344.9 663.5 347.3 663.7 347.7 663.9 349.0 664.1 350.2 664.3 350.3 664.5 349.4 664.7 349.0 664.9 346.3 665.1 344.0 665.3 340.8 665.5 338.9 665.7 335.9 665.9 333.6 666.1 331.3 666.3 331.6 666.5 331.7 666.7 333.4 666.9 335.7 667.1 337.7 667.3 341.1 667.5 344.3 667.7 346.6 667.9 348.4 668.1 349.5 668.3 350.3 668.5 350.0 668.7 350.1 668.9 348.5 669.1 346.4 669.3 345.1 669.5 342.8 669.7 340.3 669.9 340.7 670.1 339.4 670.3 337.5 670.5 337.2 670.7 337.3 670.9 337.2 671.1 337.5 671.3 338.5 671.5 339.9 671.7 341.3 671.9 343.5 672.1 345.3 672.3 347.0 672.5 349.0 672.7 349.6 672.9 351.5 673.1 350.2 673.3 350.1 673.5 348.7 673.7 346.6 673.9 343.9 674.1 341.6 674.3 337.9 674.5 336.0 674.7 334.4 674.9 333.1 675.1 332.9 675.3 334.3 675.5 334.8 675.7 336.8 675.9 339.0 676.1 341.3 676.3 343.6 676.5 345.2 676.7 346.8 676.9 347.6 677.1 348.1 677.3 348.4 677.5 347.0 677.7 347.3 677.9 345.4 678.1 344.7 678.3 343.2 678.5 341.7 678.7 339.7 678.9 340.0 679.1 338.0 679.3 337.2 679.5 337.4 679.7 337.0 679.9 338.1 680.1 339.0 680.3 340.0 680.5 341.6 680.7 343.8 680.9 345.1 681.1 347.7 681.3 349.4 681.5 350.3 681.7 351.0 681.9 350.1 682.1 350.1 682.3 348.6 682.5 345.5 682.7 343.7 682.9 341.9 683.1 339.3 683.3 337.0 683.5 335.8 683.7 336.0 683.9 336.5 684.1 335.9 684.3 337.4 684.5 338.4 684.7 340.1 684.9 341.9 685.1 343.1 685.3 344.1 685.5 346.1 685.7 345.9 685.9 346.3 686.1 340.5 686.3 344.2 686.5 346.0 686.7 343.9 686.9 346.5 687.1 339.3 687.3 341.4 687.5 339.3 687.7 342.6 687.9 342.8 688.1 341.1 688.3 338.2 688.5 342.3 688.7 341.3 688.9 344.6 689.1 341.4 689.3 346.2 689.5 343.2 689.7 336.1 689.9 342.3 690.1 337.5 690.3 345.6 690.5 347.4 690.7 342.2 690.9 343.9 691.1 336.6 691.3 334.0 691.5 340.1 691.7 341.8 691.9 337.2 692.1 342.8 692.3 344.0 692.5 344.3 692.7 348.3 692.9 345.4 693.1 340.9 693.3 343.4 693.5 344.0 693.7 338.4 693.9 347.0 694.1 345.8 694.3 341.6 694.5 339.4 694.7 355.6 694.9 345.4 695.1 346.7 695.3 349.3 695.5 345.9 695.7 342.8 695.9 345.1 696.1 343.4 696.3 346.8 696.5 349.5 696.7 351.5 696.9 353.3 697.1 353.7 697.3 353.1 697.5 352.4 697.7 349.5 697.9 345.9 698.1 342.2 698.3 339.0 698.5 336.0 698.7 333.7 698.9 332.4 699.1 331.6 699.3 331.6 699.5 334.4 699.7 336.3 699.9 338.8 700.1 341.7 700.3 343.1 700.5 345.7 700.7 347.3 700.9 349.1 701.1 348.6 701.3 348.8 701.5 349.0 701.7 347.6 701.9 345.8 702.1 345.0 702.3 341.9 702.5 340.7 702.7 338.5 702.9 337.0 703.1 335.3 703.3 334.1 703.5 334.2 703.7 334.1 703.9 336.2 704.1 338.0 704.3 341.2 704.5 343.9 704.7 347.2 704.9 350.7 705.1 353.5 705.3 353.7 705.5 355.1 705.7 354.5 705.9 351.8 706.1 349.2 706.3 346.4 706.5 342.1 706.7 338.7 706.9 336.6 707.1 333.3 707.3 332.0 707.5 331.2 707.7 332.4 707.9 333.9 708.1 337.1 708.3 339.3 708.5 340.8 708.7 344.4 708.9 345.9 709.1 347.1 709.3 348.6" stroke="#0b6fb5" stroke-width="1" fill="none" stroke-linejoin="round"/>
<rect x="600.5" y="312.5" width="109.0" height="59.0" stroke="#a5a5a5" fill="none"/>
<path d="M622.5 371.5v-2M622.5 312.5v2M643.6 371.5v-2M643.6 312.5v2M664.9 371.5v-2M664.9 312.5v2M686.5 371.5v-2M686.5 312.5v2M600.5 320.4h2M709.5 320.4h-2M600.5 332.45h2M709.5 332.45h-2M600.5 344.5h2M709.5 344.5h-2M600.5 356.55h2M709.5 356.55h-2M600.5 368.6h2M709.5 368.6h-2" stroke="#a5a5a5" fill="none"/>
<path d="M512 376L587 321M612 389L709.5 371.5" stroke="#222" stroke-width="0.7" fill="none"/>
</g></g>
<text class="t" x="365" y="455.5" font-size="12" text-anchor="middle" fill="#1a1a1a">Time [s]</text>
<path d="M10.79 72.73H13.47V75.10H10.79ZM14.85 72.73H17.17V75.10H14.85Z" fill="#fff"/>
<path d="M10.79 104.73H13.47V107.10H10.79ZM14.85 104.73H17.17V107.10H14.85Z" fill="#fff"/>
<path d="M111.00 145.43H113.67V147.80H111.00ZM115.06 145.43H117.38V147.80H115.06Z" fill="#fff"/>
<path d="M10.49 217.13H13.17V219.50H10.49ZM14.55 217.13H16.88V219.50H14.55Z" fill="#fff"/>
<path d="M10.49 255.93H13.17V258.30H10.49ZM14.55 255.93H16.88V258.30H14.55Z" fill="#fff"/>
<path d="M111.00 302.73H113.67V305.10H111.00ZM115.06 302.73H117.38V305.10H115.06Z" fill="#fff"/>
<path d="M5.42 334.73H8.09V337.10H5.42ZM9.48 334.73H11.80V337.10H9.48Z" fill="#fff"/>
<path d="M5.42 350.73H8.09V353.10H5.42ZM9.48 350.73H11.80V353.10H9.48Z" fill="#fff"/>
<path d="M5.42 366.73H8.09V369.10H5.42ZM9.48 366.73H11.80V369.10H9.48Z" fill="#fff"/>
<path d="M12.09 366.73H14.77V369.10H12.09ZM16.15 366.73H18.48V369.10H16.15Z" fill="#fff"/>
<path d="M5.42 382.73H8.09V385.10H5.42ZM9.48 382.73H11.80V385.10H9.48Z" fill="#fff"/>
<path d="M112.00 438.93H114.67V441.30H112.00ZM116.06 438.93H118.38V441.30H116.06Z" fill="#fff"/>
<path d="M587.37 323.25H589.75V325.50H587.37ZM590.99 323.25H593.06V325.50H590.99Z" fill="#fff"/>
</svg></body></html>
